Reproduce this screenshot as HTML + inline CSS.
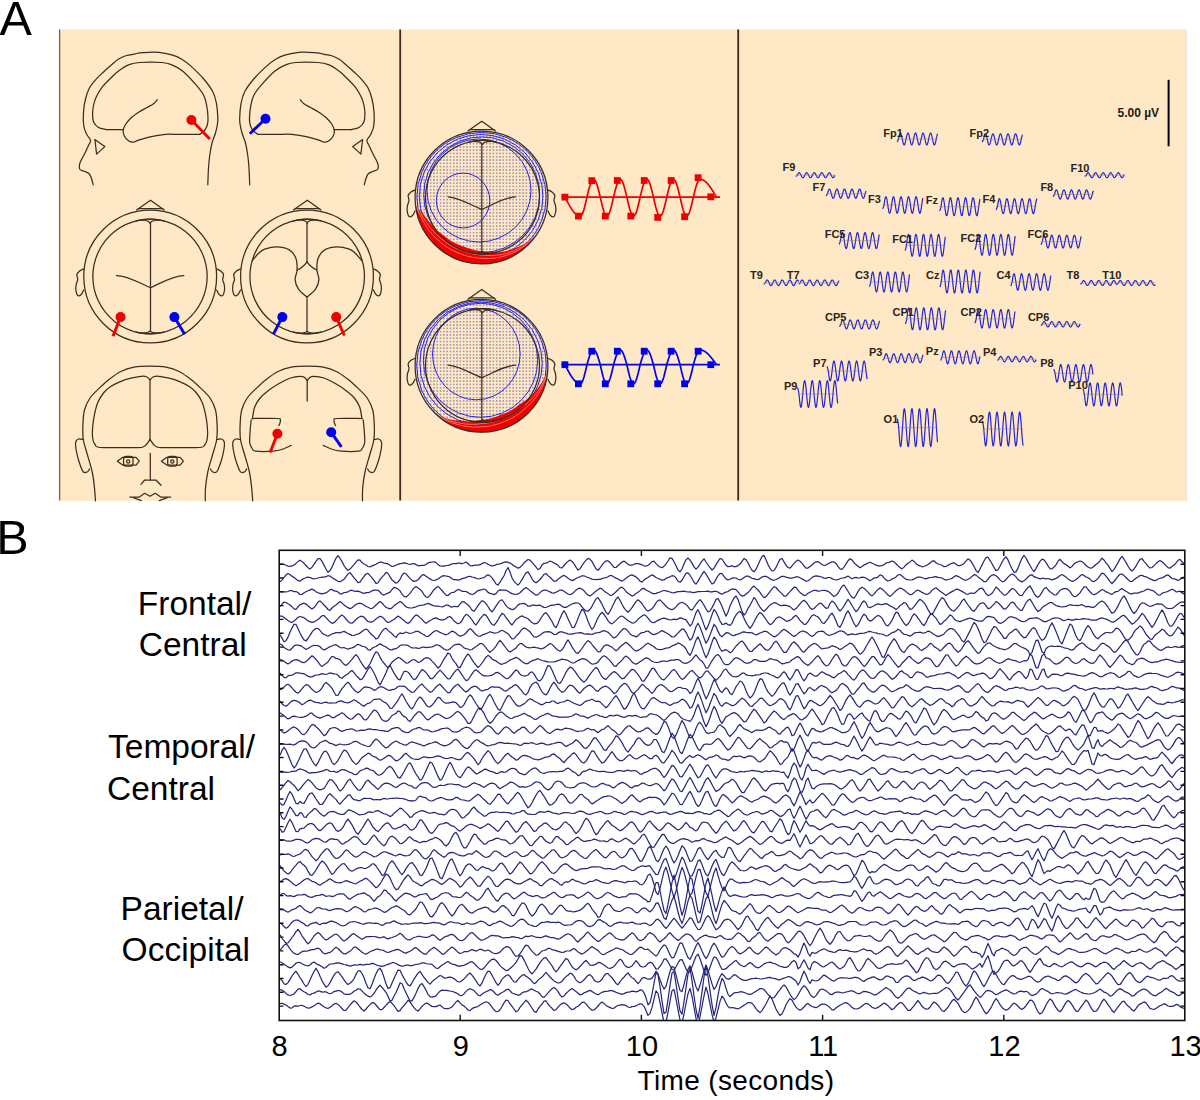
<!DOCTYPE html>
<html><head><meta charset="utf-8"><title>EEG figure</title>
<style>html,body{margin:0;padding:0;background:#fff;}svg{display:block;}</style></head>
<body>
<svg width="1200" height="1100" viewBox="0 0 1200 1100">
<rect x="0" y="0" width="1200" height="1100" fill="#ffffff"/>
<rect x="59" y="29.5" width="1127.6" height="471.3" fill="#ffe8c6"/>
<line x1="1186.4" y1="29.5" x2="1186.4" y2="500.8" stroke="#ece0dc" stroke-width="0.8"/>
<line x1="59.6" y1="29.5" x2="59.6" y2="500.5" stroke="#6e6357" stroke-width="1.3"/>
<line x1="400.2" y1="29.5" x2="400.2" y2="500.5" stroke="#3a2c1c" stroke-width="1.8"/>
<line x1="738.2" y1="29.5" x2="738.2" y2="500.5" stroke="#3a2c1c" stroke-width="1.8"/>
<text x="-0.6" y="34.9" font-family='"Liberation Sans", sans-serif' font-size="48.5" fill="#000">A</text>
<text x="-3.8" y="554" font-family='"Liberation Sans", sans-serif' font-size="48.5" fill="#000">B</text>
<g fill="none" stroke="#3a2e1f" stroke-width="1.25" stroke-linejoin="round" stroke-linecap="round">
<path d="M93.2 184.8 C92.9 183.8 92.2 180.3 91.5 178.5 C90.8 176.7 90.5 175 89.2 173.8 C88 172.6 85.6 172 84 171.2 C82.4 170.4 80.3 170.4 79.6 169 C78.9 167.6 79.2 165.3 80 162.8 C80.8 160.3 83.1 156.9 84.5 154 C85.9 151.1 87.5 147.8 88.5 145.5 C89.5 143.2 90.9 142.3 90.6 140.5 C90.3 138.7 87.9 136.9 86.8 134.5 C85.7 132.1 84.3 129.8 83.8 126 C83.2 122.2 83.2 116.5 83.5 112 C83.8 107.5 84.5 103 85.5 99 C86.5 95 87.5 91.5 89.3 88.2 C91.1 84.9 94 81.6 96.4 78.9 C98.8 76.2 101.2 74.2 103.5 72 C105.8 69.8 108 67.9 110.5 65.8 C113 63.7 115.5 61 118.2 59.3 C120.9 57.6 123.7 56.4 126.4 55.5 C129.1 54.6 132.2 54.6 134.5 54.1 C136.8 53.6 137.4 53.1 140 52.8 C142.6 52.5 146.8 52.4 150 52.3 C153.2 52.2 155.1 51.9 158.9 52.4 C162.7 52.9 168.8 54 172.7 55.2 C176.6 56.4 179.2 57.7 182.2 59.5 C185.2 61.3 187.4 62.9 190.9 66.1 C194.4 69.3 199.7 74.3 203.3 78.5 C206.9 82.7 210.5 87.4 212.7 91.5 C214.9 95.6 215.6 98.8 216.4 103.2 C217.2 107.6 217.7 114.1 217.8 117.7 C218 121.3 217.7 122.5 217.3 125 C216.9 127.5 216.4 130 215.5 133 C214.6 136 212.9 139.3 212 143 C211.1 146.7 210.4 150.8 209.8 155 C209.2 159.2 208.8 163 208.5 168 C208.2 173 207.9 182 207.8 184.8"/>
<path d="M106.2 129.6 C104.9 129.2 100.6 128.8 98.5 127.5 C96.4 126.2 94.6 124.4 93.6 122 C92.6 119.6 92.6 115.7 92.6 113 C92.6 110.3 92.9 108.5 93.4 106 C93.9 103.5 94.4 101.1 95.8 98 C97.2 94.9 99.2 91 101.8 87.6 C104.3 84.2 108.4 80.5 111.1 77.8 C113.8 75.1 115.2 73.5 118.2 71.3 C121.2 69.1 125.5 66.2 129.1 64.7 C132.7 63.2 134.6 62.9 140 62.5 C145.4 62.1 156.6 62.1 161.8 62.5 C167 62.9 167.8 63.1 171.3 64.6 C174.8 66 178.7 67.7 182.9 71.2 C187.1 74.7 193.2 81.6 196.7 85.7 C200.2 89.8 202.3 92.4 204 95.9 C205.7 99.4 206.2 103.2 206.9 106.8 C207.6 110.4 207.9 114.7 208 117.7 C208.1 120.7 207.9 122.9 207.3 125 C206.7 127.1 205.8 128.9 204.5 130.5 C203.2 132.1 200.4 133.8 199.6 134.4 L199.6 134.4 C196.3 134.4 185.7 134.4 180 134.4 C174.3 134.4 170.5 134 165.5 134.4 C160.5 134.8 154.6 135.8 150 136.8 C145.4 137.8 140.8 139.4 138 140.3 C135.2 141.2 135.1 142.1 133.5 142.2 C131.9 142.3 130 141.8 128.5 140.8 C127 139.8 125.2 137.7 124.3 136 C123.4 134.3 123 132.4 123.2 130.5 C123.4 128.6 124.2 126.6 125.5 124.5 C126.8 122.4 128.8 120.1 131 118 C133.2 115.9 136.3 113.8 139 112 C141.7 110.2 144.5 108.9 147 107.5 C149.5 106.1 152.2 104.8 153.9 103.5 C155.6 102.2 156.7 100.2 157.3 99.6"/>
<path d="M106.2 129.6 L123.4 129.6"/>
<path d="M94.8 139.5 L104.8 146.6 L96.6 154.1 L95.2 142 Z"/>
<g transform="matrix(-1 0 0 1 457.5 0)">
<path d="M93.2 184.8 C92.9 183.8 92.2 180.3 91.5 178.5 C90.8 176.7 90.5 175 89.2 173.8 C88 172.6 85.6 172 84 171.2 C82.4 170.4 80.3 170.4 79.6 169 C78.9 167.6 79.2 165.3 80 162.8 C80.8 160.3 83.1 156.9 84.5 154 C85.9 151.1 87.5 147.8 88.5 145.5 C89.5 143.2 90.9 142.3 90.6 140.5 C90.3 138.7 87.9 136.9 86.8 134.5 C85.7 132.1 84.3 129.8 83.8 126 C83.2 122.2 83.2 116.5 83.5 112 C83.8 107.5 84.5 103 85.5 99 C86.5 95 87.5 91.5 89.3 88.2 C91.1 84.9 94 81.6 96.4 78.9 C98.8 76.2 101.2 74.2 103.5 72 C105.8 69.8 108 67.9 110.5 65.8 C113 63.7 115.5 61 118.2 59.3 C120.9 57.6 123.7 56.4 126.4 55.5 C129.1 54.6 132.2 54.6 134.5 54.1 C136.8 53.6 137.4 53.1 140 52.8 C142.6 52.5 146.8 52.4 150 52.3 C153.2 52.2 155.1 51.9 158.9 52.4 C162.7 52.9 168.8 54 172.7 55.2 C176.6 56.4 179.2 57.7 182.2 59.5 C185.2 61.3 187.4 62.9 190.9 66.1 C194.4 69.3 199.7 74.3 203.3 78.5 C206.9 82.7 210.5 87.4 212.7 91.5 C214.9 95.6 215.6 98.8 216.4 103.2 C217.2 107.6 217.7 114.1 217.8 117.7 C218 121.3 217.7 122.5 217.3 125 C216.9 127.5 216.4 130 215.5 133 C214.6 136 212.9 139.3 212 143 C211.1 146.7 210.4 150.8 209.8 155 C209.2 159.2 208.8 163 208.5 168 C208.2 173 207.9 182 207.8 184.8"/>
<path d="M106.2 129.6 C104.9 129.2 100.6 128.8 98.5 127.5 C96.4 126.2 94.6 124.4 93.6 122 C92.6 119.6 92.6 115.7 92.6 113 C92.6 110.3 92.9 108.5 93.4 106 C93.9 103.5 94.4 101.1 95.8 98 C97.2 94.9 99.2 91 101.8 87.6 C104.3 84.2 108.4 80.5 111.1 77.8 C113.8 75.1 115.2 73.5 118.2 71.3 C121.2 69.1 125.5 66.2 129.1 64.7 C132.7 63.2 134.6 62.9 140 62.5 C145.4 62.1 156.6 62.1 161.8 62.5 C167 62.9 167.8 63.1 171.3 64.6 C174.8 66 178.7 67.7 182.9 71.2 C187.1 74.7 193.2 81.6 196.7 85.7 C200.2 89.8 202.3 92.4 204 95.9 C205.7 99.4 206.2 103.2 206.9 106.8 C207.6 110.4 207.9 114.7 208 117.7 C208.1 120.7 207.9 122.9 207.3 125 C206.7 127.1 205.8 128.9 204.5 130.5 C203.2 132.1 200.4 133.8 199.6 134.4 L199.6 134.4 C196.3 134.4 185.7 134.4 180 134.4 C174.3 134.4 170.5 134 165.5 134.4 C160.5 134.8 154.6 135.8 150 136.8 C145.4 137.8 140.8 139.4 138 140.3 C135.2 141.2 135.1 142.1 133.5 142.2 C131.9 142.3 130 141.8 128.5 140.8 C127 139.8 125.2 137.7 124.3 136 C123.4 134.3 123 132.4 123.2 130.5 C123.4 128.6 124.2 126.6 125.5 124.5 C126.8 122.4 128.8 120.1 131 118 C133.2 115.9 136.3 113.8 139 112 C141.7 110.2 144.5 108.9 147 107.5 C149.5 106.1 152.2 104.8 153.9 103.5 C155.6 102.2 156.7 100.2 157.3 99.6"/>
<path d="M106.2 129.6 L123.4 129.6"/>
<path d="M94.8 139.5 L104.8 146.6 L96.6 154.1 L95.2 142 Z"/>
</g>
<circle cx="150.2" cy="276.5" r="66.4"/>
<path d="M136.6 210 L150.5 200.2 L164.2 210"/>
<path d="M138.2 208.5 L162.8 208.5"/>
<path d="M83.7 269 C83 269.3 80.8 270.1 79.7 271 C78.6 271.9 77.2 273.1 76.9 274.5 C76.6 275.9 77.8 277.8 77.7 279.5 C77.6 281.2 76.5 282.8 76.2 284.5 C75.9 286.2 75.6 288.2 75.9 290 C76.1 291.8 76.8 294.8 77.7 295.5 C78.6 296.2 80.2 295.4 81.2 294.5 C82.2 293.6 83.3 290.8 83.7 290"/>
<path d="M216.7 269 C217.4 269.3 219.6 270.1 220.7 271 C221.8 271.9 223.2 273.1 223.5 274.5 C223.8 275.9 222.6 277.8 222.7 279.5 C222.8 281.2 223.9 282.8 224.2 284.5 C224.5 286.2 224.8 288.2 224.5 290 C224.2 291.8 223.6 294.8 222.7 295.5 C221.8 296.2 220.2 295.4 219.2 294.5 C218.2 293.6 217.1 290.8 216.7 290"/>
<path d="M150 223.2 C148.4 219.8 140.8 219.7 136 220.9 A57.3 57.3 0 1 1 136 332.1 C140.8 333.3 148.4 333.3 150 331.2"/>
<path d="M150 223.2 C151.6 219.8 159.2 219.7 164 220.9 A57.3 57.3 0 1 0 164 332.1 C159.2 333.3 151.6 333.3 150 331.2"/>
<path d="M150.5 222.5 L150.5 331.5"/>
<path d="M116.4 275.5 C128.2 275.5 140.2 283.5 150.5 287.8 C160.2 283.5 172.2 275.5 183.9 275.5"/>
<circle cx="307" cy="276.5" r="66.4"/>
<path d="M293.4 210 L307.3 200.2 L321 210"/>
<path d="M295 208.5 L319.6 208.5"/>
<path d="M240.5 269 C239.8 269.3 237.6 270.1 236.5 271 C235.4 271.9 234 273.1 233.7 274.5 C233.4 275.9 234.6 277.8 234.5 279.5 C234.4 281.2 233.3 282.8 233 284.5 C232.7 286.2 232.4 288.2 232.7 290 C232.9 291.8 233.6 294.8 234.5 295.5 C235.4 296.2 237 295.4 238 294.5 C239 293.6 240.1 290.8 240.5 290"/>
<path d="M373.5 269 C374.2 269.3 376.4 270.1 377.5 271 C378.6 271.9 380 273.1 380.3 274.5 C380.6 275.9 379.4 277.8 379.5 279.5 C379.6 281.2 380.7 282.8 381 284.5 C381.3 286.2 381.6 288.2 381.3 290 C381.1 291.8 380.4 294.8 379.5 295.5 C378.6 296.2 377 295.4 376 294.5 C375 293.6 373.9 290.8 373.5 290"/>
<path d="M307.2 223.1 C305.6 219.7 298 219.6 293.2 220.8 A57.4 57.4 0 1 1 293.2 332.2 C298 333.4 305.6 333.4 307.2 331.4"/>
<path d="M307.2 223.1 C308.8 219.7 316.4 219.6 321.2 220.8 A57.4 57.4 0 1 0 321.2 332.2 C316.4 333.4 308.8 333.4 307.2 331.4"/>
<path d="M307 223.5 L307 261.8"/>
<path d="M307 298.7 L307 331.5"/>
<path d="M252.4 260.5 C253.5 259.2 256.9 254.9 259 253 C261.1 251.1 261.8 250.2 264.7 249.2 C267.6 248.2 272.6 246.7 276.6 246.8 C280.6 246.9 285.7 247.8 288.9 249.6 C292.1 251.4 294.3 254.4 295.7 257.8 C297.1 261.2 297.2 266.4 297.1 270 C297 273.6 294.9 276.4 295.1 279.6 C295.3 282.8 296.5 286.2 298.5 289.1 C300.5 292.1 305.6 295.9 307 297.3"/>
<path d="M307 261.8 Q303 267.5 297.1 270"/>
<path d="M361.6 260.5 C360.5 259.2 357.1 254.9 355 253 C352.9 251.1 352.2 250.2 349.3 249.2 C346.4 248.2 341.4 246.7 337.4 246.8 C333.4 246.9 328.3 247.8 325.1 249.6 C321.9 251.4 319.7 254.4 318.3 257.8 C316.9 261.2 316.8 266.4 316.9 270 C317 273.6 319.1 276.4 318.9 279.6 C318.7 282.8 317.5 286.2 315.5 289.1 C313.5 292.1 308.4 295.9 307 297.3"/>
<path d="M307 261.8 Q311 267.5 316.9 270"/>
<path d="M95.5 500.8 C95.3 498.7 95 492.8 94.5 488 C94 483.2 93.4 477.5 92.2 472 C91 466.5 89 460.3 87.5 455 C86 449.7 84.2 445 83.4 440 C82.6 435 82.7 430 82.9 425 C83.1 420 83.3 414.5 84.5 410 C85.7 405.5 87.6 401.6 90 398 C92.4 394.4 95.9 391.5 99.1 388.4 C102.3 385.3 105.4 382.3 109 379.5 C112.6 376.7 116.7 373.6 120.9 371.5 C125.1 369.4 129.2 368.1 134 367.2 C138.8 366.3 144.7 366.1 150 366.1 C155.3 366.1 161.2 366.3 166 367.2 C170.8 368.1 174.9 369.4 179.1 371.5 C183.3 373.6 187.4 376.7 191 379.5 C194.6 382.3 197.7 385.3 200.9 388.4 C204.1 391.5 207.6 394.4 210 398 C212.4 401.6 214.3 405.5 215.5 410 C216.7 414.5 216.9 420 217.1 425 C217.3 430 217.4 435 216.6 440 C215.8 445 214 449.7 212.5 455 C211 460.3 209 466.5 207.8 472 C206.6 477.5 205.9 483.2 205.5 488 C205.1 492.8 205.3 498.7 205.3 500.8"/>
<path d="M83.1 439.5 C82.3 439.4 79.7 438.6 78.5 439 C77.3 439.4 76.1 440.3 75.7 442 C75.3 443.7 75.5 446 76 449 C76.5 452 77.3 456.2 78.5 460 C79.7 463.8 81.5 469.5 83 471.5 C84.5 473.5 86.1 472.4 87.2 472 C88.3 471.6 89.1 469.5 89.5 469"/>
<path d="M216.9 439.5 C217.7 439.4 220.3 438.6 221.5 439 C222.7 439.4 223.9 440.3 224.3 442 C224.7 443.7 224.5 446 224 449 C223.5 452 222.7 456.2 221.5 460 C220.3 463.8 218.4 469.5 217 471.5 C215.6 473.5 213.9 472.4 212.8 472 C211.7 471.6 210.9 469.5 210.5 469"/>
<path d="M150 379.9 C149.5 379.4 148.4 377.6 147 377 C145.6 376.4 144.1 376.1 141.3 376.3 C138.5 376.5 133.4 377.5 130 378.3 C126.6 379.1 124.2 379.9 120.9 381.4 C117.6 382.8 112.9 385.1 110 387 C107.1 388.9 105.5 390.5 103.5 393 C101.5 395.5 99.5 398.6 98 402 C96.5 405.4 95.6 409.3 94.7 413.4 C93.8 417.5 93.1 422.4 92.7 426.5 C92.3 430.6 92.2 435 92.6 438 C93 441 93.7 442.9 95 444.5 C96.3 446.1 94.7 447 100.5 447.5 C106.3 448 123.2 447.5 130 447.5 C136.8 447.5 138.6 447.9 141.3 447.5 C144 447.1 144.6 446.3 146 445 C147.4 443.7 149.3 440.4 150 439.5"/>
<path d="M150 379.9 C150.5 379.4 151.6 377.6 153 377 C154.4 376.4 155.9 376.1 158.7 376.3 C161.5 376.5 166.6 377.5 170 378.3 C173.4 379.1 175.8 379.9 179.1 381.4 C182.4 382.8 187.1 385.1 190 387 C192.9 388.9 194.5 390.5 196.5 393 C198.5 395.5 200.5 398.6 202 402 C203.5 405.4 204.4 409.3 205.3 413.4 C206.2 417.5 207 422.4 207.3 426.5 C207.7 430.6 207.8 435 207.4 438 C207 441 206.3 442.9 205 444.5 C203.7 446.1 205.3 447 199.5 447.5 C193.7 448 176.8 447.5 170 447.5 C163.2 447.5 161.4 447.9 158.7 447.5 C156 447.1 155.4 446.3 154 445 C152.6 443.7 150.7 440.4 150 439.5"/>
<path d="M150 379.9 L150 439.5"/>
<path d="M117.3 461.2 L122.7 457.3 L136 457.3 L139.3 461.2 L136 465.1 L122.7 465.1 Z"/>
<rect x="123.6" y="456.4" width="9.4" height="9.8" rx="2.6"/>
<circle cx="128.2" cy="461.5" r="1.6"/>
<path d="M161.4 461.2 L166.8 457.3 L180.1 457.3 L183.4 461.2 L180.1 465.1 L166.8 465.1 Z"/>
<rect x="167.7" y="456.4" width="9.4" height="9.8" rx="2.6"/>
<circle cx="172.3" cy="461.5" r="1.6"/>
<path d="M150.3 453.3 L150.3 480"/>
<path d="M141 484.3 L144.7 480 L156 480 L161 485.3"/>
<path d="M129.7 497 L139.3 497 L144.7 493.3 L150 496.3 L155.3 493.3 L160.7 497 L170.7 497"/>
<path d="M133.3 497.7 L141.3 500.6 M159.3 500.6 L167.3 497.7"/>
<path d="M252.7 500.8 C252.5 498.7 252.2 492.8 251.7 488 C251.1 483.2 250.6 477.5 249.4 472 C248.2 466.5 246.2 460.3 244.7 455 C243.2 449.7 241.4 445 240.6 440 C239.8 435 239.9 430 240.1 425 C240.3 420 240.5 414.5 241.7 410 C242.9 405.5 244.8 401.6 247.2 398 C249.6 394.4 253.1 391.5 256.3 388.4 C259.5 385.3 262.6 382.3 266.2 379.5 C269.8 376.7 273.9 373.6 278.1 371.5 C282.3 369.4 286.4 368.1 291.2 367.2 C296 366.3 301.9 366.1 307.2 366.1 C312.5 366.1 318.4 366.3 323.2 367.2 C328 368.1 332.1 369.4 336.3 371.5 C340.5 373.6 344.6 376.7 348.2 379.5 C351.8 382.3 354.9 385.3 358.1 388.4 C361.3 391.5 364.8 394.4 367.2 398 C369.6 401.6 371.5 405.5 372.7 410 C373.9 414.5 374.1 420 374.3 425 C374.5 430 374.6 435 373.8 440 C373 445 371.2 449.7 369.7 455 C368.2 460.3 366.2 466.5 365 472 C363.8 477.5 363.1 483.2 362.7 488 C362.3 492.8 362.5 498.7 362.5 500.8"/>
<path d="M240.3 439.5 C239.5 439.4 236.9 438.6 235.7 439 C234.5 439.4 233.3 440.3 232.9 442 C232.5 443.7 232.7 446 233.2 449 C233.7 452 234.5 456.2 235.7 460 C236.9 463.8 238.8 469.5 240.2 471.5 C241.6 473.5 243.3 472.4 244.4 472 C245.5 471.6 246.3 469.5 246.7 469"/>
<path d="M374.1 439.5 C374.9 439.4 377.5 438.6 378.7 439 C379.9 439.4 381.1 440.3 381.5 442 C381.9 443.7 381.7 446 381.2 449 C380.7 452 379.9 456.2 378.7 460 C377.5 463.8 375.6 469.5 374.2 471.5 C372.8 473.5 371.1 472.4 370 472 C368.9 471.6 368.1 469.5 367.7 469"/>
<path d="M252.6 417.7 C252.9 415.9 253.5 410.2 254.7 407 C255.9 403.8 257.6 401.1 259.7 398.5 C261.8 395.9 264.1 393.9 267.2 391.5 C270.3 389.1 274.3 386.2 278.2 384 C282.1 381.8 286.8 379.3 290.5 378 C294.2 376.7 298.2 376.4 300.6 376.3 C303 376.2 303.6 376.9 304.7 377.6 C305.8 378.3 306.8 380.1 307.2 380.6"/>
<path d="M252 418.5 C256.2 418.5 272.7 418.3 277.4 418.5 C282.1 418.7 279.7 419.1 280.2 419.6 C280.7 420.2 280.5 420.8 280.3 421.8 C280.1 422.8 279.1 425.1 278.8 425.7"/>
<path d="M251.2 419.9 C251 421.6 250.4 426.2 250.2 430 C249.9 433.8 249.4 439.4 249.7 442.5 C250 445.6 251.2 447.1 252.2 448.5 C253.2 449.9 252 450.8 255.5 451.2 C259 451.6 268.4 451.6 273 451.2 C277.6 450.8 280.2 450 283.2 449 C286.2 448 289.9 446 291.2 445.4"/>
<path d="M361.8 417.7 C361.4 415.9 360.9 410.2 359.7 407 C358.5 403.8 356.8 401.1 354.7 398.5 C352.6 395.9 350.3 393.9 347.2 391.5 C344.1 389.1 340.1 386.2 336.2 384 C332.3 381.8 327.6 379.3 323.9 378 C320.2 376.7 316.2 376.4 313.8 376.3 C311.4 376.2 310.8 376.9 309.7 377.6 C308.6 378.3 307.6 380.1 307.2 380.6"/>
<path d="M362.4 418.5 C358.2 418.5 341.7 418.3 337 418.5 C332.3 418.7 334.7 419.1 334.2 419.6 C333.7 420.2 333.9 420.8 334.1 421.8 C334.3 422.8 335.3 425.1 335.6 425.7"/>
<path d="M363.2 419.9 C363.4 421.6 363.9 426.2 364.2 430 C364.4 433.8 365 439.4 364.7 442.5 C364.4 445.6 363.2 447.1 362.2 448.5 C361.2 449.9 362.4 450.8 358.9 451.2 C355.4 451.6 346 451.6 341.4 451.2 C336.8 450.8 334.2 450 331.2 449 C328.2 448 324.5 446 323.2 445.4"/>
<path d="M307.2 380.6 L307.2 401"/>
</g>
<line x1="191.4" y1="120" x2="209.8" y2="139.1" stroke="#f00000" stroke-width="2.9" stroke-linecap="butt"/><circle cx="191.4" cy="120" r="5.0" fill="#f00000"/>
<line x1="265.5" y1="118.7" x2="249.8" y2="133.7" stroke="#0000f0" stroke-width="2.9" stroke-linecap="butt"/><circle cx="265.5" cy="118.7" r="5.0" fill="#0000f0"/>
<line x1="120.5" y1="317.1" x2="113" y2="336.2" stroke="#f00000" stroke-width="2.9" stroke-linecap="butt"/><circle cx="120.5" cy="317.1" r="5.0" fill="#f00000"/>
<line x1="174.4" y1="317.1" x2="184.6" y2="334.2" stroke="#0000f0" stroke-width="2.9" stroke-linecap="butt"/><circle cx="174.4" cy="317.1" r="5.0" fill="#0000f0"/>
<line x1="282.3" y1="317.1" x2="273.4" y2="334.2" stroke="#0000f0" stroke-width="2.9" stroke-linecap="butt"/><circle cx="282.3" cy="317.1" r="5.0" fill="#0000f0"/>
<line x1="336.2" y1="317.1" x2="344.4" y2="335.5" stroke="#f00000" stroke-width="2.9" stroke-linecap="butt"/><circle cx="336.2" cy="317.1" r="5.0" fill="#f00000"/>
<line x1="277.4" y1="433.7" x2="270.1" y2="452.6" stroke="#f00000" stroke-width="2.9" stroke-linecap="butt"/><circle cx="277.4" cy="433.7" r="5.0" fill="#f00000"/>
<line x1="331.2" y1="432.3" x2="341.4" y2="446.8" stroke="#0000f0" stroke-width="2.9" stroke-linecap="butt"/><circle cx="331.2" cy="432.3" r="5.0" fill="#0000f0"/>
<defs><pattern id="dots" x="0" y="0" width="3.3" height="3.3" patternUnits="userSpaceOnUse"><circle cx="1.65" cy="1.65" r="0.62" fill="#2a2290"/></pattern></defs>
<clipPath id="tc1"><circle cx="481.5" cy="197.5" r="66.6"/></clipPath>
<rect x="414.9" y="130.9" width="133.2" height="133.2" fill="url(#dots)" clip-path="url(#tc1)"/>
<g fill="none" stroke="#1a1ae6" stroke-width="0.95" clip-path="url(#tc1)">
<ellipse cx="481.5" cy="197" rx="64.6" ry="64.6"/>
<ellipse cx="481.1" cy="196.3" rx="61.8" ry="61.8"/>
<ellipse cx="481.7" cy="194.7" rx="58" ry="57.8"/>
<ellipse cx="479" cy="190.5" rx="52" ry="51.5"/>
<ellipse cx="463.1" cy="200.5" rx="26.7" ry="27.4"/>
</g>
<path d="M537.5 235.3 L536.4 237 L535.1 238.6 L533.9 240.2 L532.6 241.8 L531.2 243.3 L529.8 244.8 L528.3 246.3 L526.8 247.7 L525.3 249 L523.7 250.3 L522.1 251.6 L520.4 252.8 L518.7 253.9 L517 255 L515.2 256.1 L513.4 257.1 L511.6 258 L509.8 258.9 L507.9 259.7 L506 260.5 L504.1 261.2 L502.1 261.9 L500.2 262.5 L498.2 263 L496.2 263.5 L494.2 263.9 L492.2 264.3 L490.1 264.5 L488.1 264.8 L486.1 264.9 L484 265.1 L482 265.1 L479.9 265.1 L477.9 265 L475.8 264.9 L473.8 264.7 L471.8 264.4 L469.7 264.1 L467.7 263.7 L465.7 263.2 L463.7 262.7 L461.8 262.2 L459.8 261.5 L457.9 260.8 L456 260.1 L454.1 259.3 L452.2 258.4 L450.4 257.5 L448.6 256.5 L446.8 255.5 L445.1 254.4 L443.4 253.3 L441.7 252.1 L440 250.9 L438.4 249.6 L436.9 248.3 L435.4 246.9 L433.9 245.5 L432.5 244 L431.1 242.5 L429.7 241 L428.4 239.4 L427.2 237.7 L426 236.1 L424.8 234.4 L423.8 232.6 L422.7 230.9 L421.7 229.1 L420.8 227.3 L419.9 225.4 L419.1 223.5 L418.3 221.6 L417.6 219.7 L417 217.7 L416.4 215.8 L415.9 213.8 L415.4 211.8 L415 209.8 L414.7 207.8 L414.4 205.7 L415.4 205.6 L417 207.4 L418.7 209.1 L420.4 210.7 L422.2 212.2 L423.2 213.9 L424.2 215.5 L425.3 217 L426.5 218.5 L427.6 220 L428.9 221.4 L430 222.8 L431.1 224.1 L432.2 225.5 L433.4 226.8 L434.6 228 L435.8 229.3 L437.1 230.4 L438.4 231.5 L439.7 232.6 L441 233.6 L442.4 234.6 L443.8 235.5 L445 236.6 L446.3 237.6 L447.6 238.6 L448.9 239.5 L450.2 240.4 L451.6 241.2 L453 242 L454.4 242.8 L455.9 243.5 L457.3 244.1 L458.8 244.8 L460.3 245.3 L461.8 245.9 L463.3 246.3 L464.8 246.9 L466.2 247.5 L467.7 248.1 L469.2 248.6 L470.8 249.1 L472.3 249.5 L473.9 249.9 L475.4 250.3 L477 250.6 L478.6 250.8 L480.3 251 L481.9 251.2 L483.5 251.5 L485.2 251.8 L486.9 252.1 L488.6 252.2 L490.3 252.4 L492 252.4 L493.8 252.5 L495.5 252.4 L497.3 252.4 L499 252.2 L500.8 252 L502.6 251.7 L504.4 251.4 L506.2 251.1 L507.9 250.6 L509.7 250.1 L511.5 249.6 L513.3 249 L515 248.3 L516.8 247.6 L518.5 246.9 L520.3 246 L522 245.1 L523.7 244.2 L525.4 243.2 L527 242.1 L528.7 241 L530.4 239.9 L532 238.7 L533.6 237.4 L535.2 236.1 L536.7 234.7Z" fill="#f00000" clip-path="url(#tc1)"/>
<g fill="none" stroke="#ff8c7c" stroke-width="0.8" clip-path="url(#tc1)">
<path d="M536.7 234.7 L534.9 236.8 L533.1 238.7 L531.2 240.6 L529.2 242.4 L527.1 244.1 L525 245.7 L522.9 247.2 L520.7 248.7 L518.5 250 L516.2 251.3 L513.9 252.4 L511.5 253.5 L509.1 254.4 L506.7 255.3 L504.3 256.1 L501.8 256.7 L499.3 257.3 L496.8 257.7 L494.4 258.1 L491.9 258.3 L489.4 258.5 L486.9 258.5 L484.4 258.4 L481.9 258.3 L479.5 258.2 L477 257.9 L474.6 257.6 L472.2 257.2 L469.8 256.7 L467.4 256.1 L465.1 255.4 L462.8 254.7 L460.5 253.8 L458.2 253 L456 252 L453.8 251 L451.6 249.9 L449.5 248.7 L447.4 247.4 L445.4 246 L443.4 244.6 L441.5 243.1 L439.6 241.5 L437.8 239.8 L436 238.1 L434.2 236.4 L432.5 234.6 L430.9 232.7 L429.3 230.7 L427.8 228.7 L426.4 226.6 L425.1 224.4 L423.8 222.3 L422.5 220 L421.3 217.7 L420.3 215.4 L419.2 213 L417.9 210.6 L416.6 208.1 L415.4 205.6"/>
<path d="M536.7 234.7 L534.8 236.7 L532.8 238.5 L530.8 240.3 L528.7 241.9 L526.6 243.5 L524.4 245 L522.2 246.4 L520 247.7 L517.7 248.9 L515.4 250 L513.1 251 L510.7 251.9 L508.3 252.8 L505.9 253.5 L503.5 254.1 L501.1 254.6 L498.7 255 L496.2 255.3 L493.8 255.5 L491.4 255.6 L489 255.6 L486.6 255.5 L484.2 255.3 L481.9 255.1 L479.6 254.9 L477.3 254.6 L475 254.3 L472.7 253.9 L470.5 253.3 L468.2 252.7 L466.1 252 L463.9 251.2 L461.8 250.4 L459.6 249.7 L457.5 248.8 L455.4 247.9 L453.3 246.9 L451.3 245.8 L449.3 244.6 L447.4 243.3 L445.5 242 L443.7 240.6 L441.9 239.1 L440.1 237.6 L438.3 236.1 L436.5 234.5 L434.8 232.9 L433.1 231.1 L431.5 229.3 L430 227.4 L428.5 225.5 L427.2 223.5 L425.7 221.4 L424.3 219.3 L423 217.2 L421.7 214.9 L420.6 212.6 L418.8 210.4 L417 208.1 L415.4 205.6"/>
</g>
<g fill="none" stroke="#3a2e1f" stroke-width="1.25" stroke-linejoin="round" stroke-linecap="round">
<circle cx="481.5" cy="197.5" r="66.4"/>
<path d="M467.9 131 L481.8 121.2 L495.5 131"/>
<path d="M469.5 129.5 L494.1 129.5"/>
<path d="M415 190 C414.3 190.3 412.1 191.1 411 192 C409.9 192.9 408.5 194.1 408.2 195.5 C407.9 196.9 409.1 198.8 409 200.5 C408.9 202.2 407.8 203.8 407.5 205.5 C407.2 207.2 406.9 209.2 407.2 211 C407.4 212.8 408.1 215.8 409 216.5 C409.9 217.2 411.5 216.4 412.5 215.5 C413.5 214.6 414.6 211.8 415 211"/>
<path d="M548 190 C548.7 190.3 550.9 191.1 552 192 C553.1 192.9 554.5 194.1 554.8 195.5 C555.1 196.9 553.9 198.8 554 200.5 C554.1 202.2 555.2 203.8 555.5 205.5 C555.8 207.2 556 209.2 555.8 211 C555.5 212.8 554.9 215.8 554 216.5 C553.1 217.2 551.5 216.4 550.5 215.5 C549.5 214.6 548.4 211.8 548 211"/>
<path d="M482.5 144.4 C480.9 141 473.3 140.9 468.5 142.2 A56.8 56.8 0 1 1 468.5 252.2 C473.3 253.5 480.9 253.5 482.5 251.4"/>
<path d="M482.5 144.4 C484.1 141 491.7 140.9 496.5 142.2 A56.8 56.8 0 1 0 496.5 252.2 C491.7 253.5 484.1 253.5 482.5 251.4"/>
<path d="M481.8 143.5 L481.8 250.9"/>
<path d="M448.2 196.8 C459.5 197.5 471.5 205.5 481.8 209.4 C491.5 205.5 503.5 197.5 515.5 196.8"/>
</g>
<clipPath id="tc2"><circle cx="481.5" cy="365.8" r="66.6"/></clipPath>
<rect x="414.9" y="299.2" width="133.2" height="133.2" fill="url(#dots)" clip-path="url(#tc2)"/>
<g fill="none" stroke="#1a1ae6" stroke-width="0.95" clip-path="url(#tc2)">
<ellipse cx="481.5" cy="365.3" rx="64.8" ry="64.8"/>
<ellipse cx="481" cy="363.3" rx="61.2" ry="61.2"/>
<ellipse cx="480.5" cy="360.3" rx="57.2" ry="57"/>
<ellipse cx="476.3" cy="354" rx="43.8" ry="45.8"/>
</g>
<path d="M548.9 370.5 L548.8 372.4 L548.6 374.3 L548.3 376.2 L548 378.1 L547.6 379.9 L547.2 381.8 L546.7 383.6 L546.2 385.5 L545.6 387.3 L545 389.1 L544.3 390.8 L543.6 392.6 L542.8 394.3 L542 396 L541.1 397.7 L540.2 399.4 L539.2 401 L538.2 402.6 L537.1 404.2 L536 405.8 L534.9 407.3 L533.7 408.8 L532.5 410.2 L531.2 411.6 L529.9 413 L528.5 414.4 L527.1 415.7 L525.7 416.9 L524.3 418.2 L522.8 419.3 L521.2 420.5 L519.7 421.6 L518.1 422.6 L516.5 423.6 L514.9 424.6 L513.2 425.5 L511.5 426.4 L509.8 427.2 L508 428 L506.3 428.7 L504.5 429.4 L502.7 430 L500.9 430.6 L499.1 431.1 L497.2 431.5 L495.4 432 L493.5 432.3 L491.6 432.6 L489.7 432.9 L487.8 433.1 L485.9 433.3 L484 433.4 L482.1 433.4 L480.2 433.4 L478.3 433.3 L476.4 433.2 L474.5 433 L472.6 432.8 L470.8 432.5 L468.9 432.2 L467 431.8 L465.2 431.4 L463.3 430.9 L461.5 430.4 L459.7 429.8 L457.9 429.1 L456.1 428.5 L454.4 427.7 L452.7 426.9 L450.9 426.1 L449.3 425.2 L447.6 424.3 L446 423.3 L444.4 422.3 L442.8 421.2 L441.2 420.1 L439.7 419 L438.3 417.8 L436.8 416.5 L435.4 415.2 L436.1 414.5 L437.9 415.3 L439.7 416.1 L441.5 416.7 L443.3 417.4 L445.1 417.9 L446.9 418.5 L448.6 419 L450.4 419.4 L452.2 419.8 L454 420.1 L455.7 420.4 L457.5 420.6 L459.3 420.7 L461 420.8 L462.7 421 L464.4 421.2 L466 421.3 L467.7 421.4 L469.3 421.4 L471 421.3 L472.6 421.2 L474.2 421.1 L475.8 420.9 L477.4 420.7 L478.9 420.4 L480.5 420.1 L482 419.9 L483.5 419.7 L485 419.5 L486.5 419.3 L488 419 L489.5 418.7 L491 418.3 L492.4 417.9 L493.8 417.4 L495.3 417 L496.7 416.4 L498 415.9 L499.4 415.3 L500.8 414.8 L502.2 414.3 L503.6 413.8 L505 413.3 L506.4 412.7 L507.7 412.1 L509.1 411.4 L510.4 410.7 L511.7 409.9 L513 409.1 L514.3 408.3 L515.5 407.4 L516.7 406.5 L517.9 405.6 L519.1 404.6 L520.3 403.7 L521.7 402.9 L523.1 402.1 L524.4 401.2 L525.8 400.2 L527.1 399.2 L528.4 398.2 L529.6 397.1 L530.9 395.9 L532.1 394.8 L533.3 393.5 L534.4 392.3 L535.5 391 L536.7 389.6 L537.8 388.2 L538.9 386.8 L539.9 385.4 L540.9 383.9 L541.9 382.3 L542.8 380.7 L543.7 379.1 L544.6 377.4 L545.5 375.8 L546.4 374 L547.2 372.3 L547.9 370.4Z" fill="#f00000" clip-path="url(#tc2)"/>
<g fill="none" stroke="#ff8c7c" stroke-width="0.8" clip-path="url(#tc2)">
<path d="M547.9 370.4 L547.4 372.9 L546.7 375.3 L545.9 377.7 L545.1 380 L544.2 382.3 L543.3 384.6 L542.3 386.8 L541.1 388.9 L540 391 L538.7 393.1 L537.4 395.1 L536 397 L534.6 398.9 L533.1 400.7 L531.5 402.5 L529.9 404.2 L528.2 405.8 L526.5 407.3 L524.7 408.8 L523 410.4 L521.3 411.8 L519.5 413.3 L517.7 414.6 L515.8 415.9 L513.9 417.1 L511.9 418.2 L509.9 419.3 L507.8 420.2 L505.7 421.1 L503.6 421.9 L501.5 422.7 L499.4 423.5 L497.2 424.2 L495 424.8 L492.8 425.3 L490.6 425.8 L488.3 426.2 L486.1 426.5 L483.8 426.7 L481.5 426.8 L479.2 426.9 L476.9 427 L474.6 427 L472.3 427 L469.9 426.8 L467.6 426.5 L465.3 426.2 L463 425.7 L460.6 425.2 L458.3 424.6 L456 424 L453.7 423.3 L451.4 422.5 L449.1 421.6 L446.9 420.6 L444.7 419.6 L442.5 418.4 L440.3 417.2 L438.2 415.9 L436.1 414.5"/>
<path d="M547.9 370.4 L547.2 372.9 L546.3 375.3 L545.3 377.6 L544.3 379.8 L543.3 382.1 L542.2 384.2 L541 386.4 L539.8 388.4 L538.5 390.4 L537.1 392.3 L535.7 394.2 L534.2 396 L532.7 397.7 L531.1 399.4 L529.5 401 L527.8 402.5 L526.1 404 L524.3 405.3 L522.5 406.6 L520.9 408 L519.2 409.4 L517.5 410.7 L515.7 412 L513.9 413.2 L512.1 414.3 L510.2 415.3 L508.3 416.3 L506.3 417.2 L504.3 418 L502.3 418.7 L500.3 419.4 L498.3 420.2 L496.3 420.9 L494.3 421.5 L492.2 422.1 L490.1 422.6 L488 422.9 L485.8 423.3 L483.7 423.5 L481.5 423.6 L479.3 423.9 L477.1 424.2 L474.9 424.3 L472.6 424.3 L470.4 424.3 L468.1 424.2 L465.9 424 L463.6 423.7 L461.3 423.3 L459 422.9 L456.7 422.5 L454.4 421.9 L452 421.3 L449.7 420.6 L447.4 419.8 L445.1 418.9 L442.8 417.9 L440.6 416.9 L438.3 415.8 L436.1 414.5"/>
</g>
<g fill="none" stroke="#3a2e1f" stroke-width="1.25" stroke-linejoin="round" stroke-linecap="round">
<circle cx="481.5" cy="365.8" r="66.4"/>
<path d="M467.9 299.3 L481.8 289.5 L495.5 299.3"/>
<path d="M469.5 297.8 L494.1 297.8"/>
<path d="M415 358.3 C414.3 358.6 412.1 359.4 411 360.3 C409.9 361.2 408.5 362.4 408.2 363.8 C407.9 365.2 409.1 367.1 409 368.8 C408.9 370.5 407.8 372.1 407.5 373.8 C407.2 375.6 406.9 377.5 407.2 379.3 C407.4 381.1 408.1 384.1 409 384.8 C409.9 385.6 411.5 384.7 412.5 383.8 C413.5 382.9 414.6 380.1 415 379.3"/>
<path d="M548 358.3 C548.7 358.6 550.9 359.4 552 360.3 C553.1 361.2 554.5 362.4 554.8 363.8 C555.1 365.2 553.9 367.1 554 368.8 C554.1 370.5 555.2 372.1 555.5 373.8 C555.8 375.6 556 377.5 555.8 379.3 C555.5 381.1 554.9 384.1 554 384.8 C553.1 385.6 551.5 384.7 550.5 383.8 C549.5 382.9 548.4 380.1 548 379.3"/>
<path d="M482.5 312.7 C480.9 309.3 473.3 309.2 468.5 310.5 A56.8 56.8 0 1 1 468.5 420.5 C473.3 421.8 480.9 421.8 482.5 419.7"/>
<path d="M482.5 312.7 C484.1 309.3 491.7 309.2 496.5 310.5 A56.8 56.8 0 1 0 496.5 420.5 C491.7 421.8 484.1 421.8 482.5 419.7"/>
<path d="M481.8 311.8 L481.8 419.2"/>
<path d="M448.2 365.1 C459.5 365.8 471.5 373.8 481.8 377.7 C491.5 373.8 503.5 365.8 515.5 365.1"/>
</g>
<line x1="561.4" y1="197.1" x2="720" y2="197.1" stroke="#f00000" stroke-width="1.8"/>
<path d="M565 197.1 L565.5 198.1 L566 199 L566.5 200 L567 201 L567.5 201.9 L568 202.9 L568.5 203.8 L569 204.7 L569.5 205.6 L570 206.4 L570.5 207.3 L571 208.1 L571.5 208.9 L572 209.6 L572.5 210.3 L573 211 L573.5 211.7 L574 212.3 L574.5 212.8 L575 213.4 L575.5 213.8 L576 214.3 L576.5 214.7 L577 215 L577.5 215.3 L578 215.6 L578.5 215.8 L579 215.9 L579.5 216 L580 216.1 L580.5 216.1 L581 215.8 L581.5 215.3 L582 214.6 L582.5 213.6 L583 212.4 L583.5 210.9 L584 209.3 L584.5 207.5 L585 205.5 L585.5 203.5 L586 201.3 L586.5 199.1 L587 196.9 L587.5 194.8 L588 192.7 L588.5 190.7 L589 188.8 L589.5 187 L590 185.4 L590.5 183.9 L591 182.6 L591.5 181.4 L592 180.6 L592.5 179.9 L593 179.5 L593.5 179.3 L594 179.4 L594.5 179.7 L595 180.3 L595.5 181.1 L596 182.1 L596.5 183.3 L597 184.7 L597.5 186.3 L598 188.1 L598.5 189.9 L599 191.9 L599.5 194 L600 196 L600.5 198.2 L601 200.4 L601.5 202.6 L602 204.7 L602.5 206.7 L603 208.6 L603.5 210.3 L604 211.8 L604.5 213.1 L605 214.2 L605.5 215.1 L606 215.7 L606.5 216 L607 216.1 L607.5 215.9 L608 215.5 L608.5 214.8 L609 213.8 L609.5 212.6 L610 211.2 L610.5 209.6 L611 207.9 L611.5 205.9 L612 203.9 L612.5 201.8 L613 199.6 L613.5 197.3 L614 195.2 L614.5 193.1 L615 191.1 L615.5 189.2 L616 187.4 L616.5 185.7 L617 184.1 L617.5 182.8 L618 181.6 L618.5 180.7 L619 180 L619.5 179.5 L620 179.3 L620.5 179.3 L621 179.6 L621.5 180.1 L622 180.9 L622.5 181.9 L623 183.1 L623.5 184.4 L624 186 L624.5 187.7 L625 189.6 L625.5 191.5 L626 193.6 L626.5 195.6 L627 197.8 L627.5 200 L628 202.2 L628.5 204.3 L629 206.3 L629.5 208.2 L630 210 L630.5 211.5 L631 212.9 L631.5 214 L632 214.9 L632.5 215.6 L633 216 L633.5 216.1 L634 216 L634.5 215.6 L635 214.9 L635.5 214 L636 212.9 L636.5 211.5 L637 210 L637.5 208.2 L638 206.3 L638.5 204.3 L639 202.2 L639.5 200 L640 197.8 L640.5 195.6 L641 193.6 L641.5 191.5 L642 189.6 L642.5 187.7 L643 186 L643.5 184.4 L644 183.1 L644.5 181.9 L645 180.9 L645.5 180.1 L646 179.6 L646.5 179.3 L647 179.3 L647.5 179.5 L648 180 L648.5 180.7 L649 181.6 L649.5 182.8 L650 184.1 L650.5 185.7 L651 187.4 L651.5 189.2 L652 191.1 L652.5 193.1 L653 195.2 L653.5 197.3 L654 199.6 L654.5 201.8 L655 203.9 L655.5 205.9 L656 207.9 L656.5 209.6 L657 211.2 L657.5 212.6 L658 213.8 L658.5 214.8 L659 215.5 L659.5 215.9 L660 216.1 L660.5 216 L661 215.7 L661.5 215.1 L662 214.2 L662.5 213.1 L663 211.8 L663.5 210.3 L664 208.6 L664.5 206.7 L665 204.7 L665.5 202.6 L666 200.4 L666.5 198.2 L667 196 L667.5 194 L668 191.9 L668.5 189.9 L669 188.1 L669.5 186.3 L670 184.7 L670.5 183.3 L671 182.1 L671.5 181.1 L672 180.3 L672.5 179.7 L673 179.4 L673.5 179.3 L674 179.5 L674.5 179.9 L675 180.6 L675.5 181.4 L676 182.6 L676.5 183.9 L677 185.4 L677.5 187 L678 188.8 L678.5 190.7 L679 192.7 L679.5 194.8 L680 196.9 L680.5 199.1 L681 201.3 L681.5 203.5 L682 205.5 L682.5 207.5 L683 209.3 L683.5 210.9 L684 212.4 L684.5 213.6 L685 214.6 L685.5 215.3 L686 215.8 L686.5 216.1 L687 216.1 L687.5 215.8 L688 215.2 L688.5 214.4 L689 213.4 L689.5 212.1 L690 210.6 L690.5 208.9 L691 207.1 L691.5 205.1 L692 203.1 L692.5 200.9 L693 198.7 L693.5 196.5 L694 194.4 L694.5 192.3 L695 190.3 L695.5 188.4 L696 186.7 L696.5 185 L697 183.6 L697.5 182.3 L698 181.2 L698.5 180.4 L699 179.8 L699.5 179.4 L700 179.3 L700.5 179.3 L701 179.4 L701.5 179.5 L702 179.6 L702.5 179.8 L703 180 L703.5 180.3 L704 180.6 L704.5 180.9 L705 181.3 L705.5 181.7 L706 182.1 L706.5 182.6 L707 183.1 L707.5 183.6 L708 184.2 L708.5 184.8 L709 185.4 L709.5 186.1 L710 186.8 L710.5 187.5 L711 188.2 L711.5 188.9 L712 189.7 L712.5 190.5 L713 191.3 L713.5 192.1 L714 192.9 L714.5 193.7 L715 194.6 L715.5 195.4 L716 196.3 L716.5 197.1" fill="none" stroke="#f00000" stroke-width="1.7"/>
<rect x="561.5" y="193.7" width="6.8" height="6.8" fill="#f00000"/>
<rect x="575" y="212.7" width="6.8" height="6.8" fill="#f00000"/>
<rect x="588.4" y="177.2" width="6.8" height="6.8" fill="#f00000"/>
<rect x="601.9" y="212.7" width="6.8" height="6.8" fill="#f00000"/>
<rect x="613.9" y="177.1" width="6.8" height="6.8" fill="#f00000"/>
<rect x="627.4" y="212.7" width="6.8" height="6.8" fill="#f00000"/>
<rect x="640.8" y="177.1" width="6.8" height="6.8" fill="#f00000"/>
<rect x="654.3" y="214" width="6.8" height="6.8" fill="#f00000"/>
<rect x="667.7" y="177.1" width="6.8" height="6.8" fill="#f00000"/>
<rect x="681.2" y="213.3" width="6.8" height="6.8" fill="#f00000"/>
<rect x="694.7" y="174.3" width="6.8" height="6.8" fill="#f00000"/>
<rect x="707.4" y="193.4" width="6.8" height="6.8" fill="#f00000"/>
<line x1="561.4" y1="364.7" x2="720" y2="364.7" stroke="#0000f0" stroke-width="1.8"/>
<path d="M565 364.7 L565.5 365.7 L566 366.6 L566.5 367.6 L567 368.6 L567.5 369.5 L568 370.5 L568.5 371.4 L569 372.3 L569.5 373.2 L570 374 L570.5 374.9 L571 375.7 L571.5 376.5 L572 377.2 L572.5 377.9 L573 378.6 L573.5 379.3 L574 379.9 L574.5 380.4 L575 381 L575.5 381.4 L576 381.9 L576.5 382.3 L577 382.6 L577.5 382.9 L578 383.2 L578.5 383.4 L579 383.5 L579.5 383.6 L580 383.7 L580.5 383.7 L581 383.4 L581.5 382.9 L582 382.2 L582.5 381.2 L583 380 L583.5 378.5 L584 376.9 L584.5 375.1 L585 373.1 L585.5 371.1 L586 368.9 L586.5 366.7 L587 364.5 L587.5 362.8 L588 361.1 L588.5 359.4 L589 357.8 L589.5 356.3 L590 354.9 L590.5 353.7 L591 352.6 L591.5 351.7 L592 350.9 L592.5 350.4 L593 350 L593.5 349.9 L594 350 L594.5 350.2 L595 350.7 L595.5 351.4 L596 352.2 L596.5 353.2 L597 354.4 L597.5 355.7 L598 357.2 L598.5 358.8 L599 360.4 L599.5 362.1 L600 363.8 L600.5 365.8 L601 368 L601.5 370.2 L602 372.3 L602.5 374.3 L603 376.2 L603.5 377.9 L604 379.4 L604.5 380.7 L605 381.8 L605.5 382.7 L606 383.3 L606.5 383.6 L607 383.7 L607.5 383.5 L608 383.1 L608.5 382.4 L609 381.4 L609.5 380.2 L610 378.8 L610.5 377.2 L611 375.5 L611.5 373.5 L612 371.5 L612.5 369.4 L613 367.2 L613.5 364.9 L614 363.1 L614.5 361.4 L615 359.7 L615.5 358.1 L616 356.6 L616.5 355.2 L617 353.9 L617.5 352.8 L618 351.9 L618.5 351.1 L619 350.5 L619.5 350.1 L620 349.9 L620.5 349.9 L621 350.2 L621.5 350.6 L622 351.2 L622.5 352 L623 353 L623.5 354.2 L624 355.5 L624.5 356.9 L625 358.4 L625.5 360.1 L626 361.7 L626.5 363.5 L627 365.4 L627.5 367.6 L628 369.8 L628.5 371.9 L629 373.9 L629.5 375.8 L630 377.6 L630.5 379.1 L631 380.5 L631.5 381.6 L632 382.5 L632.5 383.2 L633 383.6 L633.5 383.7 L634 383.6 L634.5 383.2 L635 382.5 L635.5 381.6 L636 380.5 L636.5 379.1 L637 377.6 L637.5 375.8 L638 373.9 L638.5 371.9 L639 369.8 L639.5 367.6 L640 365.4 L640.5 363.5 L641 361.7 L641.5 360.1 L642 358.4 L642.5 356.9 L643 355.5 L643.5 354.2 L644 353 L644.5 352 L645 351.2 L645.5 350.6 L646 350.2 L646.5 349.9 L647 349.9 L647.5 350.1 L648 350.5 L648.5 351.1 L649 351.9 L649.5 352.8 L650 353.9 L650.5 355.2 L651 356.6 L651.5 358.1 L652 359.7 L652.5 361.4 L653 363.1 L653.5 364.9 L654 367.2 L654.5 369.4 L655 371.5 L655.5 373.5 L656 375.5 L656.5 377.2 L657 378.8 L657.5 380.2 L658 381.4 L658.5 382.4 L659 383.1 L659.5 383.5 L660 383.7 L660.5 383.6 L661 383.3 L661.5 382.7 L662 381.8 L662.5 380.7 L663 379.4 L663.5 377.9 L664 376.2 L664.5 374.3 L665 372.3 L665.5 370.2 L666 368 L666.5 365.8 L667 363.8 L667.5 362.1 L668 360.4 L668.5 358.8 L669 357.2 L669.5 355.7 L670 354.4 L670.5 353.2 L671 352.2 L671.5 351.4 L672 350.7 L672.5 350.2 L673 350 L673.5 349.9 L674 350 L674.5 350.4 L675 350.9 L675.5 351.7 L676 352.6 L676.5 353.7 L677 354.9 L677.5 356.3 L678 357.8 L678.5 359.4 L679 361.1 L679.5 362.8 L680 364.5 L680.5 366.7 L681 368.9 L681.5 371.1 L682 373.1 L682.5 375.1 L683 376.9 L683.5 378.5 L684 380 L684.5 381.2 L685 382.2 L685.5 382.9 L686 383.4 L686.5 383.7 L687 383.7 L687.5 383.4 L688 382.8 L688.5 382 L689 381 L689.5 379.7 L690 378.2 L690.5 376.5 L691 374.7 L691.5 372.7 L692 370.7 L692.5 368.5 L693 366.3 L693.5 364.2 L694 362.4 L694.5 360.7 L695 359.1 L695.5 357.5 L696 356 L696.5 354.7 L697 353.5 L697.5 352.4 L698 351.5 L698.5 350.8 L699 350.3 L699.5 350 L700 349.9 L700.5 349.9 L701 350 L701.5 350.1 L702 350.2 L702.5 350.3 L703 350.5 L703.5 350.7 L704 351 L704.5 351.2 L705 351.5 L705.5 351.9 L706 352.2 L706.5 352.6 L707 353.1 L707.5 353.5 L708 354 L708.5 354.5 L709 355 L709.5 355.6 L710 356.1 L710.5 356.7 L711 357.3 L711.5 357.9 L712 358.6 L712.5 359.2 L713 359.9 L713.5 360.5 L714 361.2 L714.5 361.9 L715 362.6 L715.5 363.3 L716 364 L716.5 364.7" fill="none" stroke="#0000f0" stroke-width="1.7"/>
<rect x="561.5" y="361.3" width="6.8" height="6.8" fill="#0000f0"/>
<rect x="575" y="380.4" width="6.8" height="6.8" fill="#0000f0"/>
<rect x="588.4" y="347.8" width="6.8" height="6.8" fill="#0000f0"/>
<rect x="601.9" y="380.4" width="6.8" height="6.8" fill="#0000f0"/>
<rect x="613.9" y="347.8" width="6.8" height="6.8" fill="#0000f0"/>
<rect x="627.4" y="380.4" width="6.8" height="6.8" fill="#0000f0"/>
<rect x="640.8" y="347.8" width="6.8" height="6.8" fill="#0000f0"/>
<rect x="654.3" y="380.4" width="6.8" height="6.8" fill="#0000f0"/>
<rect x="667.7" y="347.8" width="6.8" height="6.8" fill="#0000f0"/>
<rect x="681.2" y="380.4" width="6.8" height="6.8" fill="#0000f0"/>
<rect x="694.7" y="347.8" width="6.8" height="6.8" fill="#0000f0"/>
<rect x="707.4" y="361.3" width="6.8" height="6.8" fill="#0000f0"/>
<g fill="none" stroke="#2424d8" stroke-width="1.2" stroke-linejoin="round">
<path d="M897 141.8 L897.4 141.4 L897.7 140.8 L898.1 140.1 L898.4 139.2 L898.8 137.7 L899.1 136.1 L899.5 134.7 L899.8 133.7 L900.2 133.1 L900.5 133 L900.9 133.5 L901.2 134.4 L901.6 135.7 L901.9 137.3 L902.3 139 L902.6 140.8 L903 142.4 L903.3 143.6 L903.7 144.5 L904 145 L904.4 144.9 L904.7 144.3 L905.1 143.3 L905.5 141.9 L905.8 140.2 L906.2 138.5 L906.5 136.8 L906.9 135.3 L907.2 134.1 L907.6 133.3 L907.9 133 L908.3 133.2 L908.6 133.9 L909 135.1 L909.3 136.6 L909.7 138.3 L910 140 L910.4 141.7 L910.7 143.1 L911.1 144.2 L911.4 144.8 L911.8 145 L912.1 144.6 L912.5 143.8 L912.8 142.5 L913.2 141 L913.6 139.2 L913.9 137.5 L914.3 135.9 L914.6 134.5 L915 133.6 L915.3 133.1 L915.7 133.1 L916 133.6 L916.4 134.5 L916.7 135.9 L917.1 137.5 L917.4 139.3 L917.8 141 L918.1 142.5 L918.5 143.8 L918.8 144.6 L919.2 145 L919.5 144.8 L919.9 144.2 L920.2 143.1 L920.6 141.7 L920.9 140 L921.3 138.3 L921.7 136.6 L922 135.1 L922.4 133.9 L922.7 133.2 L923.1 133 L923.4 133.3 L923.8 134.1 L924.1 135.3 L924.5 136.8 L924.8 138.5 L925.2 140.2 L925.5 141.9 L925.9 143.3 L926.2 144.3 L926.6 144.9 L926.9 145 L927.3 144.5 L927.6 143.6 L928 142.3 L928.3 140.8 L928.7 139 L929 137.3 L929.4 135.7 L929.8 134.4 L930.1 133.5 L930.5 133 L930.8 133.1 L931.2 133.7 L931.5 134.7 L931.9 136.1 L932.2 137.7 L932.6 139.5 L932.9 141.2 L933.3 142.7 L933.6 143.9 L934 144.7 L934.3 145 L934.7 144.8 L935 144.1 L935.4 142.9 L935.7 141.5 L936.1 139.8 L936.4 138 L936.8 136.4 L937.1 134.9 L937.5 133.8"/>
<path d="M982 142.1 L982.4 141.7 L982.7 141.1 L983.1 140.4 L983.4 139.6 L983.8 138.2 L984.1 136.7 L984.5 135.4 L984.8 134.4 L985.2 133.9 L985.5 133.8 L985.9 134.3 L986.2 135.1 L986.6 136.3 L986.9 137.8 L987.3 139.4 L987.6 141.1 L988 142.5 L988.3 143.7 L988.7 144.6 L989 145 L989.4 144.9 L989.7 144.3 L990.1 143.4 L990.5 142.1 L990.8 140.5 L991.2 138.9 L991.5 137.3 L991.9 135.9 L992.2 134.8 L992.6 134.1 L992.9 133.8 L993.3 134 L993.6 134.7 L994 135.8 L994.3 137.1 L994.7 138.7 L995 140.4 L995.4 141.9 L995.7 143.2 L996.1 144.3 L996.4 144.9 L996.8 145 L997.1 144.6 L997.5 143.9 L997.8 142.7 L998.2 141.2 L998.6 139.6 L998.9 138 L999.3 136.5 L999.6 135.2 L1000 134.3 L1000.3 133.9 L1000.7 133.9 L1001 134.3 L1001.4 135.2 L1001.7 136.5 L1002.1 138 L1002.4 139.6 L1002.8 141.2 L1003.1 142.7 L1003.5 143.9 L1003.8 144.6 L1004.2 145 L1004.5 144.9 L1004.9 144.3 L1005.2 143.2 L1005.6 141.9 L1005.9 140.3 L1006.3 138.7 L1006.7 137.1 L1007 135.7 L1007.4 134.7 L1007.7 134 L1008.1 133.8 L1008.4 134.1 L1008.8 134.8 L1009.1 135.9 L1009.5 137.3 L1009.8 138.9 L1010.2 140.6 L1010.5 142.1 L1010.9 143.4 L1011.2 144.4 L1011.6 144.9 L1011.9 145 L1012.3 144.6 L1012.6 143.7 L1013 142.5 L1013.3 141 L1013.7 139.4 L1014 137.8 L1014.4 136.3 L1014.8 135.1 L1015.1 134.2 L1015.5 133.8 L1015.8 133.9 L1016.2 134.4 L1016.5 135.4 L1016.9 136.7 L1017.2 138.2 L1017.6 139.8 L1017.9 141.4 L1018.3 142.9 L1018.6 144 L1019 144.7 L1019.3 145 L1019.7 144.8 L1020 144.1 L1020.4 143.1 L1020.7 141.7 L1021.1 140.1 L1021.4 138.5 L1021.8 136.9 L1022.1 135.6 L1022.5 134.6"/>
<path d="M795.8 176.4 L796.1 176.2 L796.5 176 L796.8 175.7 L797.2 175.3 L797.5 174.7 L797.9 174 L798.2 173.4 L798.6 173 L798.9 172.7 L799.3 172.7 L799.6 172.9 L800 173.3 L800.3 173.8 L800.7 174.4 L801 175.2 L801.4 175.9 L801.7 176.5 L802.1 177.1 L802.4 177.5 L802.8 177.7 L803.1 177.7 L803.5 177.4 L803.8 177 L804.2 176.5 L804.5 175.8 L804.9 175.1 L805.2 174.4 L805.6 173.7 L805.9 173.2 L806.3 172.9 L806.6 172.7 L807 172.8 L807.3 173 L807.7 173.5 L808 174.1 L808.4 174.8 L808.7 175.5 L809.1 176.2 L809.4 176.8 L809.8 177.3 L810.1 177.6 L810.5 177.7 L810.8 177.6 L811.2 177.3 L811.5 176.8 L811.9 176.2 L812.2 175.5 L812.6 174.7 L812.9 174.1 L813.3 173.5 L813.6 173 L814 172.8 L814.3 172.7 L814.7 172.9 L815 173.2 L815.4 173.7 L815.7 174.4 L816.1 175.1 L816.4 175.8 L816.8 176.5 L817.1 177.1 L817.5 177.5 L817.8 177.7 L818.2 177.7 L818.5 177.5 L818.9 177.1 L819.2 176.5 L819.6 175.9 L819.9 175.1 L820.3 174.4 L820.6 173.8 L821 173.2 L821.3 172.9 L821.7 172.7 L822 172.8 L822.4 173 L822.7 173.4 L823.1 174 L823.4 174.7 L823.8 175.4 L824.1 176.1 L824.5 176.8 L824.8 177.3 L825.2 177.6 L825.5 177.7 L825.9 177.6 L826.2 177.3 L826.6 176.8 L826.9 176.2 L827.3 175.5 L827.6 174.8 L828 174.1 L828.3 173.5 L828.7 173.1 L829 172.8 L829.4 172.7 L829.7 172.8 L830.1 173.2 L830.4 173.7 L830.8 174.3 L831.1 175 L831.5 175.8 L831.8 176.4 L832.2 177 L832.5 177.4 L832.9 177.7 L833.2 177.7 L833.6 177.5 L833.9 177.1 L834.3 176.6 L834.6 175.9 L835 175.2"/>
<path d="M1084.7 176.4 L1085.1 176.2 L1085.4 176 L1085.8 175.7 L1086.1 175.3 L1086.5 174.7 L1086.8 174 L1087.2 173.4 L1087.5 173 L1087.9 172.7 L1088.2 172.7 L1088.6 172.9 L1088.9 173.3 L1089.3 173.8 L1089.6 174.4 L1090 175.2 L1090.3 175.9 L1090.7 176.5 L1091 177.1 L1091.4 177.5 L1091.7 177.7 L1092.1 177.7 L1092.4 177.4 L1092.8 177 L1093.1 176.5 L1093.5 175.8 L1093.8 175.1 L1094.2 174.4 L1094.5 173.7 L1094.9 173.2 L1095.2 172.9 L1095.6 172.7 L1095.9 172.8 L1096.3 173 L1096.6 173.5 L1097 174.1 L1097.3 174.8 L1097.7 175.5 L1098 176.2 L1098.4 176.8 L1098.7 177.3 L1099.1 177.6 L1099.4 177.7 L1099.8 177.6 L1100.1 177.3 L1100.5 176.8 L1100.8 176.2 L1101.2 175.5 L1101.5 174.7 L1101.9 174.1 L1102.2 173.5 L1102.6 173 L1102.9 172.8 L1103.3 172.7 L1103.6 172.9 L1104 173.2 L1104.3 173.7 L1104.7 174.4 L1105 175.1 L1105.4 175.8 L1105.7 176.5 L1106.1 177.1 L1106.4 177.5 L1106.8 177.7 L1107.1 177.7 L1107.5 177.5 L1107.8 177.1 L1108.2 176.5 L1108.5 175.9 L1108.9 175.1 L1109.2 174.4 L1109.6 173.8 L1109.9 173.2 L1110.3 172.9 L1110.6 172.7 L1111 172.8 L1111.3 173 L1111.7 173.4 L1112 174 L1112.4 174.7 L1112.7 175.4 L1113.1 176.1 L1113.4 176.8 L1113.8 177.3 L1114.1 177.6 L1114.5 177.7 L1114.8 177.6 L1115.2 177.3 L1115.5 176.8 L1115.9 176.2 L1116.2 175.5 L1116.6 174.8 L1116.9 174.1 L1117.3 173.5 L1117.6 173.1 L1118 172.8 L1118.3 172.7 L1118.7 172.8 L1119 173.2 L1119.4 173.7 L1119.7 174.3 L1120.1 175 L1120.4 175.8 L1120.8 176.4 L1121.1 177 L1121.5 177.4 L1121.8 177.7 L1122.2 177.7 L1122.5 177.5 L1122.9 177.1 L1123.2 176.6 L1123.6 175.9 L1123.9 175.2 L1124.3 174.5"/>
<path d="M826 195.9 L826.4 195.6 L826.7 195.1 L827.1 194.5 L827.4 193.9 L827.8 192.7 L828.1 191.5 L828.5 190.4 L828.8 189.6 L829.2 189.2 L829.5 189.1 L829.9 189.5 L830.2 190.1 L830.6 191.1 L830.9 192.3 L831.3 193.7 L831.6 195 L832 196.2 L832.3 197.2 L832.7 197.9 L833 198.3 L833.4 198.2 L833.7 197.8 L834.1 197 L834.4 196 L834.8 194.8 L835.1 193.4 L835.5 192.1 L835.8 190.9 L836.2 190 L836.5 189.4 L836.9 189.1 L837.2 189.2 L837.6 189.7 L837.9 190.6 L838.3 191.7 L838.6 193 L839 194.3 L839.3 195.6 L839.7 196.7 L840 197.6 L840.4 198.1 L840.7 198.3 L841.1 198.1 L841.4 197.5 L841.8 196.6 L842.1 195.4 L842.5 194.1 L842.8 192.8 L843.2 191.5 L843.5 190.4 L843.9 189.6 L844.2 189.2 L844.6 189.1 L844.9 189.4 L845.3 190.1 L845.6 191.1 L846 192.3 L846.4 193.6 L846.7 194.9 L847.1 196.2 L847.4 197.2 L847.8 197.9 L848.1 198.3 L848.5 198.2 L848.8 197.8 L849.2 197.1 L849.5 196 L849.9 194.8 L850.2 193.5 L850.6 192.2 L850.9 191 L851.3 190 L851.6 189.4 L852 189.1 L852.3 189.2 L852.7 189.7 L853 190.5 L853.4 191.6 L853.7 192.9 L854.1 194.3 L854.4 195.5 L854.8 196.7 L855.1 197.6 L855.5 198.1 L855.8 198.3 L856.2 198.1 L856.5 197.5 L856.9 196.6 L857.2 195.5 L857.6 194.2 L857.9 192.8 L858.3 191.6 L858.6 190.5 L859 189.7 L859.3 189.2 L859.7 189.1 L860 189.4 L860.4 190.1 L860.7 191 L861.1 192.2 L861.4 193.6 L861.8 194.9 L862.1 196.1 L862.5 197.1 L862.8 197.9 L863.2 198.3 L863.5 198.2 L863.9 197.9 L864.2 197.1 L864.6 196.1 L864.9 194.8 L865.3 193.5 L865.6 192.2 L866 191"/>
<path d="M1053 196.7 L1053.4 196.4 L1053.7 195.9 L1054.1 195.3 L1054.4 194.7 L1054.8 193.5 L1055.1 192.3 L1055.5 191.2 L1055.8 190.4 L1056.2 190 L1056.5 189.9 L1056.9 190.3 L1057.2 190.9 L1057.6 191.9 L1057.9 193.2 L1058.3 194.5 L1058.6 195.8 L1059 197 L1059.3 198 L1059.7 198.7 L1060 199.1 L1060.4 199 L1060.7 198.6 L1061.1 197.8 L1061.4 196.8 L1061.8 195.5 L1062.1 194.2 L1062.5 192.9 L1062.8 191.7 L1063.2 190.8 L1063.5 190.2 L1063.9 189.9 L1064.2 190 L1064.6 190.6 L1064.9 191.4 L1065.3 192.5 L1065.6 193.8 L1066 195.2 L1066.3 196.4 L1066.7 197.6 L1067.1 198.4 L1067.4 198.9 L1067.8 199.1 L1068.1 198.9 L1068.5 198.2 L1068.8 197.3 L1069.2 196.1 L1069.5 194.8 L1069.9 193.5 L1070.2 192.3 L1070.6 191.2 L1070.9 190.4 L1071.3 190 L1071.6 189.9 L1072 190.3 L1072.3 191 L1072.7 192 L1073 193.2 L1073.4 194.5 L1073.7 195.8 L1074.1 197 L1074.4 198 L1074.8 198.7 L1075.1 199.1 L1075.5 199 L1075.8 198.6 L1076.2 197.8 L1076.5 196.7 L1076.9 195.5 L1077.2 194.2 L1077.6 192.8 L1077.9 191.7 L1078.3 190.8 L1078.6 190.1 L1079 189.9 L1079.3 190.1 L1079.7 190.6 L1080.1 191.4 L1080.4 192.6 L1080.8 193.8 L1081.1 195.2 L1081.5 196.5 L1081.8 197.6 L1082.2 198.4 L1082.5 199 L1082.9 199.1 L1083.2 198.8 L1083.6 198.2 L1083.9 197.3 L1084.3 196.1 L1084.6 194.8 L1085 193.5 L1085.3 192.2 L1085.7 191.2 L1086 190.4 L1086.4 190 L1086.7 189.9 L1087.1 190.3 L1087.4 191 L1087.8 192 L1088.1 193.2 L1088.5 194.5 L1088.8 195.9 L1089.2 197.1 L1089.5 198.1 L1089.9 198.7 L1090.2 199.1 L1090.6 199 L1090.9 198.6 L1091.3 197.8 L1091.6 196.7 L1092 195.5 L1092.3 194.1 L1092.7 192.8 L1093 191.7 L1093.4 190.7"/>
<path d="M882.5 208.9 L882.9 208.4 L883.2 207.6 L883.6 206.5 L883.9 205.3 L884.3 203.2 L884.6 200.9 L885 199 L885.3 197.6 L885.7 196.8 L886 196.8 L886.4 197.4 L886.7 198.6 L887.1 200.5 L887.4 202.7 L887.8 205.1 L888.1 207.4 L888.5 209.6 L888.8 211.4 L889.2 212.7 L889.5 213.3 L889.9 213.1 L890.2 212.3 L890.6 210.9 L891 209 L891.3 206.7 L891.7 204.3 L892 201.9 L892.4 199.8 L892.7 198.2 L893.1 197.1 L893.4 196.7 L893.8 197 L894.1 198 L894.5 199.6 L894.8 201.7 L895.2 204 L895.5 206.4 L895.9 208.7 L896.2 210.7 L896.6 212.2 L896.9 213.1 L897.3 213.3 L897.6 212.8 L898 211.6 L898.3 209.9 L898.7 207.7 L899.1 205.3 L899.4 202.9 L899.8 200.7 L900.1 198.8 L900.5 197.5 L900.8 196.8 L901.2 196.8 L901.5 197.5 L901.9 198.8 L902.2 200.7 L902.6 202.9 L902.9 205.4 L903.3 207.7 L903.6 209.9 L904 211.6 L904.3 212.8 L904.7 213.3 L905 213.1 L905.4 212.2 L905.7 210.7 L906.1 208.7 L906.4 206.4 L906.8 204 L907.2 201.6 L907.5 199.6 L907.9 198 L908.2 197 L908.6 196.7 L908.9 197.1 L909.3 198.2 L909.6 199.8 L910 201.9 L910.3 204.3 L910.7 206.7 L911 209 L911.4 210.9 L911.7 212.3 L912.1 213.1 L912.4 213.3 L912.8 212.7 L913.1 211.4 L913.5 209.6 L913.8 207.4 L914.2 205 L914.5 202.6 L914.9 200.4 L915.3 198.6 L915.6 197.4 L916 196.7 L916.3 196.8 L916.7 197.6 L917 199 L917.4 201 L917.7 203.2 L918.1 205.7 L918.4 208 L918.8 210.1 L919.1 211.8 L919.5 212.9 L919.8 213.3 L920.2 213 L920.5 212 L920.9 210.5 L921.2 208.4 L921.6 206.1 L921.9 203.7 L922.3 201.4 L922.6 199.4 L923 197.8"/>
<path d="M939.5 211 L939.9 210.4 L940.2 209.5 L940.6 208.3 L940.9 207 L941.3 204.8 L941.6 202.3 L942 200.2 L942.3 198.7 L942.7 197.8 L943 197.8 L943.4 198.4 L943.7 199.8 L944.1 201.8 L944.4 204.2 L944.8 206.8 L945.1 209.4 L945.5 211.7 L945.8 213.7 L946.2 215 L946.5 215.7 L946.9 215.5 L947.2 214.7 L947.6 213.1 L948 211 L948.3 208.5 L948.7 205.9 L949 203.3 L949.4 201.1 L949.7 199.3 L950.1 198.1 L950.4 197.7 L950.8 198 L951.1 199.1 L951.5 200.8 L951.8 203.1 L952.2 205.6 L952.5 208.2 L952.9 210.7 L953.2 212.9 L953.6 214.5 L953.9 215.5 L954.3 215.7 L954.6 215.1 L955 213.9 L955.3 212 L955.7 209.6 L956.1 207.1 L956.4 204.4 L956.8 202 L957.1 200 L957.5 198.6 L957.8 197.8 L958.2 197.8 L958.5 198.6 L958.9 200 L959.2 202 L959.6 204.5 L959.9 207.1 L960.3 209.7 L960.6 212 L961 213.9 L961.3 215.1 L961.7 215.7 L962 215.5 L962.4 214.5 L962.7 212.9 L963.1 210.7 L963.4 208.2 L963.8 205.6 L964.2 203 L964.5 200.8 L964.9 199.1 L965.2 198 L965.6 197.7 L965.9 198.1 L966.3 199.3 L966.6 201.1 L967 203.4 L967.3 205.9 L967.7 208.6 L968 211 L968.4 213.1 L968.7 214.7 L969.1 215.5 L969.4 215.7 L969.8 215 L970.1 213.7 L970.5 211.7 L970.8 209.3 L971.2 206.7 L971.5 204.1 L971.9 201.7 L972.3 199.8 L972.6 198.4 L973 197.8 L973.3 197.9 L973.7 198.7 L974 200.2 L974.4 202.3 L974.7 204.8 L975.1 207.4 L975.4 210 L975.8 212.3 L976.1 214.1 L976.5 215.2 L976.8 215.7 L977.2 215.4 L977.5 214.3 L977.9 212.6 L978.2 210.4 L978.6 207.9 L978.9 205.3 L979.3 202.8 L979.6 200.6 L980 198.9"/>
<path d="M996 209.8 L996.4 209.3 L996.7 208.5 L997.1 207.6 L997.4 206.5 L997.8 204.6 L998.1 202.6 L998.5 200.9 L998.8 199.6 L999.2 198.8 L999.5 198.7 L999.9 199.3 L1000.2 200.4 L1000.6 202 L1000.9 203.9 L1001.3 206.1 L1001.6 208.2 L1002 210.2 L1002.3 211.9 L1002.7 213 L1003 213.6 L1003.4 213.6 L1003.7 212.9 L1004.1 211.7 L1004.4 210 L1004.8 208 L1005.1 205.8 L1005.5 203.7 L1005.8 201.8 L1006.2 200.2 L1006.5 199.2 L1006.9 198.7 L1007.2 198.9 L1007.6 199.7 L1007.9 201 L1008.3 202.8 L1008.6 204.9 L1009 207.1 L1009.3 209.2 L1009.7 211 L1010 212.5 L1010.4 213.4 L1010.7 213.7 L1011.1 213.4 L1011.4 212.4 L1011.8 211 L1012.1 209.1 L1012.5 207 L1012.8 204.8 L1013.2 202.8 L1013.5 201 L1013.9 199.7 L1014.2 198.9 L1014.6 198.7 L1014.9 199.2 L1015.3 200.2 L1015.6 201.8 L1016 203.7 L1016.3 205.9 L1016.7 208.1 L1017 210.1 L1017.4 211.8 L1017.7 213 L1018.1 213.6 L1018.4 213.6 L1018.8 213 L1019.1 211.8 L1019.5 210.2 L1019.8 208.2 L1020.2 206 L1020.5 203.9 L1020.9 201.9 L1021.2 200.3 L1021.6 199.2 L1021.9 198.7 L1022.3 198.9 L1022.6 199.6 L1023 200.9 L1023.3 202.7 L1023.7 204.7 L1024 206.9 L1024.4 209 L1024.7 210.9 L1025.1 212.4 L1025.4 213.3 L1025.8 213.7 L1026.1 213.4 L1026.5 212.5 L1026.8 211.1 L1027.2 209.3 L1027.5 207.2 L1027.9 205 L1028.2 202.9 L1028.6 201.1 L1028.9 199.8 L1029.3 198.9 L1029.6 198.7 L1030 199.1 L1030.3 200.1 L1030.7 201.7 L1031 203.6 L1031.4 205.7 L1031.7 207.9 L1032.1 209.9 L1032.4 211.6 L1032.8 212.9 L1033.1 213.6 L1033.5 213.7 L1033.8 213.1 L1034.2 212 L1034.5 210.3 L1034.9 208.4 L1035.2 206.2 L1035.6 204.1 L1035.9 202.1 L1036.3 200.5 L1036.6 199.3 L1037 198.7"/>
<path d="M839 244.4 L839.4 243.9 L839.7 243.1 L840.1 242.1 L840.4 240.9 L840.8 238.9 L841.1 236.8 L841.5 234.9 L841.8 233.5 L842.2 232.8 L842.5 232.6 L842.9 233.2 L843.2 234.4 L843.6 236.1 L843.9 238.2 L844.3 240.5 L844.6 242.8 L845 244.9 L845.3 246.7 L845.7 247.9 L846 248.5 L846.4 248.5 L846.7 247.8 L847.1 246.5 L847.4 244.7 L847.8 242.5 L848.1 240.2 L848.5 237.9 L848.8 235.9 L849.2 234.2 L849.5 233.1 L849.9 232.6 L850.2 232.8 L850.6 233.7 L850.9 235.1 L851.3 237 L851.6 239.2 L852 241.5 L852.3 243.8 L852.7 245.8 L853 247.3 L853.4 248.3 L853.7 248.6 L854.1 248.3 L854.4 247.3 L854.8 245.7 L855.1 243.7 L855.5 241.5 L855.8 239.1 L856.2 236.9 L856.5 235 L856.9 233.6 L857.2 232.8 L857.6 232.6 L857.9 233.1 L858.3 234.3 L858.6 235.9 L859 238 L859.3 240.3 L859.7 242.6 L860 244.7 L860.4 246.5 L860.7 247.8 L861.1 248.5 L861.4 248.5 L861.8 247.9 L862.1 246.6 L862.5 244.8 L862.8 242.7 L863.2 240.4 L863.5 238.1 L863.9 236 L864.2 234.3 L864.6 233.2 L864.9 232.6 L865.3 232.8 L865.6 233.6 L866 235 L866.3 236.8 L866.7 239 L867 241.3 L867.4 243.6 L867.7 245.6 L868.1 247.2 L868.4 248.2 L868.8 248.6 L869.1 248.3 L869.5 247.4 L869.8 245.9 L870.2 243.9 L870.5 241.7 L870.9 239.3 L871.2 237.1 L871.6 235.2 L871.9 233.7 L872.3 232.8 L872.6 232.6 L873 233 L873.3 234.1 L873.7 235.8 L874 237.8 L874.4 240.1 L874.7 242.4 L875.1 244.5 L875.4 246.4 L875.8 247.7 L876.1 248.5 L876.5 248.6 L876.8 248 L877.2 246.7 L877.5 245 L877.9 242.9 L878.2 240.6 L878.6 238.3 L878.9 236.2 L879.3 234.5"/>
<path d="M905 250.5 L905.4 249.8 L905.7 248.7 L906.1 247.3 L906.4 245.7 L906.8 243 L907.1 240 L907.5 237.5 L907.8 235.6 L908.2 234.5 L908.5 234.4 L908.9 235.1 L909.2 236.8 L909.6 239.1 L909.9 242 L910.3 245.1 L910.6 248.3 L911 251.2 L911.3 253.6 L911.7 255.3 L912 256.2 L912.4 256.2 L912.7 255.2 L913.1 253.4 L913.4 250.9 L913.8 247.9 L914.1 244.7 L914.5 241.6 L914.8 238.8 L915.2 236.5 L915.5 235 L915.9 234.3 L916.2 234.6 L916.6 235.8 L916.9 237.7 L917.3 240.4 L917.6 243.4 L918 246.6 L918.3 249.7 L918.7 252.4 L919 254.5 L919.4 255.9 L919.7 256.3 L920.1 255.8 L920.4 254.5 L920.8 252.3 L921.1 249.6 L921.5 246.5 L921.8 243.3 L922.2 240.3 L922.5 237.7 L922.9 235.7 L923.2 234.6 L923.6 234.3 L923.9 235 L924.3 236.6 L924.6 238.9 L925 241.7 L925.3 244.8 L925.7 248 L926 251 L926.4 253.4 L926.7 255.2 L927.1 256.2 L927.4 256.2 L927.8 255.3 L928.1 253.6 L928.5 251.1 L928.8 248.2 L929.2 245 L929.5 241.9 L929.9 239 L930.2 236.7 L930.6 235.1 L930.9 234.3 L931.3 234.5 L931.6 235.6 L932 237.5 L932.3 240.1 L932.7 243.1 L933 246.3 L933.4 249.4 L933.7 252.2 L934.1 254.4 L934.4 255.8 L934.8 256.3 L935.1 255.9 L935.5 254.6 L935.8 252.5 L936.2 249.8 L936.5 246.8 L936.9 243.6 L937.2 240.5 L937.6 237.9 L937.9 235.9 L938.3 234.6 L938.6 234.3 L939 234.9 L939.3 236.4 L939.7 238.6 L940 241.4 L940.4 244.6 L940.7 247.7 L941.1 250.7 L941.4 253.2 L941.8 255.1 L942.1 256.1 L942.5 256.2 L942.8 255.4 L943.2 253.7 L943.5 251.4 L943.9 248.5 L944.2 245.3 L944.6 242.1 L944.9 239.3 L945.3 236.9"/>
<path d="M974.8 249.8 L975.2 249.1 L975.5 248 L975.9 246.7 L976.2 245.2 L976.6 242.6 L976.9 239.7 L977.3 237.3 L977.6 235.5 L978 234.5 L978.3 234.4 L978.7 235.1 L979 236.7 L979.4 239 L979.7 241.7 L980.1 244.8 L980.4 247.8 L980.8 250.6 L981.1 252.8 L981.5 254.4 L981.8 255.2 L982.2 255.1 L982.5 254.2 L982.9 252.4 L983.2 250 L983.6 247.1 L983.9 244.1 L984.3 241.1 L984.6 238.4 L985 236.3 L985.3 234.9 L985.7 234.3 L986 234.6 L986.4 235.8 L986.7 237.8 L987.1 240.3 L987.4 243.2 L987.8 246.3 L988.1 249.2 L988.5 251.8 L988.9 253.8 L989.2 255 L989.6 255.3 L989.9 254.7 L990.3 253.3 L990.6 251.2 L991 248.6 L991.3 245.6 L991.7 242.5 L992 239.7 L992.4 237.2 L992.7 235.5 L993.1 234.5 L993.4 234.4 L993.8 235.1 L994.1 236.7 L994.5 239 L994.8 241.8 L995.2 244.8 L995.5 247.8 L995.9 250.6 L996.2 252.9 L996.6 254.5 L996.9 255.2 L997.3 255.1 L997.6 254.1 L998 252.3 L998.3 249.9 L998.7 247.1 L999 244 L999.4 241 L999.7 238.4 L1000.1 236.2 L1000.4 234.9 L1000.8 234.3 L1001.1 234.6 L1001.5 235.9 L1001.9 237.8 L1002.2 240.4 L1002.6 243.3 L1002.9 246.4 L1003.3 249.3 L1003.6 251.8 L1004 253.8 L1004.3 255 L1004.7 255.3 L1005 254.7 L1005.4 253.3 L1005.7 251.2 L1006.1 248.5 L1006.4 245.5 L1006.8 242.5 L1007.1 239.6 L1007.5 237.2 L1007.8 235.4 L1008.2 234.5 L1008.5 234.4 L1008.9 235.2 L1009.2 236.8 L1009.6 239.1 L1009.9 241.8 L1010.3 244.9 L1010.6 247.9 L1011 250.6 L1011.3 252.9 L1011.7 254.5 L1012 255.2 L1012.4 255.1 L1012.7 254.1 L1013.1 252.3 L1013.4 249.9 L1013.8 247 L1014.1 244 L1014.5 241 L1014.8 238.3 L1015.2 236.2"/>
<path d="M1040.8 244.6 L1041.2 244.2 L1041.5 243.6 L1041.9 242.8 L1042.2 241.9 L1042.6 240.2 L1042.9 238.5 L1043.3 237 L1043.6 235.9 L1044 235.3 L1044.3 235.2 L1044.7 235.7 L1045 236.7 L1045.4 238 L1045.7 239.7 L1046.1 241.6 L1046.4 243.4 L1046.8 245.1 L1047.1 246.5 L1047.5 247.5 L1047.8 248 L1048.2 247.9 L1048.5 247.3 L1048.9 246.2 L1049.2 244.8 L1049.6 243 L1049.9 241.2 L1050.3 239.3 L1050.6 237.7 L1051 236.4 L1051.3 235.5 L1051.7 235.2 L1052 235.4 L1052.4 236.1 L1052.7 237.3 L1053.1 238.9 L1053.4 240.7 L1053.8 242.5 L1054.1 244.3 L1054.5 245.9 L1054.9 247.1 L1055.2 247.8 L1055.6 248 L1055.9 247.7 L1056.3 246.8 L1056.6 245.5 L1057 243.9 L1057.3 242.1 L1057.7 240.2 L1058 238.5 L1058.4 237 L1058.7 235.9 L1059.1 235.3 L1059.4 235.2 L1059.8 235.7 L1060.1 236.7 L1060.5 238.1 L1060.8 239.8 L1061.2 241.6 L1061.5 243.4 L1061.9 245.1 L1062.2 246.5 L1062.6 247.5 L1062.9 248 L1063.3 247.9 L1063.6 247.3 L1064 246.2 L1064.3 244.7 L1064.7 243 L1065 241.1 L1065.4 239.3 L1065.7 237.7 L1066.1 236.4 L1066.4 235.5 L1066.8 235.2 L1067.1 235.4 L1067.5 236.1 L1067.9 237.3 L1068.2 238.9 L1068.6 240.7 L1068.9 242.6 L1069.3 244.3 L1069.6 245.9 L1070 247.1 L1070.3 247.8 L1070.7 248 L1071 247.6 L1071.4 246.8 L1071.7 245.5 L1072.1 243.9 L1072.4 242 L1072.8 240.2 L1073.1 238.4 L1073.5 237 L1073.8 235.9 L1074.2 235.3 L1074.5 235.2 L1074.9 235.7 L1075.2 236.7 L1075.6 238.1 L1075.9 239.8 L1076.3 241.6 L1076.6 243.5 L1077 245.2 L1077.3 246.5 L1077.7 247.5 L1078 248 L1078.4 247.9 L1078.7 247.3 L1079.1 246.2 L1079.4 244.7 L1079.8 242.9 L1080.1 241.1 L1080.5 239.3 L1080.8 237.7 L1081.2 236.4"/>
<path d="M763.8 284.1 L764.2 283.9 L764.5 283.7 L764.9 283.3 L765.2 282.9 L765.6 282.2 L765.9 281.4 L766.3 280.8 L766.6 280.3 L767 280 L767.3 280 L767.7 280.2 L768 280.7 L768.4 281.3 L768.7 282 L769.1 282.8 L769.4 283.6 L769.8 284.4 L770.1 285 L770.5 285.4 L770.9 285.6 L771.2 285.5 L771.6 285.3 L771.9 284.8 L772.3 284.1 L772.6 283.3 L773 282.5 L773.3 281.7 L773.7 281 L774 280.5 L774.4 280.1 L774.7 280 L775.1 280.1 L775.4 280.5 L775.8 281 L776.1 281.7 L776.5 282.5 L776.8 283.3 L777.2 284.1 L777.5 284.7 L777.9 285.2 L778.3 285.5 L778.6 285.6 L779 285.4 L779.3 285 L779.7 284.4 L780 283.7 L780.4 282.9 L780.7 282.1 L781.1 281.3 L781.4 280.7 L781.8 280.2 L782.1 280 L782.5 280 L782.8 280.3 L783.2 280.8 L783.5 281.4 L783.9 282.2 L784.2 283 L784.6 283.8 L785 284.5 L785.3 285.1 L785.7 285.4 L786 285.6 L786.4 285.5 L786.7 285.2 L787.1 284.7 L787.4 284 L787.8 283.2 L788.1 282.4 L788.5 281.6 L788.8 280.9 L789.2 280.4 L789.5 280.1 L789.9 280 L790.2 280.2 L790.6 280.5 L790.9 281.1 L791.3 281.8 L791.6 282.6 L792 283.4 L792.4 284.2 L792.7 284.8 L793.1 285.3 L793.4 285.6 L793.8 285.6 L794.1 285.4 L794.5 284.9 L794.8 284.3 L795.2 283.5 L795.5 282.7 L795.9 281.9 L796.2 281.2 L796.6 280.6 L796.9 280.2 L797.3 280 L797.6 280.1 L798 280.4 L798.3 280.8 L798.7 281.5"/>
<path d="M798.7 284.1 L799.1 283.9 L799.4 283.7 L799.8 283.3 L800.1 282.9 L800.5 282.2 L800.8 281.5 L801.2 280.8 L801.5 280.3 L801.9 280.1 L802.2 280 L802.6 280.2 L802.9 280.6 L803.3 281.2 L803.6 282 L804 282.8 L804.3 283.6 L804.7 284.3 L805 284.9 L805.4 285.4 L805.7 285.6 L806.1 285.6 L806.4 285.3 L806.8 284.9 L807.1 284.2 L807.5 283.5 L807.8 282.7 L808.2 281.9 L808.5 281.1 L808.9 280.6 L809.2 280.2 L809.6 280 L809.9 280.1 L810.3 280.4 L810.6 280.9 L811 281.5 L811.3 282.3 L811.7 283.1 L812 283.9 L812.4 284.6 L812.7 285.1 L813.1 285.5 L813.4 285.6 L813.8 285.5 L814.1 285.1 L814.5 284.6 L814.8 283.9 L815.2 283.1 L815.5 282.3 L815.9 281.5 L816.2 280.9 L816.6 280.4 L816.9 280.1 L817.3 280 L817.6 280.2 L818 280.6 L818.3 281.2 L818.7 281.9 L819 282.7 L819.4 283.5 L819.7 284.2 L820.1 284.9 L820.4 285.3 L820.8 285.6 L821.1 285.6 L821.5 285.3 L821.8 284.9 L822.2 284.3 L822.5 283.5 L822.9 282.7 L823.2 281.9 L823.6 281.2 L823.9 280.6 L824.3 280.2 L824.6 280 L825 280.1 L825.3 280.3 L825.7 280.8 L826 281.5 L826.4 282.2 L826.7 283.1 L827.1 283.8 L827.4 284.5 L827.8 285.1 L828.1 285.5 L828.5 285.6 L828.8 285.5 L829.2 285.2 L829.5 284.6 L829.9 284 L830.2 283.2 L830.6 282.4 L830.9 281.6 L831.3 280.9 L831.6 280.4 L832 280.1 L832.3 280 L832.7 280.2 L833 280.5 L833.4 281.1 L833.7 281.8 L834.1 282.6 L834.4 283.4 L834.8 284.2 L835.1 284.8 L835.5 285.3 L835.8 285.6 L836.2 285.6 L836.5 285.4 L836.9 285 L837.2 284.3 L837.6 283.6 L837.9 282.8 L838.3 282 L838.6 281.3 L839 280.7"/>
<path d="M869.3 286.7 L869.7 286.1 L870 285.1 L870.4 283.8 L870.7 282.4 L871.1 279.9 L871.4 277.2 L871.8 274.9 L872.1 273.2 L872.5 272.2 L872.8 272 L873.2 272.7 L873.5 274.2 L873.9 276.4 L874.2 279 L874.6 281.8 L874.9 284.7 L875.3 287.4 L875.6 289.6 L876 291.1 L876.3 291.9 L876.7 291.9 L877 291 L877.4 289.3 L877.7 287.1 L878.1 284.4 L878.4 281.5 L878.8 278.6 L879.1 276.1 L879.5 274 L879.8 272.6 L880.2 272 L880.5 272.3 L880.9 273.3 L881.2 275.1 L881.6 277.5 L881.9 280.3 L882.3 283.2 L882.6 286 L883 288.4 L883.3 290.4 L883.7 291.6 L884 292 L884.4 291.6 L884.7 290.3 L885.1 288.4 L885.4 285.9 L885.8 283.1 L886.1 280.2 L886.5 277.4 L886.8 275.1 L887.2 273.3 L887.5 272.2 L887.9 272 L888.2 272.7 L888.6 274.1 L888.9 276.2 L889.3 278.7 L889.6 281.6 L890 284.5 L890.3 287.2 L890.7 289.4 L891 291 L891.4 291.9 L891.7 291.9 L892.1 291.1 L892.4 289.5 L892.8 287.3 L893.1 284.6 L893.5 281.8 L893.8 278.9 L894.2 276.3 L894.5 274.2 L894.9 272.7 L895.2 272 L895.6 272.2 L895.9 273.2 L896.3 274.9 L896.6 277.3 L897 280 L897.3 282.9 L897.7 285.7 L898 288.2 L898.4 290.2 L898.7 291.5 L899.1 292 L899.4 291.6 L899.8 290.5 L900.1 288.6 L900.5 286.1 L900.8 283.3 L901.2 280.4 L901.5 277.7 L901.9 275.2 L902.2 273.4 L902.6 272.3 L902.9 272 L903.3 272.6 L903.6 273.9 L904 275.9 L904.3 278.5 L904.7 281.3 L905 284.2 L905.4 286.9 L905.7 289.2 L906.1 290.9 L906.4 291.8 L906.8 291.9 L907.1 291.2 L907.5 289.7 L907.8 287.5 L908.2 284.9 L908.5 282 L908.9 279.1 L909.2 276.5 L909.6 274.3"/>
<path d="M939.8 287 L940.2 286.2 L940.5 285 L940.9 283.6 L941.2 281.9 L941.6 279 L941.9 275.9 L942.3 273.2 L942.6 271.3 L943 270.2 L943.3 270.1 L943.7 270.9 L944 272.7 L944.4 275.2 L944.7 278.2 L945.1 281.6 L945.4 284.9 L945.8 287.9 L946.1 290.4 L946.5 292.1 L946.8 292.9 L947.2 292.8 L947.5 291.7 L947.9 289.7 L948.3 287 L948.6 283.8 L949 280.5 L949.3 277.2 L949.7 274.3 L950 272 L950.4 270.5 L950.7 270 L951.1 270.4 L951.4 271.8 L951.8 274 L952.1 276.9 L952.5 280.1 L952.8 283.5 L953.2 286.6 L953.5 289.4 L953.9 291.5 L954.2 292.7 L954.6 293 L954.9 292.3 L955.3 290.6 L955.6 288.2 L956 285.3 L956.4 282 L956.7 278.6 L957.1 275.5 L957.4 272.9 L957.8 271.1 L958.1 270.1 L958.5 270.1 L958.8 271.1 L959.2 273 L959.5 275.6 L959.9 278.6 L960.2 282 L960.6 285.3 L960.9 288.3 L961.3 290.7 L961.6 292.3 L962 293 L962.3 292.7 L962.7 291.5 L963 289.4 L963.4 286.6 L963.7 283.4 L964.1 280.1 L964.5 276.8 L964.8 274 L965.2 271.8 L965.5 270.4 L965.9 270 L966.2 270.6 L966.6 272 L966.9 274.3 L967.3 277.2 L967.6 280.5 L968 283.9 L968.3 287 L968.7 289.7 L969 291.7 L969.4 292.8 L969.7 292.9 L970.1 292.1 L970.4 290.4 L970.8 287.9 L971.1 284.9 L971.5 281.5 L971.8 278.2 L972.2 275.2 L972.6 272.7 L972.9 270.9 L973.3 270.1 L973.6 270.2 L974 271.3 L974.3 273.2 L974.7 275.9 L975 279.1 L975.4 282.4 L975.7 285.7 L976.1 288.6 L976.4 290.9 L976.8 292.4 L977.1 293 L977.5 292.6 L977.8 291.2 L978.2 289.1 L978.5 286.2 L978.9 283 L979.2 279.7 L979.6 276.5 L979.9 273.7 L980.3 271.6"/>
<path d="M1010.6 285.9 L1011 285.4 L1011.3 284.6 L1011.7 283.5 L1012 282.3 L1012.4 280.3 L1012.7 278 L1013.1 276.1 L1013.4 274.7 L1013.8 273.9 L1014.1 273.7 L1014.5 274.3 L1014.8 275.5 L1015.2 277.3 L1015.5 279.5 L1015.9 281.9 L1016.2 284.3 L1016.6 286.5 L1016.9 288.3 L1017.3 289.6 L1017.6 290.2 L1018 290.2 L1018.3 289.5 L1018.7 288.1 L1019 286.2 L1019.4 284 L1019.7 281.6 L1020.1 279.2 L1020.4 277.1 L1020.8 275.4 L1021.1 274.2 L1021.5 273.7 L1021.8 273.9 L1022.2 274.8 L1022.5 276.3 L1022.9 278.3 L1023.2 280.6 L1023.6 283 L1023.9 285.3 L1024.3 287.4 L1024.6 288.9 L1025 290 L1025.3 290.3 L1025.7 289.9 L1026 288.9 L1026.4 287.3 L1026.7 285.2 L1027.1 282.9 L1027.4 280.5 L1027.8 278.2 L1028.1 276.2 L1028.5 274.8 L1028.8 273.9 L1029.2 273.7 L1029.5 274.2 L1029.9 275.4 L1030.2 277.1 L1030.6 279.3 L1030.9 281.7 L1031.3 284.1 L1031.6 286.3 L1032 288.1 L1032.3 289.5 L1032.7 290.2 L1033 290.2 L1033.4 289.5 L1033.7 288.2 L1034.1 286.4 L1034.4 284.2 L1034.8 281.8 L1035.1 279.4 L1035.5 277.3 L1035.8 275.5 L1036.2 274.3 L1036.5 273.7 L1036.9 273.9 L1037.2 274.7 L1037.6 276.1 L1037.9 278.1 L1038.3 280.3 L1038.6 282.8 L1039 285.1 L1039.3 287.2 L1039.7 288.8 L1040 289.9 L1040.4 290.3 L1040.7 290 L1041.1 289 L1041.4 287.5 L1041.8 285.4 L1042.1 283.1 L1042.5 280.7 L1042.8 278.4 L1043.2 276.4 L1043.5 274.9 L1043.9 274 L1044.2 273.7 L1044.6 274.2 L1044.9 275.3 L1045.3 277 L1045.6 279.1 L1046 281.4 L1046.3 283.8 L1046.7 286.1 L1047 288 L1047.4 289.4 L1047.7 290.2 L1048.1 290.2 L1048.4 289.6 L1048.8 288.4 L1049.1 286.6 L1049.5 284.4 L1049.8 282 L1050.2 279.6 L1050.5 277.4 L1050.9 275.6"/>
<path d="M1080.3 284.2 L1080.7 284 L1081 283.8 L1081.4 283.5 L1081.7 283.1 L1082.1 282.5 L1082.4 281.8 L1082.8 281.2 L1083.1 280.8 L1083.5 280.5 L1083.8 280.5 L1084.2 280.7 L1084.5 281.1 L1084.9 281.6 L1085.2 282.3 L1085.6 283 L1085.9 283.7 L1086.3 284.4 L1086.6 284.9 L1087 285.3 L1087.3 285.5 L1087.7 285.5 L1088 285.2 L1088.4 284.8 L1088.7 284.2 L1089.1 283.5 L1089.5 282.8 L1089.8 282.1 L1090.2 281.4 L1090.5 280.9 L1090.9 280.6 L1091.2 280.5 L1091.6 280.6 L1091.9 280.9 L1092.3 281.4 L1092.6 282 L1093 282.7 L1093.3 283.4 L1093.7 284.1 L1094 284.7 L1094.4 285.2 L1094.7 285.4 L1095.1 285.5 L1095.4 285.3 L1095.8 285 L1096.1 284.5 L1096.5 283.8 L1096.8 283.1 L1097.2 282.4 L1097.5 281.7 L1097.9 281.2 L1098.2 280.7 L1098.6 280.5 L1099 280.5 L1099.3 280.7 L1099.7 281.1 L1100 281.7 L1100.4 282.4 L1100.7 283.1 L1101.1 283.8 L1101.4 284.4 L1101.8 285 L1102.1 285.3 L1102.5 285.5 L1102.8 285.4 L1103.2 285.2 L1103.5 284.7 L1103.9 284.1 L1104.2 283.5 L1104.6 282.7 L1104.9 282 L1105.3 281.4 L1105.6 280.9 L1106 280.6 L1106.3 280.5 L1106.7 280.6 L1107 280.9 L1107.4 281.4 L1107.8 282 L1108.1 282.7 L1108.5 283.5 L1108.8 284.2 L1109.2 284.8 L1109.5 285.2 L1109.9 285.4 L1110.2 285.5 L1110.6 285.3 L1110.9 285 L1111.3 284.4 L1111.6 283.8 L1112 283.1 L1112.3 282.3 L1112.7 281.7 L1113 281.1 L1113.4 280.7 L1113.7 280.5 L1114.1 280.5 L1114.4 280.8 L1114.8 281.2 L1115.1 281.7 L1115.5 282.4 L1115.8 283.1 L1116.2 283.9 L1116.5 284.5 L1116.9 285"/>
<path d="M1116.9 284.2 L1117.2 284 L1117.6 283.8 L1118 283.5 L1118.3 283.1 L1118.7 282.5 L1119 281.8 L1119.4 281.2 L1119.7 280.8 L1120.1 280.5 L1120.4 280.5 L1120.8 280.7 L1121.1 281.1 L1121.5 281.6 L1121.8 282.2 L1122.2 282.9 L1122.5 283.7 L1122.9 284.3 L1123.2 284.9 L1123.6 285.3 L1123.9 285.5 L1124.2 285.5 L1124.6 285.3 L1125 284.8 L1125.3 284.3 L1125.7 283.6 L1126 282.9 L1126.4 282.2 L1126.7 281.5 L1127.1 281 L1127.4 280.7 L1127.8 280.5 L1128.1 280.6 L1128.5 280.8 L1128.8 281.3 L1129.2 281.8 L1129.5 282.5 L1129.9 283.3 L1130.2 284 L1130.6 284.6 L1130.9 285.1 L1131.2 285.4 L1131.6 285.5 L1132 285.4 L1132.3 285.1 L1132.7 284.6 L1133 284 L1133.4 283.3 L1133.7 282.6 L1134.1 281.9 L1134.4 281.3 L1134.8 280.8 L1135.1 280.6 L1135.5 280.5 L1135.8 280.6 L1136.2 281 L1136.5 281.5 L1136.9 282.1 L1137.2 282.8 L1137.6 283.6 L1137.9 284.2 L1138.2 284.8 L1138.6 285.2 L1139 285.5 L1139.3 285.5 L1139.7 285.3 L1140 284.9 L1140.4 284.4 L1140.7 283.7 L1141.1 283 L1141.4 282.3 L1141.8 281.6 L1142.1 281.1 L1142.5 280.7 L1142.8 280.5 L1143.2 280.5 L1143.5 280.8 L1143.9 281.2 L1144.2 281.8 L1144.6 282.4 L1144.9 283.2 L1145.2 283.9 L1145.6 284.5 L1146 285 L1146.3 285.4 L1146.7 285.5 L1147 285.4 L1147.4 285.2 L1147.7 284.7 L1148.1 284.1 L1148.4 283.4 L1148.8 282.7 L1149.1 282 L1149.5 281.4 L1149.8 280.9 L1150.2 280.6 L1150.5 280.5 L1150.9 280.6 L1151.2 280.9 L1151.6 281.4 L1151.9 282 L1152.2 282.7 L1152.6 283.5 L1153 284.2 L1153.3 284.7 L1153.7 285.2 L1154 285.4 L1154.4 285.5 L1154.7 285.3 L1155.1 285 L1155.4 284.5"/>
<path d="M839.3 326.5 L839.7 326.2 L840 325.8 L840.4 325.2 L840.7 324.6 L841.1 323.5 L841.4 322.2 L841.8 321.2 L842.1 320.4 L842.5 320 L842.8 319.9 L843.2 320.2 L843.5 320.9 L843.9 321.9 L844.2 323 L844.6 324.3 L844.9 325.6 L845.3 326.8 L845.6 327.8 L846 328.5 L846.3 328.9 L846.7 328.8 L847 328.4 L847.4 327.7 L847.7 326.7 L848.1 325.5 L848.4 324.2 L848.8 322.9 L849.1 321.7 L849.5 320.8 L849.8 320.2 L850.2 319.9 L850.5 320 L850.9 320.5 L851.2 321.3 L851.6 322.4 L851.9 323.6 L852.3 324.9 L852.6 326.2 L853 327.3 L853.3 328.2 L853.7 328.7 L854 328.9 L854.4 328.7 L854.7 328.1 L855.1 327.3 L855.4 326.2 L855.8 324.9 L856.1 323.6 L856.5 322.3 L856.8 321.3 L857.2 320.5 L857.5 320 L857.9 319.9 L858.2 320.2 L858.6 320.8 L858.9 321.8 L859.3 322.9 L859.6 324.2 L860 325.5 L860.3 326.7 L860.7 327.7 L861 328.5 L861.4 328.8 L861.7 328.9 L862.1 328.5 L862.4 327.8 L862.8 326.8 L863.1 325.6 L863.5 324.3 L863.8 323 L864.2 321.8 L864.5 320.9 L864.9 320.2 L865.2 319.9 L865.6 320 L865.9 320.4 L866.3 321.2 L866.6 322.3 L867 323.5 L867.3 324.8 L867.7 326.1 L868 327.2 L868.4 328.1 L868.7 328.7 L869.1 328.9 L869.4 328.7 L869.8 328.2 L870.1 327.4 L870.5 326.3 L870.8 325 L871.2 323.7 L871.5 322.4 L871.9 321.4 L872.2 320.5 L872.6 320 L872.9 319.9 L873.3 320.2 L873.6 320.8 L874 321.7 L874.3 322.8 L874.7 324.1 L875 325.4 L875.4 326.6 L875.7 327.7 L876.1 328.4 L876.4 328.8 L876.8 328.9 L877.1 328.5 L877.5 327.9 L877.8 326.9 L878.2 325.7 L878.5 324.4 L878.9 323.1 L879.2 321.9 L879.6 320.9"/>
<path d="M905.3 324 L905.7 323.3 L906 322.2 L906.4 320.8 L906.7 319.2 L907.1 316.5 L907.4 313.5 L907.8 311 L908.1 309.1 L908.5 308 L908.8 307.9 L909.2 308.6 L909.5 310.3 L909.9 312.6 L910.2 315.5 L910.6 318.6 L910.9 321.8 L911.3 324.7 L911.6 327.1 L912 328.8 L912.3 329.7 L912.7 329.7 L913 328.7 L913.4 326.9 L913.7 324.4 L914.1 321.4 L914.4 318.2 L914.8 315.1 L915.1 312.3 L915.5 310 L915.8 308.5 L916.2 307.8 L916.5 308.1 L916.9 309.3 L917.2 311.2 L917.6 313.9 L917.9 316.9 L918.3 320.1 L918.6 323.2 L919 325.9 L919.3 328 L919.7 329.4 L920 329.8 L920.4 329.3 L920.7 328 L921.1 325.8 L921.4 323.1 L921.8 320 L922.1 316.8 L922.5 313.8 L922.8 311.2 L923.2 309.2 L923.5 308.1 L923.9 307.8 L924.2 308.5 L924.6 310.1 L924.9 312.4 L925.3 315.2 L925.6 318.3 L926 321.5 L926.3 324.5 L926.7 326.9 L927 328.7 L927.4 329.7 L927.7 329.7 L928.1 328.8 L928.4 327.1 L928.8 324.6 L929.1 321.7 L929.5 318.5 L929.8 315.4 L930.2 312.5 L930.5 310.2 L930.9 308.6 L931.2 307.8 L931.6 308 L931.9 309.1 L932.3 311 L932.6 313.6 L933 316.6 L933.3 319.8 L933.7 322.9 L934 325.7 L934.4 327.9 L934.7 329.3 L935.1 329.8 L935.4 329.4 L935.8 328.1 L936.1 326 L936.5 323.3 L936.8 320.3 L937.2 317.1 L937.5 314 L937.9 311.4 L938.2 309.4 L938.6 308.1 L938.9 307.8 L939.3 308.4 L939.6 309.9 L940 312.1 L940.3 314.9 L940.7 318.1 L941 321.2 L941.4 324.2 L941.7 326.7 L942.1 328.6 L942.4 329.6 L942.8 329.7 L943.1 328.9 L943.5 327.2 L943.8 324.9 L944.2 322 L944.5 318.8 L944.9 315.6 L945.2 312.8 L945.6 310.4"/>
<path d="M974.8 323.2 L975.1 322.6 L975.5 321.6 L975.8 320.5 L976.2 319.2 L976.5 316.9 L976.9 314.4 L977.2 312.2 L977.6 310.7 L977.9 309.8 L978.3 309.6 L978.6 310.3 L979 311.7 L979.3 313.7 L979.7 316.1 L980 318.7 L980.4 321.4 L980.7 323.8 L981.1 325.8 L981.4 327.2 L981.8 327.9 L982.1 327.9 L982.5 327 L982.8 325.5 L983.2 323.4 L983.5 320.9 L983.9 318.2 L984.2 315.6 L984.6 313.3 L984.9 311.4 L985.3 310.1 L985.6 309.6 L986 309.9 L986.3 310.9 L986.7 312.6 L987 314.8 L987.4 317.3 L987.7 320 L988.1 322.6 L988.4 324.8 L988.8 326.6 L989.1 327.7 L989.5 328 L989.8 327.6 L990.2 326.4 L990.5 324.5 L990.9 322.2 L991.2 319.6 L991.6 317 L991.9 314.4 L992.3 312.3 L992.6 310.7 L993 309.8 L993.3 309.6 L993.7 310.3 L994 311.6 L994.4 313.6 L994.7 316 L995.1 318.6 L995.5 321.3 L995.8 323.7 L996.2 325.7 L996.5 327.2 L996.9 327.9 L997.2 327.9 L997.6 327.1 L997.9 325.6 L998.3 323.5 L998.6 321 L999 318.3 L999.3 315.7 L999.7 313.4 L1000 311.4 L1000.4 310.2 L1000.7 309.6 L1001.1 309.8 L1001.4 310.8 L1001.8 312.5 L1002.1 314.7 L1002.5 317.2 L1002.8 319.9 L1003.2 322.5 L1003.5 324.8 L1003.9 326.5 L1004.2 327.6 L1004.6 328 L1004.9 327.6 L1005.3 326.4 L1005.6 324.6 L1006 322.3 L1006.3 319.7 L1006.7 317.1 L1007 314.5 L1007.4 312.4 L1007.7 310.7 L1008.1 309.8 L1008.4 309.6 L1008.8 310.2 L1009.1 311.6 L1009.5 313.5 L1009.8 315.9 L1010.2 318.5 L1010.5 321.2 L1010.9 323.6 L1011.2 325.7 L1011.6 327.1 L1011.9 327.9 L1012.3 327.9 L1012.6 327.1 L1013 325.6 L1013.3 323.6 L1013.7 321.1 L1014 318.4 L1014.4 315.8 L1014.7 313.4 L1015.1 311.5"/>
<path d="M1040.8 325.6 L1041.1 325.4 L1041.5 325.1 L1041.8 324.8 L1042.2 324.4 L1042.5 323.7 L1042.9 323 L1043.2 322.4 L1043.6 321.9 L1043.9 321.6 L1044.3 321.6 L1044.6 321.8 L1045 322.2 L1045.3 322.8 L1045.7 323.5 L1046 324.3 L1046.4 325.1 L1046.7 325.8 L1047.1 326.4 L1047.4 326.8 L1047.8 327 L1048.1 326.9 L1048.5 326.7 L1048.9 326.2 L1049.2 325.6 L1049.6 324.8 L1049.9 324.1 L1050.3 323.3 L1050.6 322.6 L1051 322.1 L1051.3 321.7 L1051.7 321.6 L1052 321.7 L1052.4 322 L1052.7 322.5 L1053.1 323.2 L1053.4 324 L1053.8 324.8 L1054.1 325.5 L1054.5 326.2 L1054.8 326.6 L1055.2 326.9 L1055.5 327 L1055.9 326.8 L1056.2 326.4 L1056.6 325.9 L1057 325.2 L1057.3 324.4 L1057.7 323.6 L1058 322.9 L1058.4 322.3 L1058.7 321.9 L1059.1 321.6 L1059.4 321.6 L1059.8 321.9 L1060.1 322.3 L1060.5 322.9 L1060.8 323.6 L1061.2 324.4 L1061.5 325.2 L1061.9 325.9 L1062.2 326.5 L1062.6 326.8 L1062.9 327 L1063.3 326.9 L1063.6 326.6 L1064 326.1 L1064.3 325.5 L1064.7 324.7 L1065.1 324 L1065.4 323.2 L1065.8 322.5 L1066.1 322 L1066.5 321.7 L1066.8 321.6 L1067.2 321.7 L1067.5 322.1 L1067.9 322.6 L1068.2 323.3 L1068.6 324.1 L1068.9 324.9 L1069.3 325.6 L1069.6 326.2 L1070 326.7 L1070.3 327 L1070.7 327 L1071 326.8 L1071.4 326.4 L1071.7 325.8 L1072.1 325.1 L1072.5 324.3 L1072.8 323.5 L1073.2 322.8 L1073.5 322.2 L1073.9 321.8 L1074.2 321.6 L1074.6 321.6 L1074.9 321.9 L1075.3 322.4 L1075.6 323 L1076 323.7 L1076.3 324.5 L1076.7 325.3 L1077 326 L1077.4 326.5 L1077.7 326.9 L1078.1 327 L1078.4 326.9 L1078.8 326.6 L1079.1 326.1 L1079.5 325.4 L1079.8 324.6 L1080.2 323.9"/>
<path d="M826.8 366.3 L827.2 366.9 L827.5 367.9 L827.9 369.2 L828.2 370.6 L828.6 373.1 L828.9 375.8 L829.3 378.2 L829.6 379.9 L830 380.8 L830.3 380.9 L830.7 380.2 L831 378.7 L831.4 376.6 L831.7 373.9 L832.1 371 L832.4 368.2 L832.8 365.5 L833.1 363.3 L833.5 361.8 L833.8 361.1 L834.2 361.2 L834.5 362.1 L834.9 363.8 L835.2 366.1 L835.6 368.8 L835.9 371.7 L836.3 374.5 L836.6 377.1 L837 379.1 L837.3 380.5 L837.7 381 L838 380.7 L838.4 379.5 L838.7 377.7 L839.1 375.3 L839.4 372.5 L839.8 369.6 L840.1 366.8 L840.5 364.3 L840.9 362.5 L841.2 361.3 L841.6 361 L841.9 361.5 L842.3 362.9 L842.6 364.9 L843 367.4 L843.3 370.3 L843.7 373.2 L844 375.9 L844.4 378.2 L844.7 379.9 L845.1 380.8 L845.4 380.9 L845.8 380.2 L846.1 378.7 L846.5 376.5 L846.8 373.9 L847.2 371 L847.5 368.1 L847.9 365.5 L848.2 363.3 L848.6 361.8 L848.9 361.1 L849.3 361.2 L849.6 362.1 L850 363.8 L850.3 366.1 L850.7 368.8 L851 371.7 L851.4 374.6 L851.7 377.1 L852.1 379.1 L852.4 380.5 L852.8 381 L853.1 380.7 L853.5 379.5 L853.9 377.7 L854.2 375.2 L854.6 372.4 L854.9 369.5 L855.3 366.7 L855.6 364.3 L856 362.4 L856.3 361.3 L856.7 361 L857 361.5 L857.4 362.9 L857.7 364.9 L858.1 367.5 L858.4 370.3 L858.8 373.2 L859.1 375.9 L859.5 378.2 L859.8 379.9 L860.2 380.8 L860.5 380.9 L860.9 380.2 L861.2 378.7 L861.6 376.5 L861.9 373.8 L862.3 370.9 L862.6 368.1 L863 365.4 L863.3 363.3 L863.7 361.8 L864 361.1 L864.4 361.2 L864.7 362.1 L865.1 363.8 L865.4 366.2 L865.8 368.9 L866.1 371.8 L866.5 374.6 L866.8 377.2 L867.2 379.2"/>
<path d="M882.8 360.3 L883.2 360 L883.5 359.6 L883.9 359 L884.2 358.4 L884.6 357.3 L884.9 356 L885.3 355 L885.6 354.2 L886 353.8 L886.3 353.7 L886.7 354 L887 354.7 L887.4 355.7 L887.7 356.8 L888.1 358.1 L888.4 359.4 L888.8 360.6 L889.1 361.6 L889.5 362.3 L889.8 362.7 L890.2 362.6 L890.5 362.2 L890.9 361.5 L891.2 360.5 L891.6 359.3 L891.9 358 L892.3 356.7 L892.6 355.5 L893 354.6 L893.3 354 L893.7 353.7 L894 353.8 L894.4 354.3 L894.7 355.1 L895.1 356.2 L895.4 357.4 L895.8 358.7 L896.1 360 L896.5 361.1 L896.8 362 L897.2 362.5 L897.5 362.7 L897.9 362.5 L898.2 361.9 L898.6 361.1 L898.9 360 L899.3 358.7 L899.6 357.4 L900 356.1 L900.3 355.1 L900.7 354.3 L901 353.8 L901.4 353.7 L901.7 354 L902.1 354.6 L902.4 355.6 L902.8 356.7 L903.1 358 L903.5 359.3 L903.8 360.5 L904.2 361.5 L904.5 362.3 L904.9 362.6 L905.2 362.7 L905.6 362.3 L905.9 361.6 L906.3 360.6 L906.6 359.4 L907 358.1 L907.3 356.8 L907.7 355.6 L908 354.7 L908.4 354 L908.7 353.7 L909.1 353.8 L909.4 354.2 L909.8 355 L910.1 356.1 L910.5 357.3 L910.8 358.6 L911.2 359.9 L911.5 361 L911.9 361.9 L912.2 362.5 L912.6 362.7 L912.9 362.5 L913.3 362 L913.6 361.2 L914 360.1 L914.3 358.8 L914.7 357.5 L915 356.2 L915.4 355.2 L915.7 354.3 L916.1 353.8 L916.4 353.7 L916.8 354 L917.1 354.6 L917.5 355.5 L917.8 356.6 L918.2 357.9 L918.5 359.2 L918.9 360.4 L919.2 361.5 L919.6 362.2 L919.9 362.6 L920.3 362.7 L920.6 362.3 L921 361.7 L921.3 360.7 L921.7 359.5 L922 358.2 L922.4 356.9 L922.7 355.7 L923.1 354.7"/>
<path d="M940.5 360.4 L940.9 360 L941.2 359.3 L941.6 358.5 L941.9 357.6 L942.3 355.9 L942.6 354.1 L943 352.6 L943.3 351.5 L943.7 350.9 L944 350.8 L944.4 351.3 L944.7 352.3 L945.1 353.7 L945.4 355.4 L945.8 357.3 L946.1 359.2 L946.5 360.9 L946.8 362.3 L947.2 363.3 L947.5 363.8 L947.9 363.7 L948.2 363.1 L948.6 362 L948.9 360.4 L949.3 358.7 L949.6 356.8 L950 354.9 L950.4 353.3 L950.7 352 L951.1 351.1 L951.4 350.8 L951.8 351 L952.1 351.8 L952.5 353 L952.8 354.6 L953.2 356.4 L953.5 358.3 L953.9 360.1 L954.2 361.7 L954.6 362.9 L954.9 363.6 L955.3 363.8 L955.6 363.4 L956 362.5 L956.3 361.2 L956.7 359.5 L957 357.7 L957.4 355.8 L957.7 354 L958.1 352.5 L958.4 351.5 L958.8 350.9 L959.1 350.9 L959.5 351.4 L959.8 352.4 L960.2 353.8 L960.6 355.6 L960.9 357.5 L961.3 359.3 L961.6 361 L962 362.4 L962.3 363.3 L962.7 363.8 L963 363.7 L963.4 363 L963.7 361.9 L964.1 360.3 L964.4 358.5 L964.8 356.6 L965.1 354.8 L965.5 353.2 L965.8 351.9 L966.2 351.1 L966.5 350.8 L966.9 351.1 L967.2 351.9 L967.6 353.1 L967.9 354.7 L968.3 356.6 L968.6 358.5 L969 360.3 L969.3 361.8 L969.7 363 L970 363.6 L970.4 363.8 L970.8 363.4 L971.1 362.4 L971.5 361.1 L971.8 359.4 L972.2 357.5 L972.5 355.6 L972.9 353.9 L973.2 352.4 L973.6 351.4 L973.9 350.9 L974.3 350.9 L974.6 351.4 L975 352.5 L975.3 354 L975.7 355.7 L976 357.6 L976.4 359.5 L976.7 361.1 L977.1 362.5 L977.4 363.4 L977.8 363.8 L978.1 363.6 L978.5 362.9 L978.8 361.7 L979.2 360.2 L979.5 358.4 L979.9 356.5"/>
<path d="M997.3 360.4 L997.7 360.2 L998 359.9 L998.4 359.6 L998.7 359.2 L999.1 358.5 L999.4 357.8 L999.8 357.2 L1000.1 356.7 L1000.5 356.5 L1000.8 356.4 L1001.2 356.6 L1001.5 357 L1001.9 357.6 L1002.2 358.3 L1002.6 359.1 L1002.9 359.8 L1003.3 360.6 L1003.6 361.1 L1004 361.6 L1004.3 361.8 L1004.7 361.8 L1005 361.5 L1005.4 361.1 L1005.7 360.5 L1006.1 359.7 L1006.4 359 L1006.8 358.2 L1007.1 357.5 L1007.5 356.9 L1007.8 356.6 L1008.2 356.4 L1008.5 356.5 L1008.9 356.8 L1009.2 357.2 L1009.6 357.9 L1009.9 358.6 L1010.3 359.4 L1010.6 360.2 L1011 360.8 L1011.3 361.4 L1011.7 361.7 L1012 361.8 L1012.4 361.7 L1012.7 361.3 L1013.1 360.8 L1013.4 360.1 L1013.8 359.4 L1014.1 358.6 L1014.5 357.9 L1014.8 357.2 L1015.2 356.7 L1015.5 356.5 L1015.9 356.4 L1016.2 356.6 L1016.6 357 L1016.9 357.5 L1017.3 358.2 L1017.6 359 L1018 359.8 L1018.3 360.5 L1018.7 361.1 L1019 361.5 L1019.4 361.8 L1019.7 361.8 L1020.1 361.6 L1020.4 361.1 L1020.8 360.5 L1021.1 359.8 L1021.5 359 L1021.8 358.3 L1022.2 357.6 L1022.5 357 L1022.9 356.6 L1023.2 356.4 L1023.6 356.5 L1023.9 356.7 L1024.3 357.2 L1024.6 357.8 L1025 358.6 L1025.3 359.3 L1025.7 360.1 L1026 360.8 L1026.4 361.3 L1026.7 361.7 L1027.1 361.8 L1027.4 361.7 L1027.8 361.4 L1028.1 360.9 L1028.5 360.2 L1028.8 359.5 L1029.2 358.7 L1029.5 357.9 L1029.9 357.3 L1030.2 356.8 L1030.6 356.5 L1030.9 356.4 L1031.3 356.6 L1031.6 356.9 L1032 357.5 L1032.3 358.2 L1032.7 358.9 L1033 359.7 L1033.4 360.4 L1033.7 361.1 L1034.1 361.5 L1034.4 361.8 L1034.8 361.8 L1035.1 361.6 L1035.5 361.2 L1035.8 360.6 L1036.2 359.9"/>
<path d="M1053.6 369.2 L1054 369.7 L1054.3 370.6 L1054.7 371.7 L1055 373 L1055.4 375.2 L1055.7 377.5 L1056.1 379.5 L1056.4 381 L1056.8 381.9 L1057.1 381.9 L1057.5 381.3 L1057.8 380 L1058.2 378.1 L1058.5 375.8 L1058.9 373.3 L1059.2 370.8 L1059.6 368.5 L1059.9 366.6 L1060.3 365.3 L1060.6 364.6 L1061 364.8 L1061.3 365.6 L1061.7 367.1 L1062 369.1 L1062.4 371.5 L1062.7 374 L1063.1 376.5 L1063.4 378.7 L1063.8 380.4 L1064.2 381.6 L1064.5 382 L1064.9 381.7 L1065.2 380.7 L1065.6 379 L1065.9 376.9 L1066.3 374.5 L1066.6 371.9 L1067 369.5 L1067.3 367.4 L1067.7 365.8 L1068 364.9 L1068.4 364.6 L1068.7 365.1 L1069.1 366.3 L1069.4 368.1 L1069.8 370.3 L1070.1 372.8 L1070.5 375.3 L1070.8 377.7 L1071.2 379.7 L1071.5 381.1 L1071.9 381.9 L1072.2 381.9 L1072.6 381.2 L1072.9 379.9 L1073.3 377.9 L1073.7 375.6 L1074 373.1 L1074.4 370.6 L1074.7 368.3 L1075.1 366.5 L1075.4 365.2 L1075.8 364.6 L1076.1 364.8 L1076.5 365.7 L1076.8 367.2 L1077.2 369.3 L1077.5 371.7 L1077.9 374.2 L1078.2 376.7 L1078.6 378.8 L1078.9 380.5 L1079.3 381.6 L1079.6 382 L1080 381.6 L1080.3 380.6 L1080.7 378.9 L1081 376.7 L1081.4 374.3 L1081.7 371.7 L1082.1 369.3 L1082.4 367.3 L1082.8 365.7 L1083.2 364.8 L1083.5 364.6 L1083.9 365.2 L1084.2 366.4 L1084.6 368.3 L1084.9 370.5 L1085.3 373 L1085.6 375.5 L1086 377.9 L1086.3 379.8 L1086.7 381.2 L1087 381.9 L1087.4 381.9 L1087.7 381.1 L1088.1 379.7 L1088.4 377.8 L1088.8 375.4 L1089.1 372.9 L1089.5 370.4 L1089.8 368.2 L1090.2 366.4 L1090.5 365.1 L1090.9 364.6 L1091.2 364.8 L1091.6 365.8 L1091.9 367.3 L1092.3 369.4 L1092.6 371.8 L1093 374.4"/>
<path d="M797.5 387.6 L797.9 388.5 L798.2 389.9 L798.6 391.6 L798.9 393.5 L799.3 396.9 L799.6 400.6 L800 403.7 L800.3 405.9 L800.7 407.2 L801 407.3 L801.4 406.3 L801.7 404.2 L802.1 401.3 L802.4 397.7 L802.8 393.8 L803.1 390 L803.5 386.4 L803.8 383.6 L804.2 381.6 L804.6 380.7 L804.9 380.9 L805.3 382.2 L805.6 384.6 L806 387.7 L806.3 391.4 L806.7 395.3 L807 399.1 L807.4 402.5 L807.7 405.1 L808.1 406.8 L808.4 407.4 L808.8 406.8 L809.1 405.2 L809.5 402.6 L809.8 399.2 L810.2 395.4 L810.5 391.5 L810.9 387.8 L811.3 384.7 L811.6 382.3 L812 380.9 L812.3 380.6 L812.7 381.5 L813 383.5 L813.4 386.3 L813.7 389.8 L814.1 393.7 L814.4 397.6 L814.8 401.2 L815.1 404.1 L815.5 406.2 L815.8 407.3 L816.2 407.2 L816.5 406 L816.9 403.8 L817.2 400.7 L817.6 397 L818 393.1 L818.3 389.3 L818.7 385.9 L819 383.1 L819.4 381.3 L819.7 380.6 L820.1 381 L820.4 382.6 L820.8 385.1 L821.1 388.3 L821.5 392.1 L821.8 396 L822.2 399.8 L822.5 403 L822.9 405.5 L823.2 407 L823.6 407.4 L823.9 406.6 L824.3 404.8 L824.7 402 L825 398.6 L825.4 394.7 L825.7 390.8 L826.1 387.2 L826.4 384.2 L826.8 382 L827.1 380.8 L827.5 380.7 L827.8 381.8 L828.2 383.9 L828.5 386.9 L828.9 390.5 L829.2 394.4 L829.6 398.3 L829.9 401.8 L830.3 404.6 L830.6 406.5 L831 407.4 L831.4 407.1 L831.7 405.7 L832.1 403.3 L832.4 400.1 L832.8 396.4 L833.1 392.4 L833.5 388.7 L833.8 385.3 L834.2 382.7 L834.5 381.1 L834.9 380.6 L835.2 381.2 L835.6 382.9 L835.9 385.6 L836.3 389 L836.6 392.8 L837 396.7 L837.3 400.4 L837.7 403.5"/>
<path d="M1082.9 388.9 L1083.3 389.7 L1083.6 390.9 L1084 392.3 L1084.3 394 L1084.7 396.9 L1085 400 L1085.4 402.7 L1085.7 404.6 L1086.1 405.7 L1086.4 405.8 L1086.8 405 L1087.1 403.2 L1087.5 400.7 L1087.8 397.7 L1088.2 394.4 L1088.5 391.1 L1088.9 388 L1089.2 385.5 L1089.6 383.8 L1089.9 383 L1090.3 383.1 L1090.6 384.2 L1091 386.2 L1091.3 388.8 L1091.7 392 L1092 395.3 L1092.4 398.6 L1092.8 401.5 L1093.1 403.8 L1093.5 405.3 L1093.8 405.9 L1094.2 405.5 L1094.5 404.2 L1094.9 402 L1095.2 399.2 L1095.6 395.9 L1095.9 392.6 L1096.3 389.4 L1096.6 386.6 L1097 384.5 L1097.3 383.2 L1097.7 382.9 L1098 383.6 L1098.4 385.2 L1098.7 387.5 L1099.1 390.5 L1099.4 393.8 L1099.8 397.1 L1100.1 400.2 L1100.5 402.8 L1100.8 404.7 L1101.2 405.7 L1101.5 405.8 L1101.9 404.9 L1102.2 403.1 L1102.6 400.5 L1103 397.5 L1103.3 394.1 L1103.7 390.8 L1104 387.8 L1104.4 385.4 L1104.7 383.7 L1105.1 382.9 L1105.4 383.2 L1105.8 384.3 L1106.1 386.3 L1106.5 389.1 L1106.8 392.2 L1107.2 395.6 L1107.5 398.8 L1107.9 401.7 L1108.2 404 L1108.6 405.4 L1108.9 405.9 L1109.3 405.4 L1109.6 404 L1110 401.8 L1110.3 398.9 L1110.7 395.7 L1111 392.3 L1111.4 389.2 L1111.7 386.4 L1112.1 384.4 L1112.5 383.2 L1112.8 382.9 L1113.2 383.7 L1113.5 385.3 L1113.9 387.7 L1114.2 390.7 L1114.6 394 L1114.9 397.4 L1115.3 400.4 L1115.6 403 L1116 404.8 L1116.3 405.8 L1116.7 405.8 L1117 404.8 L1117.4 402.9 L1117.7 400.3 L1118.1 397.2 L1118.4 393.9 L1118.8 390.6 L1119.1 387.6 L1119.5 385.2 L1119.8 383.6 L1120.2 382.9 L1120.5 383.2 L1120.9 384.4 L1121.2 386.5 L1121.6 389.3 L1121.9 392.5 L1122.3 395.8"/>
<path d="M897.2 418.6 L897.6 419.8 L897.9 421.7 L898.3 424.1 L898.6 426.8 L899 431.6 L899.3 436.7 L899.7 441.1 L900 444.4 L900.4 446.2 L900.7 446.5 L901.1 445.2 L901.4 442.4 L901.8 438.3 L902.1 433.3 L902.5 427.9 L902.8 422.4 L903.2 417.4 L903.5 413.2 L903.9 410.2 L904.2 408.8 L904.6 408.9 L904.9 410.5 L905.3 413.7 L905.6 418 L906 423.1 L906.3 428.6 L906.7 434 L907 438.9 L907.4 442.8 L907.7 445.4 L908.1 446.6 L908.4 446.1 L908.8 444.1 L909.1 440.7 L909.5 436.1 L909.8 430.9 L910.2 425.4 L910.5 420 L910.9 415.3 L911.2 411.7 L911.6 409.4 L911.9 408.6 L912.3 409.4 L912.6 411.8 L913 415.5 L913.3 420.2 L913.7 425.6 L914 431.1 L914.4 436.3 L914.7 440.8 L915.1 444.2 L915.4 446.1 L915.8 446.6 L916.1 445.4 L916.5 442.7 L916.8 438.7 L917.2 433.8 L917.5 428.4 L917.9 422.9 L918.2 417.8 L918.6 413.5 L918.9 410.5 L919.3 408.8 L919.6 408.8 L920 410.3 L920.3 413.3 L920.7 417.5 L921 422.6 L921.4 428.1 L921.7 433.5 L922.1 438.5 L922.4 442.5 L922.8 445.2 L923.1 446.5 L923.5 446.2 L923.8 444.3 L924.2 441 L924.5 436.6 L924.9 431.4 L925.2 425.9 L925.6 420.5 L925.9 415.7 L926.3 412 L926.6 409.5 L927 408.6 L927.3 409.3 L927.7 411.5 L928 415.1 L928.4 419.8 L928.7 425.1 L929.1 430.6 L929.4 435.9 L929.8 440.4 L930.1 443.9 L930.5 446 L930.8 446.6 L931.2 445.5 L931.5 443 L931.9 439.1 L932.2 434.3 L932.6 428.9 L932.9 423.4 L933.3 418.2 L933.6 413.9 L934 410.7 L934.3 408.9 L934.7 408.7 L935 410.1 L935.4 413 L935.7 417.1 L936.1 422.1 L936.4 427.6 L936.8 433 L937.1 438 L937.5 442.2"/>
<path d="M982.3 420.9 L982.7 422.1 L983 423.8 L983.4 425.9 L983.7 428.4 L984.1 432.7 L984.4 437.3 L984.8 441.3 L985.1 444.1 L985.5 445.7 L985.8 445.9 L986.2 444.6 L986.5 442 L986.9 438.3 L987.2 433.7 L987.6 428.8 L987.9 423.9 L988.3 419.4 L988.6 415.8 L989 413.2 L989.4 412.1 L989.7 412.3 L990.1 414 L990.4 417 L990.8 421 L991.1 425.7 L991.5 430.7 L991.8 435.5 L992.2 439.7 L992.5 443.1 L992.9 445.2 L993.2 446 L993.6 445.3 L993.9 443.2 L994.3 439.9 L994.6 435.7 L995 430.9 L995.3 425.9 L995.7 421.2 L996.1 417.2 L996.4 414.1 L996.8 412.4 L997.1 412.1 L997.5 413.2 L997.8 415.6 L998.2 419.3 L998.5 423.7 L998.9 428.6 L999.2 433.5 L999.6 438.1 L999.9 441.8 L1000.3 444.5 L1000.6 445.9 L1001 445.8 L1001.3 444.2 L1001.7 441.4 L1002 437.5 L1002.4 432.9 L1002.8 427.9 L1003.1 423.1 L1003.5 418.7 L1003.8 415.2 L1004.2 412.9 L1004.5 412 L1004.9 412.5 L1005.2 414.5 L1005.6 417.6 L1005.9 421.8 L1006.3 426.5 L1006.6 431.5 L1007 436.3 L1007.3 440.4 L1007.7 443.6 L1008 445.5 L1008.4 446 L1008.7 445 L1009.1 442.7 L1009.4 439.2 L1009.8 434.9 L1010.2 430 L1010.5 425 L1010.9 420.4 L1011.2 416.6 L1011.6 413.7 L1011.9 412.2 L1012.3 412.1 L1012.6 413.5 L1013 416.2 L1013.3 420 L1013.7 424.5 L1014 429.5 L1014.4 434.4 L1014.7 438.8 L1015.1 442.4 L1015.4 444.9 L1015.8 446 L1016.1 445.6 L1016.5 443.8 L1016.9 440.8 L1017.2 436.8 L1017.6 432 L1017.9 427.1 L1018.3 422.3 L1018.6 418 L1019 414.8 L1019.3 412.7 L1019.7 412 L1020 412.8 L1020.4 414.9 L1020.7 418.3 L1021.1 422.6 L1021.4 427.4 L1021.8 432.4 L1022.1 437 L1022.5 441 L1022.8 444 L1023.2 445.7"/>
</g>
<g stroke="#8c8272" stroke-width="0.55">
<line x1="897" y1="139" x2="937.5" y2="139"/>
<line x1="982" y1="139.4" x2="1022.5" y2="139.4"/>
<line x1="795.8" y1="175.2" x2="835" y2="175.2"/>
<line x1="1084.7" y1="175.2" x2="1124.3" y2="175.2"/>
<line x1="826" y1="193.7" x2="866" y2="193.7"/>
<line x1="1053" y1="194.5" x2="1093.4" y2="194.5"/>
<line x1="882.5" y1="205" x2="923" y2="205"/>
<line x1="939.5" y1="206.7" x2="980" y2="206.7"/>
<line x1="996" y1="206.2" x2="1037" y2="206.2"/>
<line x1="839" y1="240.6" x2="879.3" y2="240.6"/>
<line x1="905" y1="245.3" x2="945.3" y2="245.3"/>
<line x1="974.8" y1="244.8" x2="1015.2" y2="244.8"/>
<line x1="1040.8" y1="241.6" x2="1081.2" y2="241.6"/>
<line x1="763.8" y1="282.8" x2="798.7" y2="282.8"/>
<line x1="798.7" y1="282.8" x2="839" y2="282.8"/>
<line x1="869.3" y1="282" x2="909.6" y2="282"/>
<line x1="939.8" y1="281.5" x2="980.3" y2="281.5"/>
<line x1="1010.6" y1="282" x2="1050.9" y2="282"/>
<line x1="1080.3" y1="283" x2="1116.9" y2="283"/>
<line x1="1116.9" y1="283" x2="1155.4" y2="283"/>
<line x1="839.3" y1="324.4" x2="879.6" y2="324.4"/>
<line x1="905.3" y1="318.8" x2="945.6" y2="318.8"/>
<line x1="974.8" y1="318.8" x2="1015.1" y2="318.8"/>
<line x1="1040.8" y1="324.3" x2="1080.2" y2="324.3"/>
<line x1="826.8" y1="371" x2="867.2" y2="371"/>
<line x1="882.8" y1="358.2" x2="923.1" y2="358.2"/>
<line x1="940.5" y1="357.3" x2="979.9" y2="357.3"/>
<line x1="997.3" y1="359.1" x2="1036.2" y2="359.1"/>
<line x1="1053.6" y1="373.3" x2="1093" y2="373.3"/>
<line x1="797.5" y1="394" x2="837.7" y2="394"/>
<line x1="1082.9" y1="394.4" x2="1122.3" y2="394.4"/>
<line x1="897.2" y1="427.6" x2="937.5" y2="427.6"/>
<line x1="982.3" y1="429" x2="1023.2" y2="429"/>
</g>
<g font-family='"Liberation Sans", sans-serif' font-weight="bold" font-size="11" fill="#2a241c">
<text x="883.3" y="137">Fp1</text>
<text x="969.5" y="137">Fp2</text>
<text x="782.5" y="171.2">F9</text>
<text x="1070.5" y="171.6">F10</text>
<text x="812.5" y="190.7">F7</text>
<text x="1040.4" y="190.6">F8</text>
<text x="868" y="202.5">F3</text>
<text x="925.8" y="203.8">Fz</text>
<text x="982.5" y="202.5">F4</text>
<text x="824.7" y="237.9">FC5</text>
<text x="892.2" y="242.5">FC1</text>
<text x="960.5" y="242.1">FC2</text>
<text x="1027.6" y="237.9">FC6</text>
<text x="750.1" y="279.2">T9</text>
<text x="786.8" y="279.2">T7</text>
<text x="855.1" y="279.2">C3</text>
<text x="926" y="279.2">Cz</text>
<text x="996.5" y="279.2">C4</text>
<text x="1066.5" y="279.2">T8</text>
<text x="1102.3" y="279.2">T10</text>
<text x="825" y="320.7">CP5</text>
<text x="892.5" y="316.1">CP1</text>
<text x="960.6" y="316.1">CP2</text>
<text x="1027.9" y="320.7">CP6</text>
<text x="813.1" y="367.4">P7</text>
<text x="869" y="355.5">P3</text>
<text x="925.8" y="354.6">Pz</text>
<text x="983" y="356">P4</text>
<text x="1040.2" y="367.4">P8</text>
<text x="784" y="390">P9</text>
<text x="1068.2" y="389.4">P10</text>
<text x="883.6" y="422.7">O1</text>
<text x="969.5" y="422.7">O2</text>
</g>
<line x1="1168.6" y1="79.8" x2="1168.6" y2="146.3" stroke="#000" stroke-width="2"/>
<text x="1159.1" y="117" text-anchor="end" font-family='"Liberation Sans", sans-serif' font-weight="bold" font-size="12" fill="#1e1a14">5.00 µV</text>
<clipPath id="plotclip"><rect x="280" y="551" width="904" height="469"/></clipPath>
<g fill="none" stroke="#25257e" stroke-width="1.22" stroke-linejoin="round" clip-path="url(#plotclip)">
<path d="M280 564.2 l2 0 2 0.1 2 1 2 0.8 2 0.3 2 -0.5 2 -0.9 2 -1.6 2 -1.8 2 -1.4 2 1.2 2 1.9 2 2.2 2 2.2 2 1.4 2 -2 2 -2.7 2 -3 2 -2.9 2 0.2 2 2.7 2 3.7 2 3.9 2 3.3 2 -1.8 2 -3.4 2 -4.5 2 -4.4 2 -2.6 2 2.6 2 3.4 2 3.9 2 3 2 1.8 2 -1.2 2 -2.2 2 -2.2 2 -2.5 2 -2.4 2 0.3 2 2.5 2 1.3 2 1.2 2 1.4 2 0.5 2 -1.1 2 -0.8 2 -0.9 2 -1.2 2 -0.9 2 0.1 2 0.9 2 0.3 2 0.5 2 1.4 2 1.2 2 -0.3 2 -1.2 2 -0.7 2 -0.6 2 -0.3 2 -0.5 2 0.2 2 0.9 2 0.5 2 -0.7 2 -0.3 2 1.1 2 1.1 2 -0.1 2 -0.3 2 0.1 2 -0.9 2 -1.6 2 -0.5 2 -0.4 2 -0.1 2 0.5 2 2.2 2 1.4 2 0.2 2 0 2 -0.7 2 -0.2 2 -0.4 2 -1.1 2 -0.3 2 0.1 2 -0.5 2 0 2 0.7 2 -0.8 2 -1 2 1.5 2 2.1 2 0.2 2 -0.4 2 -0.2 2 -0.1 2 -0.4 2 -1.1 2 -1.1 2 0.5 2 1.2 2 1.1 2 0.6 2 -0.3 2 -0.9 2 -0.5 2 -0.4 2 -0.7 2 -0.9 2 -0.3 2 0.4 2 0.7 2 1.3 2 1.6 2 1.1 2 1.1 2 -0.7 2 -2.1 2 -2.5 2 -1.5 2 -1.8 2 0.7 2 2.2 2 2.2 2 2.4 2 2.6 2 -1.2 2 -3.4 2 -1.7 2 -0.2 2 -0.9 2 -1.2 2 0.8 2 1.3 2 0.8 2 1.4 2 2.4 2 0.2 2 -2.4 2 -2.3 2 -1.8 2 -1.3 2 1.4 2 2.2 2 3.4 2 3 2 -1.4 2 -3 2 -3 2 -2.4 2 -1.9 2 0.9 2 2.2 2 3.9 2 3.3 2 1.6 2 -2.3 2 -2.9 2 -2.6 2 -1.6 2 0 2 1.5 2 2.4 2 2.6 2 0.1 2 -2 2 -1.8 2 -1.6 2 -1 2 1.4 2 1.9 2 0.8 2 0 2 -1 2 -0.6 2 0 2 0.6 2 0.6 2 1 2 0.3 2 -0.9 2 -1.5 2 -2.1 2 -0.4 2 2.4 2 2.1 2 1.3 2 0.7 2 -1.4 2 -2.4 2 -2.9 2 -3.2 2 0.6 2 3.3 2 4 2 4.4 2 1.7 2 -2.8 2 -4.9 2 -4.4 2 -1.6 2 1.9 2 3.1 2 3.8 2 2.2 2 -2 2 -2.9 2 -3.1 2 -2.3 2 3.2 2 3 2 2.6 2 2.4 2 -1.7 2 -3.7 2 -3.2 2 -2.7 2 0.3 2 3.2 2 3 2 1.5 2 -0.4 2 -0.6 2 1 2 -0.1 2 -1 2 -1.5 2 -2.7 2 -2.9 2 1.1 2 3.2 2 4.2 2 3.3 2 1.5 2 -2.6 2 -4.3 2 -4.4 2 -4.1 2 -1 2 4.3 2 4.9 2 3.7 2 2.7 2 -0.5 2 -3.1 2 -4.2 2 -3.8 2 -0.9 2 3.4 2 3.2 2 2.4 2 0.7 2 -2.2 2 -2.6 2 -2 2 -1.4 2 1.2 2 1.9 2 2.9 2 2.1 2 0 2 -1.6 2 -1.5 2 -2 2 -1.2 2 -0.1 2 1.3 2 1.5 2 1 2 -0.4 2 -1.3 2 -0.9 2 -1.1 2 0.1 2 1.5 2 3 2 2.5 2 0.4 2 -2.2 2 -3.3 2 -3 2 -2 2 1.1 2 2.8 2 1.9 2 1.6 2 1.5 2 -1.2 2 -1.6 2 -0.8 2 -1.1 2 -0.8 2 1 2 0.8 2 1.1 2 0.8 2 -0.1 2 -0.2 2 -0.9 2 -1.7 2 -0.3 2 -0.8 2 -0.9 2 0.9 2 1.8 2 2 2 1.9 2 1.3 2 -1.8 2 -2.3 2 -1.6 2 -1.3 2 -1.8 2 1.3 2 2.3 2 1.4 2 0.7 2 1 2 -0.3 2 -1 2 -0.9 2 -1.5 2 -1.9 2 -0.4 2 1.9 2 1.3 2 0.5 2 0.8 2 1.4 2 -0.2 2 -1.3 2 -1.1 2 -0.8 2 -0.6 2 1.6 2 1.3 2 0 2 -0.8 2 -1.4 2 -2.2 2 -2.4 2 1.4 2 2.7 2 3.6 2 3.9 2 2.1 2 -3.4 2 -4 2 -4.1 2 -3.4 2 -0.4 2 3.3 2 3.3 2 3.6 2 3.2 2 -0.9 2 -3.5 2 -3.9 2 -3.6 2 -1.9 2 3.1 2 4.6 2 4.2 2 3.6 2 -0.4 2 -3.8 2 -5.3 2 -4.5 2 -2.9 2 2.6 2 3.9 2 3.6 2 3.5 2 2.6 2 -3.2 2 -3.8 2 -3.2 2 -2.3 2 0.7 2 2.6 2 3.5 2 2.7 2 0.3 2 -1.9 2 -2.1 2 -3.6 2 -2 2 2.2 2 2.1 2 1 2 1.6 2 1.6 2 -1.4 2 -2.4 2 -1.5 2 -0.7 2 -0.8 2 0.6 2 1.7 2 2.2 2 1.4 2 1.2 2 -0.3 2 -1.5 2 -1.8 2 -1.5 2 -2.2 2 -2.6 2 1.8 2 2.8 2 2.3 2 3.3 2 3.2 2 -2.2 2 -3.3 2 -3.5 2 -3.7 2 -2.5 2 2.8 2 3.2 2 3.6 2 3.2 2 1.8 2 -2.1 2 -2.7 2 -3.9 2 -2.9 2 -0.7 2 2.6 2 2.3 2 2.5 2 1.9 2 -0.5 2 -1.9 2 -2 2 -1.9 2 -1.2 2 1.3 2 1.7 2 2.1 2 2.1 2 0.5 2 -1.7 2 -1.4 2 -2.1 2 -2.7 2 -1 2 2.5 2 1.8"/>
<path d="M280 581.9 l2 -1.8 2 -2.6 2 -2.5 2 -1.5 2 1 2 1.8 2 1.1 2 1.5 2 1.8 2 0.5 2 -1.6 2 -1.1 2 -0.8 2 -0.6 2 0.4 2 0.9 2 0.5 2 -0.4 2 -0.5 2 -0.5 2 -0.4 2 0 2 -0.5 2 -0.9 2 0.3 2 1.5 2 1.4 2 1.1 2 1.3 2 0.4 2 -1.1 2 -1.3 2 -2.6 2 -2.8 2 -1.2 2 2.5 2 2.7 2 2.2 2 2.5 2 -0.5 2 -2.9 2 -2.8 2 -2.4 2 -0.6 2 2.3 2 2.1 2 2.6 2 3 2 -0.6 2 -3.2 2 -2.5 2 -2 2 -2.7 2 0.9 2 3.5 2 3.1 2 1.6 2 1.7 2 -1 2 -2.8 2 -4.1 2 -2.3 2 0.8 2 2.3 2 2.2 2 2.1 2 1 2 -0.5 2 -1.1 2 -2.3 2 -2.3 2 -0.5 2 1.6 2 1.2 2 1.4 2 1.1 2 0.5 2 -0.6 2 -0.9 2 -1.5 2 -1.3 2 -0.5 2 0.3 2 0.4 2 0.6 2 1.7 2 1 2 0 2 0.4 2 -0.4 2 -1.1 2 -0.5 2 -0.5 2 -1.1 2 -0.2 2 0.7 2 0.4 2 0.8 2 0.8 2 -0.4 2 -0.6 2 -0.4 2 -1.7 2 -1.1 2 1.1 2 2 2 2.8 2 3.2 2 1.2 2 -2.9 2 -3.3 2 -3.2 2 -4.9 2 -3.3 2 4.6 2 5.7 2 3.5 2 2.1 2 1.7 2 -2.3 2 -3.2 2 -3.6 2 -3.1 2 -1 2 3.1 2 3.9 2 2.7 2 1.2 2 -1.6 2 -1.7 2 -2.5 2 -2.7 2 -0.8 2 2.1 2 1.7 2 2 2 1.9 2 0 2 -1.9 2 -1.5 2 -1.5 2 -0.9 2 1.2 2 1.6 2 1.3 2 1.1 2 -0.7 2 -1.4 2 -1 2 -0.7 2 -1 2 0 2 0.9 2 0.8 2 0.8 2 0.8 2 0.4 2 0.2 2 -0.4 2 0 2 -0.6 2 -0.7 2 -0.3 2 -1 2 -1.2 2 0.2 2 1.3 2 1.1 2 0.8 2 1.4 2 0.8 2 -1.2 2 -1.7 2 -1.4 2 -1.3 2 -0.7 2 1.1 2 1 2 1.8 2 2.5 2 0.9 2 -2 2 -1.5 2 -1.1 2 -1.4 2 -1.2 2 1 2 1.6 2 1 2 0.7 2 1 2 -0.3 2 -1.5 2 -0.9 2 -0.7 2 -1.1 2 0.3 2 1.9 2 3.3 2 1.1 2 -2 2 -3.6 2 -3.3 2 -0.6 2 2.4 2 3.3 2 3.7 2 1.9 2 -2.7 2 -3.6 2 -3.5 2 -3 2 2.7 2 3.5 2 3.4 2 3.1 2 -1.1 2 -3.6 2 -3.5 2 -2.4 2 0.2 2 2.7 2 2.6 2 1.1 2 -0.8 2 -1.1 2 -0.2 2 0.1 2 1.2 2 0.8 2 -0.9 2 -1.6 2 -1.3 2 -0.2 2 1.1 2 1.2 2 0.4 2 0.6 2 0.3 2 -1 2 -1.5 2 -0.8 2 0.1 2 0.9 2 1.6 2 1 2 0.4 2 -0.8 2 -0.9 2 -1.2 2 -1.1 2 0.1 2 0.8 2 0.4 2 0.6 2 0 2 -0.7 2 -0.7 2 0 2 0.9 2 1.2 2 1 2 1.3 2 -0.4 2 -1.4 2 -1.8 2 -1.3 2 -0.4 2 0.3 2 0.5 2 0.3 2 1.1 2 0.3 2 -0.9 2 0 2 1.1 2 0.9 2 0.3 2 -0.2 2 -0.8 2 -0.8 2 -0.1 2 -0.8 2 -1.1 2 1.4 2 1.3 2 -0.9 2 -0.5 2 0.7 2 -0.1 2 -0.7 2 0.1 2 0.7 2 1.4 2 1.4 2 -1.4 2 -1.5 2 0 2 -0.9 2 -2.1 2 0.6 2 2.3 2 2.1 2 1 2 -0.4 2 -1.4 2 -0.8 2 -1.4 2 -1.9 2 -0.5 2 1.4 2 1.9 2 1.5 2 0.4 2 0.3 2 -0.2 2 -0.6 2 -1.4 2 -0.7 2 0 2 0.4 2 0.8 2 0.6 2 -0.7 2 -0.7 2 0 2 -0.7 2 -0.2 2 0.8 2 0.2 2 0.4 2 1.3 2 0.8 2 -0.6 2 -0.5 2 -0.6 2 -1.6 2 -1.2 2 0.7 2 1.2 2 1.3 2 1.2 2 0.2 2 -0.9 2 -1.1 2 -1.8 2 -1.7 2 0.4 2 1.8 2 1.6 2 1.3 2 1.9 2 0 2 -2.4 2 -2.9 2 -1.2 2 -0.5 2 1 2 1.8 2 2.4 2 1.7 2 -0.3 2 -1.8 2 -2.4 2 -1.8 2 -1.3 2 0.9 2 2 2 2.6 2 1.4 2 1 2 -1.1 2 -1.7 2 -2.1 2 -1.9 2 -0.3 2 1.9 2 0.7 2 0.8 2 0.7 2 -0.5 2 0 2 0.4 2 -0.3 2 0.6 2 0.7 2 -0.7 2 -0.7 2 -1.1 2 -1.8 2 -1 2 1.2 2 1.4 2 1.8 2 1.4 2 1 2 -0.5 2 -1.3 2 -1.6 2 -1.9 2 -1.5 2 0.9 2 1.6 2 0.7 2 1.4 2 2.1 2 0.4 2 -1.4 2 -1.8 2 -2.7 2 -2.5 2 0.6 2 2.3 2 2.6 2 2.9 2 1.9 2 -2 2 -2.5 2 -2.8 2 -1.9 2 -0.3 2 1.6 2 1.9 2 2 2 1.8 2 0.2 2 -1.7 2 -1.5 2 -1.3 2 -1.4 2 -0.3 2 1.1 2 0.4 2 1 2 1.1 2 0.7 2 1 2 -0.2 2 -1.4 2 -0.8 2 -0.3 2 -1 2 -1.5 2 -0.5 2 1.6 2 2 2 0.4 2 0.5 2 1.1 2 -1 2 -1.9 2 -0.6"/>
<path d="M280 591.6 l2 0.2 2 0.1 2 0 2 -0.4 2 -1 2 0.2 2 0.9 2 -0.1 2 1 2 2 2 -0.1 2 -1.6 2 -1.1 2 -0.9 2 -0.9 2 -0.8 2 1 2 1.7 2 1 2 0.5 2 0.6 2 -0.6 2 -0.4 2 -1.3 2 -2 2 -0.2 2 1.5 2 0.2 2 0.9 2 1.8 2 0.1 2 -1.3 2 -0.2 2 -0.6 2 -1.3 2 -0.3 2 1 2 0.2 2 -0.3 2 0.7 2 1.1 2 0.4 2 -0.6 2 -0.1 2 -0.5 2 -1.3 2 -0.7 2 0.1 2 0.1 2 1.7 2 2.3 2 0.8 2 -1.2 2 -0.8 2 -1 2 -2.6 2 -2.1 2 0.5 2 1.2 2 1.8 2 3.3 2 2.1 2 0.6 2 -1.5 2 -2 2 -2.9 2 -2.6 2 -1.3 2 1.3 2 1.4 2 2.2 2 3.1 2 2.4 2 0.3 2 -1.9 2 -3 2 -2.7 2 -2 2 -1.3 2 1.9 2 2.2 2 2.4 2 2.2 2 0.5 2 -2.1 2 -1 2 -0.2 2 -1.5 2 -1.4 2 0.6 2 1.3 2 0.1 2 0.1 2 1.1 2 1.3 2 0.6 2 -0.7 2 -1.6 2 -1.6 2 -0.5 2 -0.5 2 -0.6 2 1 2 2.4 2 1 2 0.4 2 0.8 2 -1 2 -2.6 2 -1.1 2 0.3 2 0 2 0.1 2 0.9 2 1.4 2 1 2 0.6 2 0.3 2 -0.6 2 -1.2 2 -1.9 2 -2 2 -1.2 2 1.3 2 1.7 2 1.7 2 1.5 2 1.4 2 -0.6 2 -2 2 -1.7 2 -0.7 2 -0.2 2 1 2 0.9 2 1 2 0.2 2 -0.9 2 -0.9 2 -1.2 2 0.1 2 1.1 2 1.4 2 1.3 2 0.7 2 -0.8 2 -1.7 2 -2.1 2 -1.4 2 -0.5 2 0.9 2 1.7 2 2.4 2 1.8 2 1 2 -1.4 2 -1.9 2 -1.7 2 -1.3 2 -1.5 2 0.7 2 2 2 1.5 2 1.2 2 1.8 2 -0.2 2 -1.6 2 -1.9 2 -2 2 -1.8 2 -0.7 2 1.7 2 2.6 2 1.8 2 1.3 2 1.5 2 -0.9 2 -1.7 2 -1.2 2 -1.7 2 -1.9 2 -0.4 2 1.7 2 1 2 1 2 1.2 2 0.7 2 -0.5 2 -0.7 2 -0.7 2 -1 2 -0.5 2 0.3 2 0.6 2 0.6 2 0.6 2 0.2 2 -0.7 2 -0.5 2 0 2 -0.2 2 -0.2 2 0.5 2 0.3 2 -0.1 2 0.4 2 0.4 2 -0.6 2 -0.4 2 0 2 -0.2 2 0 2 -0.1 2 -0.2 2 0.6 2 0.1 2 -0.5 2 -0.1 2 0.7 2 1.4 2 0.8 2 -1.3 2 -0.8 2 -0.6 2 -1.4 2 -1.2 2 0.2 2 0.6 2 2.1 2 2.7 2 1.6 2 -0.4 2 -1.7 2 -1.4 2 -2.2 2 -2.7 2 -1.6 2 2 2 1.9 2 2.4 2 3 2 2.3 2 -1.1 2 -2.5 2 -2.5 2 -2.7 2 -2.3 2 0.9 2 2.5 2 1.9 2 2 2 2.2 2 0 2 -2.3 2 -2.1 2 -2.2 2 -2.4 2 0.2 2 2.8 2 2.3 2 1.6 2 1.6 2 -0.5 2 -1.8 2 -1.1 2 -0.9 2 -1 2 0.1 2 0.7 2 -0.1 2 -0.5 2 -0.1 2 0.3 2 0.6 2 1.4 2 2.1 2 1.8 2 -1.3 2 -2 2 -3.5 2 -3.6 2 -1.2 2 3 2 3.3 2 3.2 2 2.9 2 0.8 2 -2.9 2 -3.7 2 -2.9 2 -1.5 2 1.1 2 1.8 2 2 2 2.5 2 1.3 2 -1.8 2 -2.4 2 -2.3 2 -1.5 2 1.1 2 1.9 2 2 2 2.1 2 1.4 2 -1.7 2 -2.1 2 -1.9 2 -1.5 2 -1.2 2 0.7 2 1.4 2 1.5 2 1.7 2 1.4 2 -0.4 2 -1.7 2 -1.7 2 -0.9 2 1.1 2 1.3 2 0.8 2 1.1 2 -0.2 2 -1.4 2 -2.3 2 -1.7 2 -0.9 2 1.6 2 1.8 2 1.3 2 1.6 2 1.3 2 -1.3 2 -1.5 2 -1 2 -1 2 -1.3 2 -0.1 2 1.2 2 1 2 1.1 2 1.5 2 0.3 2 -1.1 2 0 2 0.3 2 -1.5 2 -1.9 2 -1.5 2 -0.6 2 2.5 2 3.3 2 1.8 2 -0.9 2 -1.4 2 -2.8 2 -3.5 2 1.7 2 2.4 2 2 2 2 2 -0.3 2 -1.9 2 -2.4 2 -2 2 0.6 2 2.1 2 2.4 2 1.9 2 0.2 2 -3.2 2 -2.7 2 -2.3 2 -1.6 2 3.5 2 3.9 2 2.8 2 1.1 2 -1.7 2 -3.4 2 -3.4 2 -1.3 2 2.3 2 2 2 1.4 2 1.7 2 0.2 2 -2 2 -2.7 2 -1.1 2 -0.6 2 0 2 0.8 2 2.3 2 2.9 2 2.1 2 -0.2 2 -1.7 2 -1.9 2 -3.2 2 -2.9 2 0.1 2 2.6 2 2.3 2 1.9 2 1.1 2 -0.9 2 -1.3 2 -1.5 2 -1.6 2 0.8 2 1.6 2 0.5 2 1.4 2 0.6 2 -1.8 2 -1 2 -0.2 2 -1.8 2 -1 2 1.3 2 1.4 2 1.2 2 1.3 2 0.1 2 -0.8 2 0 2 0 2 -1 2 -0.5 2 -0.6 2 -1.3 2 -0.7 2 0.8 2 0.6 2 0.9 2 1.8 2 1.8 2 0.2 2 -1.7 2 -0.9 2 -0.5 2 -0.7 2 -1.1 2 -1 2 0.9 2 1.7 2 -0.2 2 -0.5 2 1.8 2 1.4"/>
<path d="M280 606.7 l2 -2.3 2 -2.4 2 0.5 2 1.3 2 1.2 2 1.7 2 2.1 2 0.5 2 -2.5 2 -2 2 -0.9 2 -0.7 2 0.9 2 1.6 2 1.8 2 1.5 2 -1.4 2 -2.5 2 -2.9 2 -1.4 2 2.1 2 2.1 2 2 2 2.5 2 0.9 2 -2.4 2 -1.7 2 -1.2 2 -1.9 2 -1.7 2 1.4 2 2 2 1.6 2 1.1 2 1 2 -0.9 2 -1.6 2 -1.6 2 -0.9 2 -0.4 2 0.6 2 1.2 2 1.5 2 0.8 2 1 2 0.2 2 -1.4 2 -2.1 2 -1.8 2 -1.6 2 1.3 2 2.5 2 1.9 2 0.9 2 0.7 2 -1 2 -2.1 2 -1.5 2 -1.4 2 -1.4 2 1.1 2 2.1 2 2 2 0.9 2 0.3 2 0.1 2 -0.6 2 -0.6 2 -0.8 2 -0.7 2 -0.1 2 -0.3 2 -0.9 2 -0.6 2 0.7 2 1 2 0.8 2 0.2 2 -0.1 2 0.5 2 0.3 2 -0.5 2 -1.2 2 -0.1 2 1.6 2 0.5 2 -0.8 2 0.4 2 0 2 -2.5 2 -2.4 2 -0.2 2 1.9 2 1.3 2 2.2 2 3.2 2 1.1 2 -2.7 2 -2.9 2 -2.9 2 -2.1 2 0.9 2 2 2 2.9 2 3.5 2 1.8 2 -2.7 2 -2.9 2 -3 2 -2.7 2 -0.6 2 2.6 2 3.1 2 2.1 2 0.9 2 1.1 2 -0.5 2 -1.8 2 -2.5 2 -1 2 -0.2 2 -0.4 2 1.1 2 1.8 2 0 2 -1.1 2 0.1 2 0.5 2 -0.4 2 -0.1 2 1.2 2 1 2 0.1 2 -1 2 -0.9 2 -0.4 2 -0.1 2 -0.6 2 -0.4 2 0.6 2 1.6 2 1.1 2 0 2 -1.1 2 -1.3 2 -1 2 -0.7 2 -0.4 2 0.1 2 1.2 2 2.6 2 2.5 2 1.7 2 0.2 2 -1.9 2 -3 2 -3.8 2 -3.6 2 -1.3 2 3 2 3.6 2 4.2 2 3.8 2 2.1 2 -3 2 -4 2 -4.3 2 -3.9 2 -2.1 2 3.2 2 4 2 3.7 2 2.6 2 1.7 2 -2 2 -2.5 2 -3.1 2 -3 2 -1.8 2 1.7 2 2 2 3.2 2 3 2 1.2 2 -0.8 2 -1.3 2 -2.6 2 -3.3 2 -2.3 2 -0.7 2 2 2 2.1 2 2.2 2 1.8 2 1.1 2 0.5 2 -0.9 2 -1.8 2 -2.5 2 -1.4 2 -0.7 2 1 2 1.3 2 2 2 2.7 2 0.8 2 -2.6 2 -3.2 2 -2.7 2 -2 2 2.4 2 3.3 2 3.6 2 3.1 2 -1 2 -3.4 2 -3.8 2 -4.4 2 -0.9 2 3.6 2 4.2 2 5.3 2 4.6 2 -4.3 2 -5.8 2 -4.4 2 -3.7 2 -2 2 3.4 2 5.8 2 6.2 2 3.7 2 -2.3 2 -4.4 2 -3.1 2 -3.8 2 -4 2 2.2 2 4 2 3.5 2 2.5 2 1.6 2 -1.8 2 -2.4 2 -2 2 -1.4 2 -1 2 0.2 2 1.3 2 1.2 2 0.2 2 -0.4 2 0.2 2 0.5 2 0.7 2 1.8 2 1.5 2 -1.3 2 -2.3 2 -2.5 2 -2.2 2 -1.4 2 1.7 2 2.7 2 3.2 2 1.6 2 -0.9 2 -2.1 2 -1.8 2 -1.6 2 0.9 2 2.4 2 2 2 -0.4 2 -4.3 2 -2.6 2 1.4 2 2.8 2 3.4 2 2.6 2 -2.3 2 -2.9 2 -3.4 2 -3.3 2 2.7 2 3.5 2 3.3 2 2.9 2 -1.9 2 -3.6 2 -3.4 2 -2 2 2.1 2 4.1 2 0.6 2 -0.9 2 -0.9 2 -1.2 2 -0.7 2 0.4 2 0.3 2 -0.5 2 -0.5 2 0.8 2 1.5 2 0.9 2 1.3 2 1.5 2 -1.7 2 -2.3 2 -1.2 2 -1.9 2 0.8 2 3.1 2 2.9 2 -0.5 2 -2.1 2 -2.6 2 -2.8 2 -2 2 1.4 2 1.9 2 3.1 2 3.9 2 3.3 2 1.4 2 -3 2 -3.7 2 -3.8 2 -3.5 2 -2.8 2 1.5 2 3.4 2 3.7 2 2.6 2 1.8 2 0.7 2 -2.1 2 -2.3 2 -2.5 2 -3.4 2 -2 2 3.1 2 3 2 2.6 2 2.7 2 1.1 2 -2.5 2 -3 2 -2.2 2 -0.9 2 0.3 2 2.6 2 2.9 2 -0.5 2 -1.9 2 -2.1 2 -2.6 2 1.3 2 1.9 2 2.3 2 2.2 2 -0.6 2 -2.3 2 -2.4 2 -1.9 2 0.9 2 2.9 2 2.3 2 2 2 0.3 2 -3.7 2 -4 2 -2.4 2 -1.1 2 3.1 2 3.4 2 3.4 2 2.4 2 -1.2 2 -2.5 2 -1.7 2 -1.1 2 -1.2 2 -1.2 2 -0.1 2 1.7 2 1.4 2 0.5 2 0.5 2 0.4 2 -0.4 2 -0.2 2 -0.9 2 -0.8 2 0.4 2 0.4 2 -0.1 2 0.2 2 -0.4 2 -0.5 2 1.1 2 1 2 -0.4 2 0.4 2 0.6 2 -0.2 2 -1.5 2 -2.1 2 -1.7 2 -0.9 2 1.2 2 2.1 2 2.9 2 3.2 2 2.9 2 -0.9 2 -2.8 2 -3.7 2 -4 2 -3.7 2 -2.4 2 3.1 2 4.2 2 4.3 2 3.8 2 2.3 2 -2 2 -3.3 2 -3.6 2 -1.7 2 0.1 2 1.2 2 1.3 2 1 2 -0.6 2 -0.9 2 -0.8 2 -0.3 2 0.2 2 0 2 1.8 2 2 2 0.4 2 0.2 2 -0.1 2 -1.2 2 -1.6 2 -1.5 2 -1.6 2 -0.6 2 0.5"/>
<path d="M280 616.1 l2 0 2 1.3 2 1.6 2 1.5 2 1.3 2 0.6 2 -1.3 2 -1.8 2 -2 2 -0.8 2 0.7 2 0.5 2 1.5 2 1.7 2 0.8 2 0.7 2 -0.5 2 -1.2 2 -1.3 2 -1.6 2 -2 2 -0.3 2 2.1 2 2.3 2 1.8 2 1.7 2 -0.7 2 -2 2 -2.1 2 -2.2 2 -1.5 2 1.7 2 2.4 2 2.3 2 1.6 2 0.3 2 -1.6 2 -2.1 2 -1.7 2 -1.1 2 -0.5 2 0.9 2 2.4 2 2 2 0.7 2 -0.3 2 -1.2 2 -1.8 2 -1.4 2 -1.2 2 0.6 2 1.8 2 2.5 2 1.3 2 -0.7 2 -1.4 2 -0.9 2 -1.8 2 -1.7 2 1.2 2 1.7 2 1.5 2 1.9 2 1.3 2 -1.5 2 -2.7 2 -2.6 2 -1.9 2 0.8 2 1.9 2 1.7 2 2.4 2 1.6 2 -1.2 2 -1.6 2 -1 2 -1.2 2 -0.5 2 1.1 2 0.8 2 0.4 2 -0.4 2 -1 2 -1.6 2 -0.6 2 1.8 2 2.7 2 1.4 2 1.4 2 -0.8 2 -2.4 2 -3.8 2 -2.5 2 0.9 2 2.1 2 2.5 2 3.3 2 1.9 2 -2.8 2 -3.3 2 -2.3 2 -2.2 2 1 2 2.8 2 3.4 2 2.7 2 1 2 -2.4 2 -3.1 2 -3.5 2 -3 2 1.2 2 3.1 2 2.6 2 2.8 2 2 2 -2.9 2 -2.5 2 -1.3 2 -1.5 2 -0.9 2 1.1 2 0.7 2 1.1 2 2 2 1.8 2 1.2 2 -0.1 2 -1.1 2 -2.7 2 -3.4 2 -2.7 2 -1.2 2 2.6 2 3.1 2 3.2 2 4.2 2 2 2 -4 2 -5.3 2 -4.5 2 -3.2 2 3.6 2 4.5 2 4.3 2 4.2 2 0.4 2 -4.1 2 -5.2 2 -4.9 2 -4.2 2 1.6 2 4.7 2 5.6 2 4.8 2 3.5 2 -2.7 2 -4.5 2 -4.5 2 -3.3 2 -2.2 2 2 2 3 2 3.3 2 2.4 2 0.9 2 -1.8 2 -1.7 2 -2 2 -1.8 2 -0.6 2 1.3 2 1.7 2 1.6 2 1.2 2 1.3 2 -0.1 2 -1.4 2 -2.3 2 -1.9 2 -1.3 2 -1.3 2 1 2 2.3 2 2.6 2 1.6 2 0.3 2 -1.1 2 -1.1 2 -1 2 -0.9 2 -0.3 2 0.5 2 0.7 2 0.6 2 -0.3 2 -0.6 2 0.5 2 -0.4 2 -1.4 2 0.4 2 1 2 0.7 2 3 2 3.1 2 -2.1 2 -5.5 2 -5.7 2 -3 2 4.2 2 5.2 2 5.8 2 5 2 -3.8 2 -5.3 2 -6.2 2 -5.1 2 2.3 2 4.5 2 4.7 2 3.4 2 -0.3 2 -1 2 1.6 2 0.7 2 -2.1 2 -4.7 2 -3.6 2 -2.3 2 -1.4 2 2.5 2 4.4 2 4.2 2 3.3 2 2.7 2 -2.7 2 -3.7 2 -3.9 2 -3.4 2 -2.2 2 1.4 2 2.7 2 2.9 2 3 2 2.1 2 -0.9 2 -2.6 2 -2.6 2 -1.3 2 -0.2 2 1.2 2 1.4 2 1.5 2 0 2 -1 2 -1.2 2 -2.4 2 -1.1 2 2.3 2 2.7 2 1.8 2 2.2 2 -0.3 2 -2.4 2 -3.4 2 -2.7 2 -0.8 2 1.2 2 1 2 2.3 2 3.4 2 0.8 2 -2.4 2 -2.5 2 -3.6 2 -1.8 2 3.1 2 4.8 2 4.6 2 1.6 2 -3.8 2 -4.8 2 -4.8 2 -3.2 2 3.7 2 4.6 2 4.5 2 3.3 2 -1.9 2 -3.9 2 -4.1 2 -2.7 2 1.6 2 3.8 2 1.5 2 -0.7 2 -1.9 2 -1.9 2 -1.2 2 0.9 2 1.8 2 3.7 2 3.4 2 0.6 2 -2.5 2 -3 2 -4.4 2 -3.8 2 0.8 2 3.9 2 3.4 2 2.9 2 2.5 2 -1.5 2 -3.1 2 -4.3 2 -2.9 2 1.5 2 2.8 2 2.7 2 3.2 2 1.6 2 -2.9 2 -4.6 2 -3.2 2 -1.1 2 2.3 2 2 2 3.2 2 3 2 -0.6 2 -2.5 2 -1.5 2 -2.3 2 -2.6 2 1.2 2 2.7 2 1.8 2 0.6 2 0.5 2 -0.7 2 -0.9 2 -0.7 2 -0.7 2 -0.6 2 0.6 2 1 2 0.7 2 0.5 2 0.4 2 0 2 -1.5 2 -2.3 2 -1 2 0.3 2 0.4 2 0.6 2 2.3 2 2.3 2 1.1 2 -0.6 2 -1.4 2 -1.5 2 -2 2 -1.1 2 0 2 0.8 2 0.5 2 1.4 2 1.1 2 0.7 2 0.4 2 -0.7 2 -1.6 2 -1 2 0 2 -0.4 2 -0.3 2 0.5 2 1 2 1.4 2 1 2 0 2 -0.9 2 -0.9 2 -1.1 2 -0.5 2 -0.3 2 0.1 2 0.5 2 1.4 2 0.8 2 -0.7 2 -0.8 2 0.5 2 0.7 2 -0.6 2 -0.6 2 0.3 2 0 2 -0.7 2 -0.2 2 0.4 2 0.2 2 0.5 2 0.4 2 0.1 2 -0.1 2 -0.7 2 -1 2 -0.5 2 0.6 2 0.6 2 0.8 2 1.1 2 1.2 2 -0.3 2 -1.3 2 -1.6 2 -1.5 2 -1.7 2 -0.5 2 1.9 2 2.4 2 2.4 2 2.1 2 -0.9 2 -2.1 2 -2 2 -2.7 2 -3 2 1.7 2 3.2 2 2.8 2 3.3 2 3 2 -2.5 2 -3.9 2 -3.8 2 -4 2 -3.3 2 3.2 2 4.9 2 5 2 3.2 2 -0.2 2 -2.9 2 -3.4 2 -3.9 2 -2.5 2 0.8 2 3.3"/>
<path d="M280 634.5 l2 3.6 2 3.7 2 -1 2 -3.7 2 -4.8 2 -4.2 2 -3.8 2 0.1 2 4.2 2 4.4 2 3.9 2 3 2 1.1 2 -2.5 2 -3.1 2 -3.3 2 -2.4 2 -1.3 2 0.1 2 1.9 2 2.6 2 1.5 2 0.7 2 1 2 -1.1 2 -1.2 2 -0.6 2 -0.7 2 0 2 0.3 2 -0.9 2 -0.6 2 1 2 1.2 2 0.8 2 1 2 0.1 2 -1 2 -0.4 2 -1 2 -1.6 2 -1.5 2 -1 2 1.3 2 2.7 2 2 2 1.6 2 2.5 2 -1.2 2 -3.3 2 -3.3 2 -2.2 2 -0.9 2 2.2 2 1.7 2 1.6 2 2.3 2 1.3 2 -2.6 2 -1.8 2 0.7 2 -0.4 2 -1.2 2 0.8 2 0.7 2 -0.5 2 -0.8 2 -0.8 2 0 2 1 2 1.3 2 1 2 1.7 2 0.1 2 -1.5 2 -1.9 2 -1.6 2 -1 2 0.7 2 1.2 2 0.9 2 0.9 2 0.6 2 -0.8 2 -1.6 2 -1.3 2 0.7 2 1.5 2 1.7 2 1.1 2 -0.5 2 -0.9 2 -1.7 2 -2.5 2 -1.9 2 1.6 2 2.3 2 2.1 2 1.4 2 0.5 2 -1.4 2 -0.8 2 -0.6 2 -1 2 -0.9 2 0.5 2 0.8 2 -0.1 2 -0.5 2 -1.3 2 -1 2 1 2 1.4 2 1.1 2 2.4 2 2.7 2 -0.2 2 -2.5 2 -1.8 2 -2.3 2 -2.8 2 -1.3 2 0.9 2 1.4 2 1.6 2 2.8 2 2.3 2 0.3 2 -1 2 -1 2 -1.6 2 -1.4 2 -0.4 2 -0.2 2 0.3 2 1.1 2 1.5 2 -0.1 2 -1.5 2 -1 2 0 2 0.7 2 0.5 2 0.7 2 0.4 2 0 2 -0.6 2 -0.6 2 -0.1 2 -0.3 2 0.3 2 1.1 2 0.1 2 -0.2 2 0.3 2 0.1 2 -0.7 2 -0.8 2 -0.1 2 -0.3 2 -1.3 2 -0.5 2 0.9 2 0.7 2 1.9 2 2.3 2 1.6 2 -1.1 2 -2.1 2 -2.6 2 -2.1 2 -1.6 2 0.6 2 2.1 2 2.8 2 1.3 2 0.5 2 1.1 2 -1 2 -2.3 2 -1 2 -0.1 2 -1.2 2 -0.3 2 1.5 2 1.6 2 0.5 2 -0.7 2 -0.8 2 -1.3 2 -1.2 2 1 2 1.1 2 1 2 1.6 2 1.7 2 -0.2 2 -1.5 2 -2.1 2 -2.2 2 -2.1 2 0.5 2 2.9 2 4.2 2 3.6 2 -1.6 2 -5.5 2 -6.3 2 -3.4 2 4 2 4.9 2 5.9 2 5.2 2 -3.4 2 -4.8 2 -5.4 2 -5.2 2 2.3 2 4.6 2 3.9 2 1.5 2 -2.1 2 -1.9 2 -0.1 2 1.2 2 1.4 2 0.3 2 -1 2 -0.5 2 -0.7 2 -1.2 2 -0.4 2 0.6 2 0.3 2 -0.1 2 0.3 2 1.1 2 1 2 -0.9 2 -1.1 2 -0.7 2 -0.9 2 -0.1 2 1.1 2 1.7 2 1.5 2 1.2 2 -0.7 2 -1.4 2 -2.1 2 -2.1 2 -1.2 2 1.1 2 1.6 2 1.6 2 1.6 2 1.2 2 -1 2 -1.8 2 -1.6 2 -0.8 2 0 2 0.9 2 1.5 2 1.7 2 1.2 2 -1.2 2 -2.2 2 -1.4 2 -0.2 2 -0.3 2 0.7 2 2 2 1.2 2 0.2 2 -0.8 2 -0.7 2 -0.9 2 -1.1 2 -1 2 0.3 2 0.7 2 2 2 1.3 2 -0.7 2 -0.6 2 0.6 2 0.2 2 -0.7 2 -0.5 2 -0.1 2 -0.1 2 -0.5 2 -1 2 -0.4 2 0.7 2 0.5 2 0.4 2 0.7 2 0.3 2 0.1 2 0.8 2 1.2 2 -0.4 2 -1.6 2 -1.3 2 -0.5 2 -1.1 2 -1.9 2 1 2 2.6 2 1.5 2 0.2 2 0.8 2 0.8 2 -1.1 2 -1.8 2 -0.6 2 -0.1 2 -0.3 2 0.6 2 0.4 2 -0.9 2 -1.1 2 0.5 2 1.3 2 1.4 2 1.2 2 1 2 -0.7 2 -0.7 2 -1.3 2 -2.3 2 -1.9 2 -1.1 2 0 2 1.1 2 2.1 2 2.6 2 2.8 2 3.5 2 1.2 2 -3.1 2 -4 2 -3.9 2 -4.5 2 -4 2 2.1 2 4.1 2 4.9 2 5.5 2 3.7 2 -1 2 -3.8 2 -3.9 2 -4.4 2 -3 2 0.5 2 2.9 2 2.3 2 2.9 2 3.1 2 0.1 2 -3.2 2 -2.3 2 -1.2 2 -1.8 2 -0.9 2 1.9 2 2.9 2 2.2 2 1.9 2 -0.8 2 -2.8 2 -3 2 -2.6 2 -1.1 2 2.3 2 4.3 2 3.6 2 2.5 2 -1.1 2 -2.9 2 -5.1 2 -5.1 2 -3.2 2 3.9 2 4.6 2 5.1 2 5.1 2 2.3 2 -4.8 2 -5.3 2 -5 2 -4.7 2 1.3 2 5.4 2 5.2 2 3.5 2 1.1 2 -3.4 2 -4.6 2 -4.2 2 -2.9 2 2.3 2 3.7 2 3.6 2 2.5 2 1.2 2 -2.2 2 -1.7 2 -1.3 2 -1.1 2 0 2 0.4 2 -0.4 2 -1.9 2 -2.5 2 0.3 2 2 2 2.9 2 3.6 2 2.7 2 0.6 2 -1.8 2 -2.4 2 -3.8 2 -2.7 2 -1.6 2 -2 2 1.5 2 3.4 2 3.3 2 2.4 2 2.3 2 0.7 2 -3 2 -2.3 2 -1.3 2 -1.7 2 -1.9 2 0.8 2 2.6 2 2 2 1.3 2 -0.7 2 -2.3 2 -3 2 -2.9 2 1.7 2 3.1 2 3.6"/>
<path d="M280 643.8 l2 1.3 2 2.4 2 1.2 2 1.1 2 0.4 2 -1.9 2 -2.5 2 -0.6 2 -0.1 2 0.6 2 0.7 2 1.7 2 1.3 2 -0.9 2 -1.3 2 -1.2 2 -0.6 2 0.1 2 0.1 2 1.1 2 2 2 1.2 2 -0.7 2 -1.5 2 -1.1 2 -0.6 2 -1 2 -0.3 2 1.2 2 1.6 2 0.4 2 -0.4 2 1 2 0.7 2 -0.9 2 -0.4 2 -0.7 2 -1.7 2 -1.2 2 0.7 2 1.3 2 0.2 2 1 2 2.1 2 0.6 2 -1.8 2 -1.1 2 -0.8 2 -1.5 2 -1.1 2 1 2 1.2 2 0.9 2 1.4 2 1.3 2 0.2 2 -1 2 -0.1 2 -1.2 2 -2.1 2 -0.6 2 0.1 2 0.1 2 0.3 2 1.3 2 1.2 2 0.1 2 -0.1 2 0.4 2 -0.2 2 -0.9 2 0 2 0.4 2 -0.3 2 -0.2 2 -0.1 2 -0.9 2 -1.3 2 0.2 2 0.9 2 1.5 2 1.5 2 1.2 2 -0.1 2 -1.1 2 -2 2 -1.8 2 -0.5 2 -0.4 2 0.2 2 1.5 2 2 2 0.8 2 0.3 2 1 2 -0.5 2 -1.6 2 -1.3 2 -1.3 2 -1.8 2 0.1 2 1.7 2 2.6 2 2.6 2 1.8 2 -1.7 2 -2 2 -2.5 2 -3.2 2 -2.6 2 2.4 2 2.7 2 2.6 2 2.7 2 1.4 2 -1.4 2 -1.2 2 -1.6 2 -2.6 2 -1.7 2 0 2 1.9 2 1.4 2 0.8 2 0.1 2 -0.3 2 -0.3 2 0.4 2 0.3 2 0.8 2 0.1 2 -0.9 2 -1.5 2 -1.3 2 -1.6 2 0.8 2 2.1 2 2.1 2 1.8 2 0.9 2 -1.5 2 -2.9 2 -3.9 2 -3 2 3.1 2 3.9 2 3.1 2 2.7 2 0.7 2 -2.4 2 -2.6 2 -2.9 2 -2.9 2 -2 2 1.3 2 2.6 2 2.5 2 2.3 2 2.4 2 0.1 2 -2.9 2 -2.8 2 -1.2 2 0.2 2 1.1 2 0.9 2 2 2 1.7 2 -1.4 2 -2.4 2 -1.7 2 -1.6 2 -1.4 2 1.4 2 2 2 2.1 2 2.1 2 1.2 2 -0.7 2 -1.1 2 -1.3 2 -1.9 2 -1.9 2 -1 2 1.1 2 1.2 2 1.2 2 1.8 2 1 2 0.1 2 -0.2 2 -0.5 2 -0.8 2 -0.2 2 -0.6 2 -1.4 2 -0.8 2 -0.7 2 -1.5 2 0.8 2 1.4 2 1.4 2 2.5 2 4 2 2.4 2 -3.9 2 -5.6 2 -5.8 2 -3.2 2 4.4 2 5.8 2 5.8 2 4.9 2 -3.8 2 -5.8 2 -6.1 2 -5 2 2.2 2 4.6 2 4.6 2 2.8 2 -0.9 2 -0.7 2 1.2 2 1.8 2 -1.2 2 -2.7 2 -2.8 2 -1.8 2 -2.1 2 -1.2 2 2.2 2 3.1 2 3.1 2 2.2 2 0 2 -2.4 2 -1.6 2 -2 2 -1.7 2 2 2 2.4 2 1.8 2 0.2 2 -1.5 2 -2.9 2 -3.2 2 -1.4 2 2.2 2 3.1 2 3.3 2 2.6 2 0 2 -2.7 2 -3.4 2 -2.9 2 -1.7 2 2 2 2 2 2.7 2 2.7 2 1.1 2 -2.2 2 -2.3 2 -1.7 2 -1.4 2 -1.2 2 0.6 2 1.4 2 2.2 2 1.3 2 -0.4 2 -0.4 2 -0.1 2 -1.1 2 -1.2 2 0.6 2 0.8 2 1.2 2 1.2 2 -0.9 2 -1.7 2 -1.2 2 -1.2 2 -1.4 2 0.7 2 2 2 3.1 2 2.9 2 2.4 2 -1.2 2 -2.6 2 -3.6 2 -3.5 2 -3.4 2 -2.9 2 2.8 2 4 2 4 2 4.2 2 4.6 2 0.9 2 -4.6 2 -4.8 2 -3.7 2 -3.1 2 -2.6 2 2.3 2 3.7 2 3.9 2 2.7 2 1.3 2 -2.6 2 -3 2 -1.9 2 -0.9 2 0.5 2 1 2 1.8 2 2.2 2 0.8 2 -1.7 2 -1.1 2 -1.8 2 -2.6 2 0.7 2 2.6 2 1.1 2 1.3 2 1.9 2 -1.2 2 -2.5 2 -2 2 -1.7 2 -0.4 2 2.1 2 3 2 2.1 2 1.9 2 -1.2 2 -2.7 2 -3.4 2 -2.7 2 -1.4 2 2 2 3 2 2.9 2 2.4 2 2.5 2 -1.3 2 -3.1 2 -2.6 2 -2 2 -1.5 2 0 2 1.6 2 1.3 2 1 2 0.9 2 0.7 2 0.4 2 0.7 2 -0.4 2 -0.8 2 -1.3 2 -1.9 2 -1.7 2 -0.1 2 1.5 2 1.3 2 1 2 0.8 2 0.9 2 1.8 2 4 2 -2.5 2 -6.2 2 -5.7 2 -0.2 2 5.5 2 6 2 1.7 2 -4.7 2 -1.7 2 -0.8 2 -0.1 2 0.3 2 0.1 2 -0.3 2 0.1 2 0.7 2 0.8 2 0.4 2 0.3 2 1.2 2 0.4 2 -1 2 -2.4 2 -1.7 2 -1.1 2 -1.2 2 1.3 2 2.2 2 1.6 2 1.1 2 1.3 2 0.5 2 -0.9 2 -2.2 2 -2.6 2 -1.7 2 0.1 2 1.7 2 1 2 1.6 2 2.4 2 2.3 2 -0.8 2 -2.4 2 -2.6 2 -2.6 2 -2.5 2 -1.6 2 1.9 2 3.5 2 3.8 2 2.8 2 2.8 2 0.2 2 -2.9 2 -4.6 2 -3.1 2 -1.2 2 -2.2 2 0.2 2 2.8 2 2.2 2 1.4 2 1.7 2 1.1 2 -0.1 2 -1.4 2 -1.4 2 -0.5 2 0.5 2 0.1 2 -0.8 2 0 2 0.6 2 -0.2 2 -1.1 2 -0.6"/>
<path d="M280 659.2 l2 0.8 2 1.2 2 1.7 2 1 2 -1.2 2 -1.6 2 -1.1 2 -0.3 2 0.4 2 1 2 1.3 2 0.3 2 -1.2 2 -1.7 2 -2 2 -2 2 1.5 2 2.2 2 2.4 2 2.8 2 1.9 2 -1.7 2 -1.4 2 -1.5 2 -3.1 2 -2.4 2 0.4 2 1.6 2 0.2 2 1 2 2.4 2 2.2 2 1.2 2 -1.7 2 -2.1 2 -2.3 2 -2.8 2 -1.9 2 2.2 2 3.6 2 3.4 2 2.8 2 2.3 2 -2.1 2 -3.2 2 -4.3 2 -4.3 2 -3.3 2 1.3 2 4 2 3.5 2 2.6 2 2.6 2 1.8 2 -2.4 2 -2.9 2 -1.8 2 -1.5 2 -1.6 2 0.6 2 1.7 2 1.6 2 1.8 2 -0.1 2 -1.6 2 -1.4 2 -0.5 2 1.3 2 1.5 2 -0.3 2 -1.6 2 -1.6 2 -1.1 2 0.1 2 1.2 2 2.1 2 2 2 2.5 2 2.4 2 -1.7 2 -3.6 2 -3.6 2 -3 2 -3.2 2 1.3 2 4.1 2 3.1 2 2.2 2 3.5 2 0.5 2 -3.8 2 -3.9 2 -3.2 2 -2.8 2 2.2 2 3.6 2 3 2 2.5 2 2.3 2 -1.9 2 -2.6 2 -2.9 2 -2.9 2 -1.8 2 1.2 2 2.4 2 1.1 2 0.8 2 1.5 2 1.4 2 0.5 2 -0.8 2 -0.7 2 -1.2 2 -1.5 2 -0.8 2 -0.9 2 -1 2 0.8 2 1.5 2 1.8 2 1.4 2 0.9 2 -0.4 2 -1.4 2 -1.2 2 -0.6 2 -0.8 2 -0.7 2 1 2 0.8 2 0.3 2 0.5 2 0.6 2 0.1 2 0 2 -0.1 2 -0.5 2 -0.8 2 -0.8 2 -0.6 2 0.3 2 0.3 2 0.7 2 1.2 2 1.1 2 0.2 2 -1.3 2 -1.3 2 -0.8 2 -0.9 2 0.2 2 0.7 2 1.3 2 1.9 2 1.3 2 -0.1 2 -0.6 2 -1.3 2 -2.8 2 -2.2 2 -1.3 2 1 2 1.8 2 2 2 2.6 2 2.7 2 0.5 2 -2.6 2 -1.7 2 -2 2 -2.5 2 -1.5 2 1.3 2 2 2 2.6 2 1.5 2 0.6 2 -1 2 -1.3 2 -1.2 2 -1.5 2 -1.3 2 0.5 2 1.4 2 1.5 2 0.8 2 0.3 2 0.2 2 -0.6 2 -0.8 2 -0.1 2 0.4 2 -0.3 2 -0.7 2 -0.2 2 0 2 -0.6 2 -0.1 2 0.9 2 1.8 2 1 2 0.1 2 -0.7 2 -1.2 2 -1.7 2 -2.7 2 -2.1 2 2.5 2 2.5 2 1.2 2 2.9 2 4.1 2 -0.2 2 -3.6 2 -3.5 2 -3 2 -2.4 2 -0.9 2 2.1 2 3.9 2 3.2 2 1 2 0 2 -1.3 2 -2.3 2 -2.2 2 -1.1 2 0.3 2 1.1 2 1.4 2 1.6 2 1 2 0 2 -0.6 2 -1.4 2 -1.6 2 -0.1 2 1.1 2 0.7 2 0.1 2 0 2 -0.2 2 -1.3 2 -1.3 2 0.4 2 0.8 2 0.1 2 0.9 2 1.7 2 1.3 2 -0.1 2 -1 2 0 2 -0.9 2 -2 2 -1.1 2 -1.5 2 -0.6 2 1.6 2 2.6 2 2 2 1.5 2 1.1 2 -1.6 2 -2 2 -2.1 2 -2.4 2 -1.7 2 2.4 2 3.5 2 2.5 2 1.9 2 -0.4 2 -2.6 2 -3.4 2 -2.8 2 -2.6 2 1.7 2 4 2 4.2 2 2 2 -0.2 2 -2 2 -3.3 2 -2.7 2 -1.2 2 0.6 2 1.8 2 2.4 2 2.7 2 2.3 2 -1.5 2 -2.8 2 -2.9 2 -2.6 2 0 2 2.8 2 2.8 2 2.6 2 -0.5 2 -3 2 -3.8 2 -2.8 2 1.9 2 2.9 2 2.6 2 2.5 2 2.5 2 -1 2 -2.8 2 -2 2 -2 2 -2.5 2 -0.5 2 2.6 2 1.7 2 1.3 2 1.5 2 -0.7 2 -2.1 2 -1.7 2 -1 2 0.2 2 0.7 2 2.2 2 3.2 2 2.4 2 -0.3 2 -2.3 2 -2.9 2 -3.2 2 -3.1 2 0.2 2 3.3 2 2.9 2 2.4 2 2.4 2 -1 2 -2.7 2 -2.5 2 -1.8 2 -1.8 2 1.2 2 2 2 2.1 2 1.6 2 0.8 2 0 2 -0.7 2 -0.9 2 -1.7 2 -1.6 2 -1 2 -0.2 2 1.4 2 1.7 2 1.1 2 0.8 2 0.5 2 -0.8 2 -1.1 2 -1.6 2 -0.9 2 0.3 2 0.9 2 0.2 2 0.5 2 1.2 2 0.5 2 -1 2 -0.8 2 0.3 2 -1.4 2 -5.3 2 1.4 2 6 2 6.1 2 0 2 -6.1 2 -5.9 2 -1.9 2 3.9 2 0.7 2 0.9 2 2.2 2 1.8 2 0.7 2 -0.5 2 -1 2 -1.6 2 -2 2 -1.7 2 0.1 2 1.9 2 2.3 2 1.4 2 0.5 2 -0.8 2 -1.3 2 -1.9 2 -1 2 1.7 2 1.5 2 1.2 2 0.5 2 -0.6 2 -2.2 2 -3.4 2 -2.2 2 2.1 2 2.2 2 2.7 2 3.3 2 2 2 -2.1 2 -2.4 2 -2.5 2 -2.8 2 -2.4 2 1.1 2 2.9 2 2.7 2 1.2 2 0.7 2 1.1 2 -0.9 2 -2.9 2 -2 2 -0.3 2 -0.5 2 0.6 2 1.3 2 1.1 2 0.9 2 0.5 2 -0.4 2 -0.3 2 -0.1 2 -1 2 -0.7 2 -0.3 2 -0.7 2 0.4 2 0.7 2 0.4 2 0.7 2 0.6 2 0.3 2 0.3 2 -0.2 2 -0.3"/>
<path d="M280 673 l2 2.3 2 2.1 2 0.3 2 -1.8 2 -0.6 2 -0.2 2 -1.1 2 -1.2 2 0.1 2 0.3 2 0.1 2 0.5 2 1.2 2 1.1 2 0.7 2 0.1 2 -1 2 -0.9 2 -0.2 2 -0.5 2 -0.6 2 0.5 2 0.3 2 -0.8 2 -0.8 2 0.4 2 0.6 2 0.1 2 1.2 2 2.3 2 0.8 2 -1.8 2 -1.5 2 -1.1 2 -2.2 2 -1.2 2 2.2 2 2.7 2 1.8 2 2.4 2 -0.5 2 -2.7 2 -3.6 2 -3.7 2 -2.5 2 2.9 2 3.5 2 4.2 2 4.9 2 2.8 2 -4 2 -3.9 2 -4.3 2 -4.6 2 -2.8 2 3.9 2 3.9 2 3.1 2 3 2 0.7 2 -4.3 2 -4.1 2 -0.2 2 0.9 2 2.3 2 3.1 2 2.1 2 -1.1 2 -2.9 2 -3.4 2 -2.7 2 1 2 1.9 2 2.7 2 3 2 0.7 2 -1.7 2 -2.5 2 -2.6 2 -2 2 2 2 2.3 2 2.4 2 2.1 2 -0.3 2 -2.9 2 -3.1 2 -2.3 2 -1.3 2 2.8 2 3 2 3.2 2 2.6 2 -0.7 2 -2.9 2 -3.1 2 -2.8 2 -1.3 2 1.5 2 1.8 2 1.8 2 1 2 0 2 0.1 2 -0.3 2 -0.6 2 -1.1 2 -1.4 2 -0.2 2 1.3 2 1.7 2 1.5 2 1.7 2 -0.2 2 -1.6 2 -2.3 2 -2.5 2 -2.2 2 1.5 2 2.9 2 1.3 2 0.3 2 0 2 -0.8 2 -2.4 2 -0.8 2 2.1 2 3.5 2 2.9 2 0.6 2 -2.2 2 -3.9 2 -5 2 -4.2 2 0.6 2 3.9 2 4.7 2 4.8 2 3.2 2 0.5 2 -2.7 2 -4 2 -4.3 2 -3.1 2 -2 2 0.7 2 2.2 2 2.7 2 3.1 2 2.6 2 2 2 1.7 2 -1.8 2 -3.1 2 -2.9 2 -2.5 2 -2.5 2 -2.1 2 2 2 3.9 2 3.6 2 1.8 2 0.7 2 -2.2 2 -2.4 2 -1.7 2 -1.4 2 1 2 1.9 2 2.4 2 1.9 2 -0.6 2 -2 2 -2.5 2 -2.4 2 -2 2 0.6 2 2.3 2 2.4 2 2.9 2 3.4 2 0.3 2 -3 2 -3.1 2 -3.5 2 -3.2 2 -0.1 2 3.1 2 3.1 2 2.7 2 2.1 2 0.6 2 -2 2 -2.2 2 -2.5 2 -2.5 2 -1.3 2 2 2 2.9 2 3.1 2 2 2 -0.9 2 -2.3 2 -2.3 2 -2.3 2 -1.2 2 2 2 2.3 2 2.1 2 1.3 2 -1.6 2 -2.9 2 -2.6 2 0.1 2 2.5 2 2.3 2 2.4 2 2 2 -1.9 2 -2.1 2 -3 2 -3.3 2 -1 2 2.8 2 2.5 2 1.7 2 0.6 2 0.2 2 -0.4 2 -1.4 2 -1.8 2 -0.1 2 1.6 2 0.7 2 0.1 2 0.3 2 -0.4 2 -0.5 2 0.1 2 -0.4 2 -1.1 2 -0.5 2 0 2 0.4 2 1.1 2 0.8 2 0.7 2 1.4 2 0.4 2 -1.4 2 -2.9 2 -1.8 2 1.9 2 3.9 2 2.5 2 -2.8 2 -3.7 2 -3.9 2 0.2 2 4.1 2 4.1 2 2.9 2 -2.5 2 -4 2 -1.4 2 1.1 2 1.7 2 0.4 2 -0.8 2 -2.2 2 -1.5 2 1 2 1.5 2 0.6 2 0.8 2 1.6 2 0.7 2 -1.7 2 -2.1 2 -0.8 2 -1.2 2 -1.7 2 1.5 2 2.7 2 2 2 2.3 2 1.3 2 -2.3 2 -3.4 2 -2.7 2 -1.7 2 0.2 2 2.2 2 2.8 2 1.9 2 1.2 2 -0.2 2 -1.7 2 -2.8 2 -2 2 -1 2 0.9 2 1.4 2 1.9 2 2.4 2 2 2 -0.9 2 -1.9 2 -2.4 2 -2.5 2 -0.7 2 2.1 2 1 2 1.3 2 2.4 2 -0.1 2 -2.6 2 -2.6 2 -0.6 2 0.9 2 0.4 2 1.6 2 2.2 2 0.4 2 -1 2 -0.4 2 -0.2 2 -0.6 2 -0.8 2 -0.3 2 -0.1 2 -0.3 2 -0.7 2 -0.5 2 0.6 2 1.2 2 0.9 2 1.5 2 1.8 2 -1.1 2 -1.9 2 -1.4 2 -1.1 2 -0.5 2 1.4 2 1.4 2 0.5 2 -0.9 2 -0.6 2 -0.4 2 -0.6 2 0.2 2 1.3 2 2.2 2 1.8 2 -0.5 2 -1.6 2 -2.5 2 -3.3 2 -2.1 2 2.2 2 2.2 2 2.2 2 3.1 2 1.5 2 -2.8 2 -2.4 2 -1.5 2 -1.6 2 0.1 2 1.9 2 2.9 2 2 2 -2.6 2 -6.8 2 0.7 2 4.8 2 4.6 2 0.1 2 -4.6 2 -4.8 2 -0.9 2 6.3 2 2.4 2 -1.7 2 -1.7 2 -0.2 2 0.2 2 0.1 2 1.1 2 0.2 2 -1.2 2 -1.1 2 -0.3 2 0.5 2 0.5 2 0.1 2 0.6 2 0.6 2 0.1 2 0.5 2 0.2 2 -0.6 2 -1.2 2 -1 2 -0.7 2 0.5 2 1 2 1.3 2 1.2 2 0 2 -1.3 2 -1 2 -0.9 2 -0.8 2 0.3 2 0.5 2 1.5 2 2 2 0.4 2 -1.5 2 -0.7 2 -1.5 2 -2.2 2 -0.2 2 2.3 2 2 2 0.8 2 1 2 -0.4 2 -1.3 2 -1.1 2 -0.7 2 -0.5 2 -0.2 2 0.2 2 0.1 2 0 2 0.5 2 0.9 2 0.7 2 0.5 2 0.9 2 0.2 2 -0.9 2 -0.9 2 -1.2 2 -1.4 2 -0.6 2 0.3 2 0.7 2 0.8"/>
<path d="M280 689.7 l2 -1.1 2 -1.5 2 -2 2 -0.8 2 1.3 2 2.2 2 2.5 2 1.9 2 0.9 2 -1.8 2 -2.4 2 -2.5 2 -1.8 2 0.4 2 2 2 2.3 2 1.8 2 1.4 2 -0.7 2 -1.2 2 -2.7 2 -3.5 2 -2 2 1.6 2 1.9 2 2.4 2 3.7 2 3.5 2 -0.3 2 -3.6 2 -3 2 -2.3 2 -2.4 2 -1.8 2 2.3 2 2.9 2 2.4 2 1.8 2 1.2 2 -1.4 2 -2.2 2 -1.8 2 -0.4 2 0.4 2 0.4 2 1.1 2 1.5 2 -0.7 2 -1.7 2 -1.1 2 0.1 2 0.9 2 1.1 2 1.2 2 0.3 2 -0.7 2 -0.3 2 -1.2 2 -1.7 2 -0.5 2 0.3 2 -0.3 2 1.4 2 2.1 2 1.5 2 1.4 2 -0.4 2 -2.4 2 -2.2 2 -2.1 2 -1.4 2 2.4 2 2.1 2 2 2 1.8 2 -0.5 2 -2.4 2 -2.3 2 -1.8 2 -1.1 2 2.4 2 2.2 2 2.2 2 2 2 -0.5 2 -3.1 2 -2.3 2 -1.7 2 -1.1 2 2.3 2 1.9 2 2.1 2 1.4 2 -1 2 -2.4 2 -1.4 2 -0.7 2 -0.1 2 1.7 2 1.8 2 1.3 2 -0.8 2 -0.6 2 -0.4 2 -1.7 2 -0.9 2 0.4 2 0.1 2 -0.1 2 0.6 2 1.4 2 1.5 2 0.5 2 -1.4 2 -1.6 2 -1.1 2 -1.7 2 -0.6 2 1.6 2 2.6 2 2.3 2 2.6 2 1.2 2 -2.6 2 -4.8 2 -3.2 2 -1.4 2 -1 2 2 2 4.3 2 3.5 2 2.1 2 1 2 -2.4 2 -4.2 2 -3.8 2 -2.4 2 2.7 2 3.3 2 2.3 2 1.8 2 -0.6 2 -2.3 2 -2.6 2 -1.6 2 0.4 2 1.7 2 2.3 2 2.5 2 1.1 2 -2.3 2 -2.3 2 -1.4 2 -1.5 2 -0.5 2 1.4 2 1.9 2 2.3 2 0.6 2 -2.2 2 -1.6 2 -0.9 2 -0.4 2 1.1 2 1.6 2 2.2 2 2.4 2 -0.8 2 -2.7 2 -3 2 -1.8 2 -1.8 2 0.5 2 2.2 2 3.2 2 3 2 1.4 2 -2.3 2 -2.1 2 -2.4 2 -2.5 2 0.9 2 2.4 2 1.3 2 2.3 2 2.1 2 -2.1 2 -3.1 2 -2.2 2 -1.2 2 0.1 2 1.3 2 1.7 2 2.2 2 1.5 2 -0.1 2 -1.3 2 -1.4 2 -1.3 2 -0.2 2 0.8 2 0.4 2 0.1 2 1.9 2 2.9 2 -1.5 2 -4.3 2 -5.5 2 -3.9 2 4.1 2 5.5 2 6 2 5.1 2 -3.7 2 -5 2 -5.3 2 -5.2 2 2.6 2 4.6 2 4.2 2 1.5 2 -2.9 2 -1.9 2 1.8 2 3.9 2 1.2 2 -3.7 2 -4.2 2 -2.8 2 -3 2 1 2 3.4 2 5.1 2 4.5 2 2.9 2 -1.6 2 -3.2 2 -5.1 2 -5.4 2 -3.7 2 0.2 2 4.1 2 5 2 3.7 2 2.2 2 2.3 2 -1.8 2 -3 2 -3.3 2 -2.7 2 -2.2 2 -0.6 2 4 2 5.3 2 3 2 -2.9 2 -4.2 2 -4 2 -0.4 2 3.5 2 3.6 2 3.2 2 -1.9 2 -3.4 2 -1.2 2 1.7 2 1.5 2 -0.9 2 -2 2 -1.7 2 -0.5 2 1.2 2 0.7 2 1.7 2 2.4 2 1.3 2 -1.2 2 -1.1 2 -2.2 2 -3.2 2 -1.7 2 0.8 2 1.6 2 2 2 3.4 2 3 2 -0.2 2 -2.7 2 -2.3 2 -2.4 2 -3 2 -0.8 2 3.1 2 2.9 2 1.6 2 1.3 2 0.5 2 -1.6 2 -2.1 2 -1.9 2 -1.4 2 0.2 2 1.3 2 1.9 2 2.1 2 1.1 2 -0.8 2 -1 2 -1.1 2 -1 2 -0.3 2 -0.8 2 -2 2 0.8 2 1.9 2 1.4 2 1.2 2 0.8 2 0.5 2 -0.7 2 -1.4 2 -1.8 2 -0.7 2 0 2 0.6 2 0.6 2 0.6 2 -0.1 2 -0.2 2 0 2 0.3 2 0.7 2 0.7 2 0.1 2 -0.6 2 -1.1 2 -1.1 2 -0.9 2 -0.8 2 0.6 2 2 2 2.2 2 1.5 2 0.5 2 -1.5 2 -2 2 -2 2 -2 2 -1.3 2 1.8 2 2.9 2 2.3 2 1.3 2 0.6 2 -1.7 2 -2.1 2 -2 2 -1 2 0.7 2 1 2 1.1 2 1.6 2 0.3 2 -1.2 2 -0.7 2 -0.2 2 -0.5 2 -0.7 2 0.4 2 0.8 2 -0.4 2 0.1 2 1.4 2 0.6 2 0.2 2 -0.1 2 -0.6 2 -0.5 2 -0.8 2 -1.4 2 -1 2 1.2 2 1.6 2 0.4 2 -0.7 2 -0.3 2 -0.1 2 0.1 2 0.3 2 1.1 2 1.2 2 0.5 2 -0.7 2 -0.7 2 -1.2 2 -1.7 2 -1.4 2 0.4 2 1.9 2 0.6 2 0.2 2 1.2 2 0.6 2 -0.8 2 -0.6 2 -0.5 2 -0.6 2 -0.3 2 0.7 2 0.9 2 -0.2 2 -0.2 2 0.3 2 -0.2 2 -0.5 2 0.2 2 0.4 2 -1.1 2 -0.9 2 0.7 2 0.6 2 0.6 2 0.5 2 -0.1 2 -0.3 2 -0.1 2 -0.7 2 -0.2 2 0.8 2 0.6 2 0.1 2 -0.3 2 -0.1 2 -0.8 2 -1.4 2 -0.4 2 1 2 0.3 2 0.8 2 1.5 2 0.6 2 -0.5 2 -0.4 2 -0.7 2 -1.5 2 -1.1 2 0.4 2 1 2 0.1 2 0.4 2 1.2 2 1"/>
<path d="M280 701 l2 2.8 2 1.7 2 0.8 2 -1.6 2 -2.1 2 -1.5 2 -0.7 2 0.3 2 0.9 2 1.5 2 1.6 2 -0.9 2 -1.7 2 -1.2 2 -0.7 2 0.5 2 1.2 2 0.5 2 0.2 2 0.5 2 0.2 2 -0.8 2 -0.3 2 0.6 2 0.3 2 -0.2 2 0.1 2 -0.1 2 -1.1 2 -0.9 2 0.2 2 1 2 0.6 2 0.1 2 -0.6 2 -1.2 2 -1.2 2 1 2 1.4 2 1.4 2 1.8 2 0.9 2 -1.8 2 -1.2 2 -0.4 2 -1.8 2 -1.7 2 -0.1 2 -0.3 2 0.1 2 1.6 2 1.4 2 0.7 2 2.3 2 3 2 0.4 2 -2.6 2 -2.7 2 -2.9 2 -3.8 2 -2.6 2 3.4 2 3.9 2 3.2 2 3 2 1.5 2 -2.9 2 -4 2 -3.1 2 -1.9 2 1.6 2 3 2 3.1 2 1.9 2 0.2 2 -1.6 2 -2.3 2 -3 2 -2.5 2 0.4 2 2.8 2 1.8 2 0.8 2 0 2 -0.5 2 -0.5 2 -0.3 2 0.8 2 2 2 2.6 2 -0.4 2 -2.3 2 -3.9 2 -3.5 2 -2.4 2 2 2 3.5 2 3.2 2 3 2 3.1 2 -1.6 2 -3.8 2 -4 2 -3.7 2 -2.3 2 3.3 2 4.2 2 3.8 2 3.8 2 1.1 2 -3.6 2 -4.3 2 -3.8 2 -3 2 0.3 2 3.1 2 2.8 2 2.7 2 1.6 2 0 2 -1.3 2 -1 2 -1.8 2 -2.1 2 -1.2 2 0.8 2 1.4 2 1 2 1 2 1.1 2 0.8 2 -1.1 2 -1.4 2 0.1 2 -0.1 2 -1.4 2 0 2 1.8 2 0.6 2 -0.9 2 -0.5 2 -0.2 2 -1.1 2 -0.5 2 0.8 2 1.2 2 1.1 2 0.7 2 0.9 2 0.6 2 -1.1 2 -1.9 2 -1.4 2 -0.4 2 -0.7 2 -0.8 2 1.1 2 1.2 2 -0.3 2 0.7 2 2 2 2 2 1.9 2 -1.8 2 -2.9 2 -2.6 2 -2.8 2 -2 2 2.6 2 3.7 2 3.8 2 3.3 2 -1 2 -3.2 2 -3.8 2 -4.8 2 -3.3 2 4.1 2 5 2 4 2 2.3 2 0.5 2 -2.2 2 -3 2 -3.4 2 -2.1 2 -0.5 2 1.4 2 1.3 2 1.4 2 0.8 2 -0.1 2 0.4 2 1.6 2 1 2 -1.1 2 -1.3 2 -0.3 2 -0.4 2 -1.7 2 -1.5 2 0.7 2 1.8 2 3 2 3.4 2 -1.1 2 -4.6 2 -6.1 2 -4.4 2 4.1 2 5.4 2 6 2 5.3 2 -3.6 2 -5.3 2 -5.2 2 -5.1 2 2.3 2 4.6 2 4.2 2 1.8 2 -2.5 2 -1.3 2 0.9 2 1 2 1.1 2 -0.3 2 -1.3 2 -2 2 -2.1 2 -1.7 2 1 2 1.9 2 2.5 2 2.4 2 0.5 2 -2.2 2 -1.7 2 -2 2 -2.3 2 -0.2 2 2.1 2 2.2 2 2.1 2 1.3 2 -0.8 2 -1.1 2 -1.3 2 -2.2 2 -1.7 2 0.6 2 1.3 2 2.6 2 4.3 2 2.4 2 -4 2 -5.2 2 -4.7 2 -0.3 2 4.2 2 4.9 2 3.9 2 -1.9 2 -3.9 2 -2.5 2 0.4 2 1.4 2 1.1 2 1.6 2 0.9 2 -1 2 -1.6 2 -2.3 2 -2.9 2 -2.5 2 2 2 3 2 3.2 2 3.3 2 3.5 2 -1.8 2 -4.1 2 -4.4 2 -3.1 2 -2.1 2 2.6 2 3.1 2 3.1 2 2.5 2 0.9 2 -2.5 2 -2.4 2 -1.2 2 -0.7 2 0.5 2 1.3 2 1.4 2 0.4 2 -0.8 2 -1.6 2 -2.8 2 -0.9 2 2.3 2 2.4 2 2.7 2 2.7 2 -0.7 2 -2.8 2 -2.8 2 -2.5 2 -2.5 2 0.7 2 2.9 2 3.2 2 2.1 2 1.2 2 -1.6 2 -1.8 2 -2 2 -2 2 -0.6 2 2 2 1.9 2 1.3 2 1.3 2 -0.5 2 -1.3 2 -1.8 2 -1.5 2 -1.4 2 0.1 2 1.8 2 2.1 2 0.7 2 1.3 2 2 2 -1.4 2 -3 2 -1.7 2 -1 2 -1.2 2 0.9 2 2.6 2 2.6 2 1.3 2 0 2 -1.3 2 -1 2 -2.1 2 -2.9 2 -2.2 2 2.1 2 2.6 2 1.7 2 1.6 2 1.6 2 -0.3 2 -1.9 2 -1.6 2 -1 2 0.1 2 0.6 2 0.1 2 -0.4 2 1 2 0.5 2 -0.9 2 -1.3 2 -0.5 2 0.7 2 0.2 2 1.1 2 2.6 2 2 2 -1.5 2 -2.2 2 -1.9 2 -2 2 -2 2 1.5 2 1.9 2 2.4 2 2.1 2 0 2 -1.9 2 -2 2 -1.2 2 0.9 2 1 2 1.1 2 2.1 2 0.5 2 -1.4 2 -1.4 2 -2.4 2 -2.6 2 -1.7 2 1.2 2 1.9 2 4.1 2 4.3 2 3 2 -1.4 2 -3.5 2 -4.8 2 -5 2 -3.3 2 3.6 2 4.6 2 3.5 2 2.3 2 0.3 2 -2.6 2 -3.2 2 -2.5 2 0.4 2 2.4 2 3.4 2 3.3 2 -1.4 2 -3.2 2 -3.7 2 -4.2 2 -1.8 2 3.6 2 3.6 2 3.4 2 3.6 2 2.4 2 -3 2 -3.1 2 -2.9 2 -3.1 2 -1.8 2 1.4 2 2.1 2 1.3 2 1.5 2 0.9 2 0 2 0.5 2 -0.2 2 -1.3 2 -0.8 2 0.4 2 0.4 2 -0.4 2 -0.7 2 -0.4 2 -0.7 2 -1 2 0.3"/>
<path d="M280 712.8 l2 1.4 2 1.2 2 2.1 2 1.4 2 -0.7 2 -1.7 2 -0.4 2 0.5 2 0.4 2 0.3 2 0 2 -0.4 2 -0.7 2 -1.2 2 -1.8 2 0 2 2 2 1.4 2 0.8 2 0.7 2 -0.8 2 -0.8 2 -0.8 2 -0.6 2 0.8 2 1.8 2 0 2 -1.5 2 -1.1 2 -1.1 2 -1.3 2 1.2 2 2.3 2 1.6 2 1.3 2 -0.1 2 -1.8 2 -1.9 2 -1.6 2 0.9 2 2.3 2 2.7 2 0.4 2 -2.2 2 -2.8 2 -2.7 2 -2.3 2 0.6 2 2.2 2 3.9 2 3.1 2 1 2 0.6 2 -0.9 2 -2.4 2 -2.6 2 -1 2 -1.1 2 -2.6 2 0.9 2 3.1 2 1.6 2 1.1 2 2.7 2 1.4 2 -2.8 2 -2.7 2 -2.1 2 -2.1 2 -0.1 2 2 2 2.4 2 2.5 2 1.3 2 -1.4 2 -1.7 2 -1.5 2 -1.1 2 -0.3 2 1 2 1.2 2 1.4 2 0.9 2 -0.4 2 -0.6 2 -1.4 2 -2 2 -1.8 2 -0.9 2 1.3 2 2.1 2 2.5 2 2.9 2 3.2 2 -0.1 2 -3 2 -3.9 2 -4.2 2 -3.2 2 -1.2 2 2.5 2 3.1 2 4.3 2 3.6 2 2 2 -1.5 2 -2.8 2 -3 2 -2.4 2 -1.4 2 0 2 1.7 2 1.8 2 1.4 2 1.2 2 0.2 2 -1.3 2 -0.7 2 -0.4 2 -0.8 2 -1 2 -0.9 2 0.9 2 1.4 2 0.5 2 1.2 2 1.7 2 0.4 2 -1.4 2 -1.4 2 -1 2 -0.7 2 -1.2 2 -0.5 2 1.2 2 1.1 2 0.5 2 0.2 2 0.5 2 0.5 2 -0.2 2 -0.1 2 0.2 2 -0.1 2 -0.6 2 -0.5 2 -1.1 2 -1.1 2 0.8 2 1.4 2 0.1 2 0.1 2 1.2 2 0.7 2 -1.1 2 -1 2 -0.7 2 -0.8 2 0.5 2 1.1 2 0.3 2 0.7 2 0.6 2 -1.2 2 -1.2 2 0.3 2 0.2 2 -0.6 2 0 2 0.9 2 0.7 2 0.5 2 -0.4 2 -1.3 2 0 2 0.6 2 -0.5 2 -0.3 2 1.1 2 0.8 2 -0.1 2 -0.3 2 0.1 2 -1.5 2 -1.7 2 0.1 2 0.6 2 0.3 2 1 2 1.5 2 1.9 2 1.2 2 -1.5 2 -2.2 2 -2.1 2 -1.5 2 -0.9 2 0.5 2 1.1 2 2.6 2 2.1 2 0.8 2 0.7 2 0.5 2 0.9 2 -2.3 2 -4.4 2 -5.8 2 -4.4 2 5 2 6.5 2 6.1 2 4.6 2 -3.8 2 -5.4 2 -6.2 2 -4.9 2 3.2 2 5.4 2 5.4 2 3 2 -3.3 2 -3.2 2 -1.1 2 -1.2 2 -1.3 2 -0.6 2 0.7 2 1.3 2 2.5 2 2.4 2 2.4 2 -0.7 2 -2.9 2 -3.5 2 -3 2 -2.7 2 1.6 2 3.1 2 2.7 2 3.1 2 3.3 2 -1.4 2 -3.5 2 -2.6 2 -2.3 2 -2.2 2 1.2 2 2.2 2 2.1 2 2 2 1.1 2 -1.7 2 -1.8 2 -1 2 -1 2 -0.4 2 1.2 2 2.5 2 2 2 0.6 2 -1.4 2 -1.4 2 -2.4 2 -3.2 2 -2.6 2 2.3 2 3.4 2 2.9 2 3 2 4.2 2 -1.1 2 -4.5 2 -4.2 2 -3.5 2 -3.4 2 -0.4 2 3.3 2 4.5 2 5.2 2 3.8 2 -0.6 2 -5.5 2 -3.9 2 -0.7 2 2.1 2 3.4 2 -1.4 2 -2.1 2 -1.7 2 -1.2 2 3.2 2 2.2 2 2 2 0.9 2 -5.2 2 -4.6 2 -0.7 2 3.2 2 5.1 2 2.5 2 -0.4 2 -2.6 2 -3.1 2 -2 2 0.3 2 1.8 2 1.2 2 2 2 0.5 2 -2.1 2 -3.5 2 -2.6 2 1.1 2 2.5 2 3.1 2 4 2 1.3 2 -3.6 2 -3.9 2 -3.7 2 -3.9 2 1.2 2 4.2 2 4.6 2 3.9 2 3.1 2 -2.3 2 -3.5 2 -4 2 -3.7 2 -1.9 2 1.4 2 2.2 2 2.8 2 2.8 2 0.9 2 -0.8 2 -1.3 2 -0.7 2 -1.4 2 -0.1 2 1.5 2 0.9 2 -0.5 2 -0.9 2 -2.4 2 -2.4 2 1.2 2 2.9 2 1.5 2 1 2 2.9 2 -0.9 2 -3.5 2 -2.8 2 -1 2 0.5 2 1.7 2 1.9 2 1.7 2 0.6 2 -1.3 2 -1.4 2 -1.8 2 -2.3 2 -0.1 2 2.2 2 1.5 2 1.4 2 1.8 2 1.4 2 -1.4 2 -2.3 2 -1.6 2 -1.3 2 -1.8 2 0.6 2 1.9 2 1.8 2 1.8 2 0.6 2 -1.7 2 -0.9 2 -1.2 2 -1 2 1.2 2 1.2 2 0.9 2 0.6 2 -0.6 2 -0.9 2 -1.7 2 -2.9 2 1 2 3.6 2 4.1 2 1.8 2 -3.6 2 -4.4 2 -4 2 0 2 3.9 2 4.3 2 4 2 -0.9 2 -4 2 -3.4 2 -1.6 2 0.1 2 -1 2 1.7 2 2.6 2 1.7 2 1.3 2 1.1 2 -1.6 2 -2.8 2 -1.4 2 -0.7 2 -0.6 2 1 2 1.9 2 1.6 2 1.2 2 -0.8 2 -1.6 2 -1.4 2 -1.2 2 0.8 2 1.6 2 1.8 2 0.9 2 -0.9 2 -0.9 2 -1.1 2 -2 2 -1.7 2 0.6 2 1.7 2 1.7 2 1.3 2 0.8 2 0 2 -1 2 -1.3 2 -0.6 2 0.5 2 0.5 2 -0.1 2 0 2 -0.1"/>
<path d="M280 729.5 l2 2 2 1.4 2 -0.6 2 -1.6 2 -1.4 2 -1.7 2 -0.7 2 1.2 2 1.5 2 2.2 2 2.3 2 0.5 2 -1.7 2 -2.7 2 -3.4 2 -2.2 2 0.2 2 2 2 1.6 2 2.2 2 2.5 2 2.5 2 -1 2 -3.2 2 -2.8 2 -0.6 2 -0.5 2 0.4 2 1.2 2 1.5 2 0.7 2 -0.6 2 -1 2 -0.2 2 -0.4 2 -0.3 2 0.9 2 1.3 2 0 2 -0.6 2 -0.3 2 0.2 2 -0.4 2 -0.8 2 -0.2 2 0.5 2 0.2 2 0 2 0.4 2 0.5 2 0.1 2 0.2 2 0.6 2 0 2 -1.4 2 -1.4 2 -0.4 2 -0.6 2 -0.1 2 1.3 2 2.1 2 1 2 0.5 2 0.3 2 -1.1 2 -1.6 2 -1 2 -0.4 2 -1 2 0 2 1.4 2 1 2 -0.2 2 0.2 2 1.1 2 0.9 2 -0.5 2 -0.7 2 -0.4 2 -1 2 -0.8 2 -0.1 2 -0.5 2 0.2 2 1.4 2 1.7 2 0.6 2 0.2 2 -0.4 2 -1.1 2 -1.6 2 -1 2 -0.8 2 0.3 2 0.8 2 1.8 2 2.1 2 0.6 2 -0.1 2 -0.4 2 -1.1 2 -2.4 2 -1.9 2 -1.3 2 0.9 2 1.7 2 2.7 2 2.1 2 1.2 2 -1.6 2 -2.4 2 -2.2 2 -1.2 2 0.9 2 1.7 2 2.3 2 1.6 2 -1.6 2 -1.6 2 -1.1 2 -1.7 2 -0.2 2 1.6 2 2.4 2 1.8 2 0.1 2 -1.6 2 -2 2 -2.2 2 -1.7 2 1.5 2 2 2 2.1 2 1.7 2 0.7 2 -1.4 2 -1.5 2 -1.3 2 -0.1 2 0.7 2 -0.1 2 -1.1 2 -0.5 2 0.3 2 0.4 2 0.5 2 0.9 2 0.9 2 0.4 2 -0.6 2 -0.2 2 -0.3 2 -1.4 2 -0.9 2 1.1 2 0.5 2 -0.3 2 1.7 2 1.5 2 -1.7 2 -1.6 2 -0.3 2 -1.9 2 -1.5 2 1.9 2 2 2 1.1 2 1.7 2 2.4 2 -0.1 2 -2.4 2 -2.5 2 -2 2 -1.8 2 -0.2 2 1.9 2 1.6 2 1.6 2 1.1 2 -0.4 2 -0.9 2 -1 2 -1.6 2 -0.3 2 1.6 2 2.4 2 1.5 2 1.1 2 -1 2 -2.8 2 -4.5 2 -4.5 2 0.5 2 4.3 2 5.6 2 5.1 2 1.3 2 -3.5 2 -4.6 2 -5.2 2 -4.5 2 3 2 4.6 2 5.2 2 4.4 2 -0.4 2 -4 2 -5.1 2 -4.3 2 -1.7 2 2.7 2 3.7 2 3.5 2 1.4 2 -0.8 2 -0.3 2 -0.4 2 -2.3 2 -3.5 2 -1.7 2 1.7 2 1.4 2 2.7 2 4 2 2.1 2 -2.1 2 -2.2 2 -2.4 2 -3.5 2 -1.8 2 2.2 2 2.1 2 0.8 2 0.7 2 1.4 2 0.9 2 -1.4 2 -1.2 2 0.1 2 0.3 2 -0.1 2 -0.5 2 -0.9 2 -1.5 2 -0.2 2 1.6 2 1 2 1.2 2 2.6 2 0.6 2 -2.6 2 -1.6 2 -2.1 2 -0.8 2 3.2 2 5.4 2 -0.8 2 -4.1 2 -4.3 2 -3.4 2 3.2 2 4.1 2 4.2 2 1.4 2 -4.4 2 -3.3 2 0.5 2 1.9 2 0.5 2 0.7 2 -0.3 2 -1 2 -0.8 2 -1.1 2 -1.1 2 0 2 1 2 0.8 2 1.1 2 1 2 1.2 2 -0.1 2 -0.4 2 -1 2 -2.1 2 -4 2 -3.3 2 3.5 2 4.7 2 4.6 2 3.7 2 -2.8 2 -4.5 2 -4.8 2 -3.6 2 2.7 2 3.2 2 2.7 2 0.7 2 -1 2 -1 2 -1 2 -1.2 2 0.3 2 0.5 2 1.9 2 3.5 2 2.7 2 -2.2 2 -2.7 2 -3.2 2 -3.5 2 -2.4 2 2.7 2 3.2 2 3.7 2 2.8 2 -0.2 2 -2.7 2 -2.3 2 -2 2 -1.6 2 -0.2 2 1.1 2 3.2 2 2.9 2 0.9 2 -0.6 2 -1.2 2 -2.1 2 -2.5 2 -1.1 2 0.1 2 1 2 1.7 2 2 2 0.4 2 -0.7 2 -0.4 2 -0.4 2 -0.4 2 0 2 0 2 0 2 -0.3 2 -1.2 2 -1 2 0.9 2 1.7 2 1.5 2 1.8 2 0.6 2 -1.9 2 -2 2 -1.8 2 -2 2 -0.4 2 2.1 2 2.2 2 2 2 1.4 2 -0.9 2 -1.7 2 -1.8 2 -1.8 2 -1.9 2 1.2 2 2.2 2 2.2 2 2 2 1.4 2 -0.3 2 -1.2 2 -1.3 2 -2.3 2 -2 2 -1.6 2 -1.7 2 1.7 2 2.8 2 2.1 2 1.2 2 1 2 1.2 2 -0.4 2 -1.4 2 -1.7 2 -2.1 2 -1.9 2 -0.7 2 1.8 2 1.8 2 1.4 2 -1.4 2 -0.2 2 2 2 2.8 2 0.9 2 -3.7 2 -3.4 2 -2.9 2 0.4 2 4.6 2 5.2 2 0.8 2 -4.4 2 -4.1 2 0.1 2 3.7 2 -0.3 2 -0.3 2 1.2 2 0.9 2 0.6 2 -1.1 2 -1.5 2 -1.5 2 -2.4 2 -2.8 2 1.2 2 3.1 2 3.1 2 2.9 2 3.1 2 -1.3 2 -3.3 2 -4 2 -4.5 2 -3.8 2 2.3 2 4.2 2 4 2 4.3 2 3.5 2 -2.6 2 -4.2 2 -3.8 2 -3.1 2 -2.3 2 2.5 2 3.4 2 4.1 2 3.2 2 0 2 -2.6 2 -2.1 2 -2.9 2 -2.9 2 -1.4 2 0.2 2 1.7 2 1.5"/>
<path d="M280 744.5 l2 -0.3 2 0 2 0.1 2 0 2 -0.1 2 0.4 2 0.3 2 -1 2 -1.6 2 -0.9 2 -0.5 2 0.3 2 0.5 2 1.9 2 2.6 2 1.4 2 0.3 2 -1.1 2 -1.9 2 -2.2 2 -0.9 2 -1 2 -0.4 2 1.5 2 1.5 2 0.3 2 0.9 2 1 2 -0.9 2 -0.7 2 0.5 2 0.4 2 -0.2 2 -0.4 2 -0.5 2 -1 2 -1.2 2 -0.3 2 1 2 1.2 2 1 2 0.7 2 0.8 2 0.5 2 -0.4 2 -2.4 2 -3 2 -1.7 2 1.3 2 2.1 2 2.2 2 1.9 2 1.5 2 -0.9 2 -2.1 2 -1.8 2 -1.2 2 -1 2 1 2 1.2 2 0.8 2 0.9 2 0.2 2 -1.1 2 -1.5 2 -0.6 2 0.6 2 0.7 2 0.7 2 0.5 2 0.9 2 0.6 2 -0.9 2 -0.9 2 -0.7 2 -0.4 2 -0.8 2 -0.3 2 1 2 1.4 2 0.8 2 0.8 2 -0.2 2 -0.9 2 -0.9 2 -1.7 2 -2.2 2 -0.7 2 1.3 2 2.3 2 2.6 2 1.5 2 1.4 2 -0.1 2 -1.8 2 -2.9 2 -2.2 2 -1.4 2 -0.1 2 1.9 2 1.1 2 1 2 1.4 2 0.6 2 -0.4 2 -0.7 2 -0.2 2 -0.7 2 -1.1 2 -0.4 2 0.3 2 0.6 2 0 2 -0.1 2 0.3 2 0.2 2 0.1 2 0.2 2 0.6 2 0.9 2 -0.7 2 -1.5 2 -0.2 2 0.6 2 -0.7 2 -0.4 2 0.9 2 0.8 2 -0.2 2 -0.7 2 -0.3 2 0.5 2 1 2 0.4 2 -0.7 2 -0.5 2 -0.3 2 -0.6 2 -0.6 2 0 2 0.7 2 2.1 2 1.4 2 -1.1 2 -1.2 2 -0.7 2 -1.8 2 -2 2 1.4 2 2.1 2 2.3 2 2.3 2 0.7 2 -1.8 2 -2.4 2 -3.4 2 -3.1 2 0.4 2 2.7 2 2.6 2 3.2 2 3.2 2 0.5 2 -3 2 -2.5 2 -2.2 2 -3.5 2 -3.3 2 1 2 2.8 2 2.9 2 3.9 2 3.6 2 2 2 -2.8 2 -2.6 2 -2.6 2 -3.7 2 -2.4 2 0.2 2 2.4 2 2.4 2 1.7 2 0.6 2 -0.4 2 -2.1 2 -3.3 2 0 2 3 2 4.5 2 4.4 2 1.3 2 -3.9 2 -5.5 2 -5.5 2 -4.6 2 2.6 2 5.4 2 5.7 2 5.2 2 1.6 2 -4.6 2 -5.5 2 -5 2 -4.1 2 1.9 2 4.3 2 4.3 2 4.1 2 1.4 2 -3.5 2 -2.5 2 -0.5 2 0.2 2 0.3 2 -0.8 2 -1.8 2 -2.2 2 -1.3 2 1.6 2 2.4 2 2.9 2 2.7 2 2.1 2 -1.3 2 -2.5 2 -2.9 2 -3.4 2 -2.7 2 1 2 2.9 2 2.5 2 2.7 2 2.1 2 0.3 2 -1.8 2 -2.3 2 -2.6 2 -2.2 2 -1.3 2 2.1 2 1.5 2 1.4 2 2.2 2 2.2 2 -0.5 2 -2.1 2 -1.2 2 -1.4 2 -1.9 2 -0.2 2 1.5 2 -0.4 2 1.3 2 4.2 2 4 2 -2.1 2 -5 2 -5.2 2 -3.8 2 4 2 4.8 2 5.1 2 2.2 2 -4.1 2 -4.1 2 -0.7 2 0.9 2 -1.1 2 -0.1 2 1.5 2 0.8 2 -0.1 2 0.1 2 0 2 -0.5 2 -1 2 -0.7 2 0.6 2 1 2 0.5 2 0.3 2 1.6 2 0.3 2 -2.4 2 -4.4 2 -3.6 2 3.4 2 4.3 2 4 2 3.3 2 -2.9 2 -3.9 2 -4 2 -3.4 2 2.7 2 3.5 2 2 2 -0.5 2 -1.5 2 0.4 2 0.4 2 0.2 2 0.3 2 0.7 2 0 2 -0.5 2 -1.2 2 -1 2 -0.2 2 0.8 2 0.8 2 1 2 0.5 2 -0.8 2 -0.5 2 -0.5 2 -1.4 2 -0.5 2 1.4 2 1.3 2 0.2 2 0.2 2 -0.2 2 -0.5 2 -0.8 2 -0.5 2 0.9 2 1.1 2 0.4 2 0.1 2 -0.2 2 -1.1 2 -1.8 2 -1.3 2 -0.3 2 1 2 1.4 2 2 2 1.9 2 1.1 2 -0.8 2 -1 2 -1.9 2 -3 2 -1.7 2 0.5 2 1.5 2 1 2 1.7 2 1.9 2 0.8 2 -1.3 2 -1.5 2 -0.7 2 0.5 2 0 2 -0.6 2 0.6 2 0.5 2 -1.1 2 -1.3 2 -0.8 2 0.5 2 0.7 2 1.1 2 2.6 2 3.1 2 -0.9 2 -3.1 2 -2.6 2 -2.3 2 -2.3 2 1 2 2.2 2 3.3 2 3.6 2 2.2 2 -1.1 2 -2.5 2 -3.4 2 -3.8 2 -3.8 2 0.7 2 4.1 2 4.1 2 3.3 2 3.7 2 -0.1 2 -4.2 2 -4.4 2 -3 2 -2.2 2 -0.6 2 2.3 2 3.6 2 3.1 2 2.2 2 1.8 2 -1.7 2 -2 2 -2.8 2 -4.4 2 -3.8 2 5.7 2 6.7 2 0.6 2 -5 2 -3.8 2 5.5 2 1.5 2 -2.3 2 -1.4 2 -1.7 2 -1.5 2 1.5 2 1.7 2 1 2 1.6 2 1.8 2 -0.2 2 -1.5 2 -2 2 -2.1 2 -1.2 2 0.7 2 1 2 0.4 2 1.9 2 2.3 2 0.6 2 -1.1 2 -0.7 2 -1 2 -1 2 -1 2 -1.2 2 -0.9 2 -0.6 2 0.4 2 2.8 2 3.7 2 1.9 2 1.4 2 -1.2 2 -2.1 2 -3.5 2 -3.5 2 -2 2 0.3 2 2.8 2 2.6"/>
<path d="M280 755.3 l2 -4.9 2 -3 2 2.8 2 4.5 2 5 2 4.9 2 3.4 2 -2.4 2 -4.2 2 -4.2 2 -4.4 2 -3.8 2 -0.2 2 3.6 2 4.2 2 3.9 2 3.2 2 2.1 2 -3.1 2 -4.2 2 -3.9 2 -3 2 -0.6 2 2.8 2 4.2 2 4.3 2 2.3 2 -1.7 2 -2.6 2 -3.6 2 -3.7 2 -2.8 2 0.5 2 2.5 2 3.8 2 3.5 2 2.1 2 1.8 2 -1.3 2 -2.9 2 -2.6 2 -1.4 2 -1.3 2 -1.7 2 0.6 2 1.9 2 1 2 0.6 2 1.7 2 1.2 2 -0.6 2 -1.3 2 -1.4 2 -1.6 2 0.3 2 1.6 2 2.1 2 1.6 2 -0.6 2 -1.4 2 -1.9 2 -2.5 2 -1.3 2 1.9 2 2 2 1.4 2 0.5 2 0.3 2 0.1 2 -0.6 2 -1.2 2 -0.8 2 0.3 2 0.5 2 0 2 -0.2 2 -0.3 2 -0.8 2 -0.4 2 0.5 2 0.9 2 0.8 2 0.4 2 0 2 -0.8 2 -0.2 2 0.8 2 0.8 2 0.6 2 0 2 -1.5 2 -2.5 2 -2.3 2 -1 2 1.9 2 2.1 2 2.3 2 2.9 2 3.2 2 -2.2 2 -4.1 2 -3 2 -2.3 2 -2.6 2 1.8 2 3.2 2 3.6 2 2.7 2 1.7 2 -1.8 2 -2.4 2 -2.6 2 -2.3 2 -1.3 2 2.2 2 1.6 2 1.3 2 1.8 2 -0.4 2 -2.2 2 -1.5 2 -0.6 2 0.2 2 0.7 2 0.8 2 1.2 2 0.9 2 0.3 2 0.3 2 -0.4 2 -0.8 2 -0.9 2 -0.6 2 -0.3 2 -0.6 2 -1.9 2 -0.5 2 1.9 2 1.6 2 1.4 2 2.3 2 1.5 2 -2.4 2 -2.2 2 -1.6 2 -2.2 2 -1.4 2 1.9 2 2.9 2 2.6 2 2.2 2 0.7 2 -1.9 2 -3.2 2 -3.9 2 -3.2 2 0.6 2 3.3 2 3.2 2 2.8 2 2.3 2 -0.7 2 -2.3 2 -2.8 2 -3.2 2 -2.3 2 2.6 2 3.1 2 2.1 2 1.1 2 0.1 2 -1.2 2 -1.8 2 -2.1 2 -0.8 2 1.8 2 1.6 2 0.8 2 -0.7 2 -1.2 2 -1.3 2 -1.1 2 0.9 2 1.7 2 1.4 2 -0.1 2 -2.5 2 -0.9 2 1.5 2 3.2 2 2.8 2 0.1 2 -2.6 2 -2.8 2 -3.4 2 -3.7 2 2.1 2 3.1 2 3.5 2 3.7 2 0.4 2 -2.4 2 -2.3 2 -1.6 2 -1.3 2 1.8 2 -0.1 2 -1.6 2 -0.9 2 1 2 1.1 2 1.8 2 1.1 2 -1.5 2 -1.2 2 0.1 2 -0.8 2 -1.3 2 0.5 2 2.3 2 1.3 2 -0.1 2 0.6 2 0.7 2 -0.7 2 -2.2 2 -1.2 2 0.4 2 -0.3 2 -0.3 2 0.9 2 0.9 2 -0.6 2 -1.1 2 -0.2 2 0.4 2 1 2 1.9 2 2.1 2 0.7 2 -1.5 2 -1.2 2 -2.4 2 -3.4 2 -2.7 2 1.5 2 2.6 2 2.5 2 3.6 2 3.3 2 -0.4 2 -3.2 2 -1.8 2 -2.1 2 -4.2 2 -4.1 2 2.5 2 5.7 2 5.9 2 4.5 2 -3.5 2 -5.5 2 -5.6 2 -2.5 2 3.7 2 3 2 1.1 2 -0.4 2 0.7 2 1.6 2 0.4 2 -1.8 2 -1.6 2 -0.5 2 -0.6 2 0.7 2 1 2 0.5 2 1 2 1.4 2 -0.5 2 -1.8 2 -2.1 2 -0.4 2 1.6 2 0.6 2 -0.2 2 1.3 2 0.4 2 -1.5 2 -1.7 2 -0.8 2 0.6 2 1.1 2 1.5 2 1.4 2 1 2 -0.9 2 -1.2 2 -1.3 2 -1.4 2 -0.7 2 1 2 0.8 2 0 2 0 2 0.1 2 0.4 2 0.5 2 0.4 2 1.6 2 0.3 2 -1.7 2 -1.2 2 -1 2 -1.9 2 -0.3 2 1.9 2 2 2 1.2 2 0.7 2 -0.7 2 -1.1 2 -0.9 2 -1.1 2 -0.8 2 0.6 2 0.6 2 1.2 2 1.4 2 0.4 2 -0.9 2 -0.5 2 -0.9 2 -1.2 2 0.3 2 1.4 2 0.5 2 -0.2 2 -0.1 2 -0.2 2 -1.1 2 -0.8 2 0 2 0.3 2 1.1 2 1.8 2 0.7 2 -0.4 2 -0.7 2 -0.8 2 -1.2 2 -1.3 2 -0.7 2 1 2 2.2 2 2.3 2 2 2 -1.2 2 -2.3 2 -2.9 2 -2.3 2 -1.3 2 1.6 2 2.4 2 3 2 2.2 2 1.2 2 -1.7 2 -1.6 2 -2.2 2 -2.3 2 -0.9 2 0.8 2 1.3 2 1.7 2 1.3 2 0.3 2 -0.4 2 -0.7 2 -0.7 2 -0.9 2 0.2 2 1.1 2 1.3 2 0.7 2 -1.2 2 -1.2 2 -0.8 2 -2.7 2 -3 2 1.9 2 3.3 2 2.9 2 2.8 2 2.6 2 0 2 -2.4 2 -3.8 2 -3.3 2 -2.3 2 -2.2 2 0.8 2 -1 2 6.5 2 7.1 2 0.7 2 -5.8 2 -5.8 2 2.7 2 0.3 2 -1.4 2 -0.2 2 1.6 2 1.7 2 0.9 2 0.4 2 0.4 2 0 2 -0.5 2 -1.4 2 -1.3 2 -1.2 2 -0.5 2 1.6 2 1.6 2 1.1 2 0.5 2 -0.7 2 -0.4 2 -0.1 2 -1 2 -0.5 2 1.3 2 1.4 2 -0.5 2 -0.7 2 0 2 -0.9 2 -2.8 2 -2.2 2 1.9 2 2.4 2 2.2 2 3 2 1.8 2 -2.5 2 -2.6 2 -1.9 2 -1.6 2 0 2 1"/>
<path d="M280 772.2 l2 0.2 2 -0.4 2 0.2 2 0.3 2 -0.5 2 -0.6 2 -0.1 2 -0.4 2 -1.1 2 -0.9 2 0.6 2 0.7 2 0.9 2 1.5 2 0.5 2 -0.5 2 0.1 2 -0.1 2 -0.4 2 -0.5 2 -0.5 2 -0.6 2 -1.1 2 0.4 2 1.6 2 0 2 -0.1 2 0.9 2 -0.4 2 -1.5 2 -0.7 2 0 2 0.6 2 1.2 2 0.9 2 0.6 2 1.5 2 0.2 2 -1.5 2 -2.3 2 -0.9 2 -0.5 2 -1.4 2 0.2 2 1.5 2 0.4 2 0.9 2 2.4 2 1.6 2 -0.1 2 -1.1 2 -1.9 2 -2.6 2 -2 2 -1.1 2 1.6 2 3 2 3.3 2 3.2 2 0.7 2 -2.9 2 -3.4 2 -3.8 2 -3.8 2 -1.4 2 3.2 2 4.4 2 3.6 2 2.8 2 3.4 2 -1.2 2 -3.9 2 -4.4 2 -4.5 2 -4.1 2 0.9 2 4 2 4.7 2 4.7 2 3.9 2 -1.2 2 -4.3 2 -4.7 2 -4.3 2 -3.5 2 3.1 2 4.6 2 3.8 2 2.7 2 1.3 2 -2.4 2 -3.2 2 -3.3 2 -2 2 1 2 1.9 2 2 2 2 2 -0.2 2 -1.5 2 -1.1 2 -1.6 2 -0.3 2 1.3 2 0.7 2 0.6 2 0.7 2 1 2 0.1 2 -1.4 2 -0.4 2 0.6 2 -0.3 2 -1.5 2 -1.4 2 -0.8 2 0.2 2 0.9 2 2.5 2 1.5 2 0.5 2 0.9 2 -0.7 2 -1.9 2 -1.8 2 -1.3 2 -1.1 2 0.2 2 1.7 2 2.1 2 1 2 0.3 2 -0.5 2 -0.8 2 -0.2 2 -0.2 2 -0.1 2 0.3 2 -0.2 2 -0.3 2 0 2 -0.7 2 -1.7 2 -0.9 2 1.2 2 1.9 2 1 2 1.2 2 2.3 2 -0.7 2 -2.7 2 -1.1 2 0 2 -1.2 2 -0.9 2 0.9 2 0.6 2 0.4 2 0.6 2 0.1 2 -0.3 2 0 2 0.6 2 0.3 2 0.1 2 0.2 2 -0.3 2 -1 2 -0.5 2 -0.1 2 0.2 2 0.5 2 -0.7 2 -0.4 2 0.6 2 0.1 2 -0.4 2 0.4 2 1.3 2 1.9 2 0.1 2 -1.5 2 -0.6 2 -0.9 2 -1.3 2 -0.9 2 -0.7 2 0.1 2 1.3 2 2 2 3.1 2 2.7 2 -2.1 2 -3.3 2 -3.4 2 -3.3 2 1 2 3 2 3.9 2 3.4 2 0.1 2 -3 2 -3.2 2 -3.6 2 -2.8 2 3.2 2 3.6 2 3.7 2 3.1 2 -1 2 -3.6 2 -3.9 2 -3.4 2 -1.1 2 3.2 2 3.7 2 3.8 2 2.3 2 -2.8 2 -3.1 2 -2 2 -1.1 2 0 2 0.8 2 1.3 2 0.7 2 0.3 2 0.6 2 -0.2 2 -0.9 2 0.3 2 0.2 2 -0.6 2 -0.1 2 -0.2 2 -0.6 2 0.3 2 0.5 2 -0.1 2 0.5 2 0.8 2 -0.7 2 -0.8 2 0.5 2 0.3 2 -0.8 2 0 2 0.4 2 -0.1 2 0.8 2 0.4 2 -0.2 2 3.5 2 2.3 2 -4.9 2 -6.6 2 -3.4 2 2.2 2 6.1 2 6.2 2 2.5 2 -4.6 2 -7.5 2 -3.8 2 3.7 2 2.7 2 -0.1 2 -0.4 2 0.9 2 1 2 1.4 2 1 2 -1.5 2 -1.2 2 -0.5 2 -0.7 2 -0.3 2 0.8 2 0.7 2 0.4 2 -0.4 2 -0.6 2 -0.4 2 -0.8 2 -0.3 2 0.7 2 0.6 2 0.5 2 1.4 2 1.5 2 0.1 2 -1.3 2 -1.5 2 -1.4 2 -1.2 2 -1.4 2 0.4 2 1.8 2 2.7 2 1.6 2 0.4 2 -0.6 2 -0.6 2 -2 2 -2.2 2 -0.6 2 0.9 2 1 2 0.9 2 0.7 2 0.1 2 -0.2 2 -0.5 2 0.2 2 1.4 2 0.4 2 -1.4 2 -1.1 2 -0.4 2 -0.6 2 -1.1 2 0 2 1.6 2 2.2 2 1.1 2 -0.1 2 -1 2 -1.1 2 -1.6 2 -0.5 2 1.4 2 1.5 2 1.2 2 -0.1 2 -1 2 -1.1 2 -1.6 2 -2.1 2 -0.1 2 2.1 2 2.2 2 1.4 2 1.6 2 -0.3 2 -2.2 2 -1.4 2 0.1 2 -0.2 2 -0.7 2 0.2 2 1 2 0.4 2 -0.4 2 -0.5 2 0.1 2 0.3 2 0.2 2 0.7 2 0.5 2 -1 2 -0.6 2 0.1 2 -0.6 2 -0.5 2 0.4 2 1.4 2 2 2 0.7 2 -1.5 2 -1.4 2 -1.6 2 -1.4 2 -0.7 2 0.8 2 0.9 2 2 2 2.2 2 1.5 2 -0.5 2 -1.6 2 -1.6 2 -1.7 2 -0.8 2 -0.2 2 0.2 2 0.9 2 2.1 2 0.8 2 0.3 2 0.6 2 -0.6 2 -2 2 -1.8 2 -0.8 2 0.8 2 1 2 0.5 2 1.1 2 1.6 2 0.3 2 -1.1 2 -1.3 2 -1.3 2 -0.9 2 0.3 2 0.6 2 1.3 2 1.5 2 0.4 2 -0.5 2 -0.4 2 -0.8 2 -1.1 2 -0.5 2 -0.4 2 0.2 2 0.9 2 0.8 2 0.2 2 -0.4 2 -1 2 0.1 2 0.8 2 1 2 1.5 2 0.7 2 -1.3 2 -1.4 2 -1.8 2 -2.3 2 -1 2 1.8 2 2.7 2 2.4 2 1.7 2 0.8 2 -1.2 2 -2 2 -3.5 2 -3.3 2 -1.4 2 2.7 2 3.2 2 2.4 2 2.5 2 2.1 2 -2.4 2 -3 2 -2.1 2 -1.4 2 -1.4 2 1.1"/>
<path d="M280 790 l2 -2.4 2 -2.2 2 -2.7 2 -2.2 2 1.3 2 2 2 1.4 2 2.7 2 2.8 2 -1.6 2 -2.7 2 -2.6 2 -2.1 2 -2.1 2 1.1 2 2.2 2 2.4 2 2.4 2 1.4 2 0.7 2 -0.5 2 -0.9 2 -2.9 2 -3.7 2 -2.3 2 0.5 2 2.4 2 2.5 2 3.4 2 2.7 2 -1.3 2 -2.9 2 -3.2 2 -3 2 -1.4 2 2.8 2 3.2 2 2.5 2 2.3 2 0.3 2 -2.2 2 -3.2 2 -3.3 2 -1.7 2 2.1 2 2.2 2 1.3 2 2.2 2 1.7 2 -2.1 2 -2.3 2 -1.3 2 -0.6 2 0.2 2 0.8 2 1.1 2 1.5 2 0.8 2 -1.1 2 -1.7 2 -1.1 2 -0.6 2 0.7 2 1.3 2 0.7 2 0.5 2 1.8 2 0.2 2 -1.8 2 -2.2 2 -1.1 2 -0.4 2 0 2 0.4 2 1.6 2 1.9 2 0.9 2 -0.3 2 -1.2 2 -0.8 2 0.3 2 0 2 -0.7 2 -0.7 2 -0.1 2 0 2 0.4 2 0.3 2 -0.1 2 0.6 2 1.2 2 0.8 2 0 2 -0.7 2 -1.1 2 -1.6 2 -0.9 2 0.6 2 0.8 2 0.6 2 1.6 2 0.8 2 -1.3 2 -1.4 2 -1.1 2 -0.4 2 0.5 2 1.2 2 2.5 2 1.5 2 -1.2 2 -1.4 2 -0.9 2 -1.6 2 -1.5 2 0.1 2 0.9 2 1.2 2 1.9 2 0.8 2 -0.5 2 0.5 2 0.1 2 -0.7 2 -0.8 2 -1 2 -1.7 2 -1.1 2 0.1 2 0.6 2 1.9 2 2.7 2 1.5 2 1.2 2 -0.7 2 -2.2 2 -3.4 2 -2 2 -0.6 2 0.5 2 1.1 2 2.6 2 1.8 2 0.5 2 0.3 2 -0.1 2 -0.2 2 -1.5 2 -1.8 2 -0.9 2 -0.4 2 0 2 0.6 2 1.1 2 1.4 2 0.7 2 0.3 2 -0.4 2 -0.8 2 -1.5 2 -0.9 2 0.3 2 1.1 2 0.3 2 0.6 2 1.7 2 0.4 2 -1.7 2 -1.7 2 -1 2 -1 2 0.5 2 1.2 2 1.4 2 1.8 2 0.7 2 -1.7 2 -0.6 2 0.1 2 -1.4 2 -1.4 2 0.3 2 1.2 2 0.8 2 0.3 2 -0.4 2 -0.9 2 -0.8 2 0.7 2 1.7 2 2.4 2 2.5 2 -1.9 2 -3.7 2 -3.6 2 -2.7 2 1.3 2 3.1 2 3.9 2 3.8 2 0.7 2 -3.6 2 -3.9 2 -3.7 2 -3 2 3.1 2 4 2 3.9 2 3.4 2 -0.3 2 -3.7 2 -4.5 2 -3.9 2 -1.7 2 2.8 2 3.9 2 3.8 2 3.1 2 -1 2 -1.5 2 -2.4 2 -2.3 2 -1.2 2 -0.6 2 -1.4 2 -1.7 2 1 2 2.4 2 3.4 2 3.5 2 3.1 2 -0.1 2 -3.1 2 -3 2 -3.6 2 -3.4 2 -1.7 2 2 2 2.2 2 2.9 2 3 2 2.3 2 0.6 2 -2.5 2 -2.6 2 -1.5 2 -0.4 2 -0.4 2 -0.1 2 0.5 2 -0.7 2 0.8 2 5.2 2 2.7 2 -4.6 2 -5.8 2 -3.3 2 1.5 2 5.7 2 5.6 2 1.7 2 -4.7 2 -7 2 -2.9 2 5.4 2 4.8 2 0.7 2 -2.2 2 -1.2 2 -1 2 -0.4 2 -0.2 2 0 2 -0.1 2 -0.2 2 0.3 2 0.6 2 1 2 1.8 2 1.5 2 0 2 -1.3 2 -1.7 2 -2.3 2 -2.6 2 -1.2 2 2.1 2 3.7 2 3.4 2 2.1 2 -1.9 2 -2.8 2 -3.2 2 -3.5 2 -0.5 2 3.3 2 2.9 2 3.2 2 2.6 2 -1.8 2 -2.4 2 -2 2 -2.9 2 -1.3 2 2.6 2 2.5 2 1.7 2 0.4 2 -1.3 2 -2.3 2 -2.4 2 -0.7 2 1.7 2 2.2 2 2.4 2 1.8 2 -0.3 2 -2.3 2 -2.8 2 -1.4 2 -0.5 2 1 2 1.6 2 2.9 2 1.7 2 -1.5 2 -1.6 2 -1.6 2 -2.4 2 -2 2 0.9 2 1.9 2 2.6 2 3 2 2.4 2 -0.3 2 -2.5 2 -1.9 2 -2.1 2 -2.2 2 -2.4 2 0.6 2 2.7 2 2.5 2 1.3 2 1.1 2 1.1 2 -0.4 2 -1.2 2 -1.7 2 -2.1 2 -1.3 2 0.1 2 1.2 2 0.8 2 1.6 2 1.9 2 1.1 2 -1.2 2 -1.6 2 -1.9 2 -1.6 2 -1.4 2 0.9 2 2 2 2.3 2 1.5 2 1.2 2 -0.3 2 -1.4 2 -2.4 2 -2.3 2 -1.1 2 1.5 2 1.7 2 0.9 2 0.7 2 -0.4 2 -0.9 2 -0.6 2 -0.7 2 0 2 1.1 2 1.4 2 1.3 2 0.8 2 -1 2 -1.1 2 -1.4 2 -1.5 2 -0.3 2 1.5 2 0.6 2 -0.1 2 -0.3 2 -0.7 2 -0.9 2 0.3 2 1 2 1 2 0.9 2 1.8 2 2.1 2 -1.4 2 -2.1 2 -1.4 2 -1.7 2 -2.4 2 -2 2 2 2 2.6 2 1.9 2 1.8 2 1.9 2 -0.6 2 -2.4 2 -1.7 2 -0.7 2 -0.9 2 0 2 1.4 2 1.8 2 0.5 2 -0.9 2 -0.5 2 -0.3 2 -1.3 2 -0.8 2 1.2 2 1.9 2 0.8 2 -0.2 2 -1.1 2 -0.7 2 -0.8 2 -0.6 2 0.8 2 1.5 2 1.2 2 0.8 2 -1.2 2 -1.5 2 -1.5 2 -2.5 2 0 2 2.3 2 2.9 2 2.3 2 1.4 2 -1.3 2 -2.6 2 -2.7"/>
<path d="M280 802.6 l2 2.5 2 -0.7 2 -4.5 2 -4.6 2 -3.8 2 2.8 2 4.5 2 4.5 2 0.5 2 -2.3 2 1.6 2 0.3 2 -3.6 2 -3.9 2 -2.4 2 -0.6 2 2.7 2 3.4 2 3 2 2.5 2 0 2 -2.5 2 -3.4 2 -3.4 2 -1.5 2 2 2 1.9 2 1.8 2 3 2 1.8 2 -2.5 2 -2.1 2 -2.1 2 -2.4 2 -0.2 2 2.9 2 1.9 2 0.2 2 0.7 2 0 2 -1.2 2 -1.1 2 0.1 2 0.1 2 -0.2 2 0.8 2 0.8 2 -0.4 2 0.1 2 0.3 2 -0.7 2 -0.8 2 0.4 2 0.2 2 -0.5 2 -0.1 2 0 2 -0.4 2 0.1 2 0.4 2 0 2 0.3 2 0.7 2 0.9 2 0.4 2 -0.1 2 0.3 2 -1 2 -2.7 2 -1.1 2 0.7 2 0.4 2 0.6 2 1.8 2 1.1 2 0.2 2 -0.9 2 -1.1 2 -0.7 2 -0.6 2 0 2 0.8 2 0.9 2 0.4 2 0.1 2 -0.2 2 -1.1 2 -1.3 2 0.4 2 1.5 2 0.8 2 0 2 0.7 2 0.3 2 -0.4 2 -1.7 2 -1.6 2 -1.5 2 -1.5 2 1.2 2 2.2 2 1.9 2 1.6 2 2.3 2 0.8 2 -2.1 2 -2.3 2 -2.9 2 -2.9 2 0.2 2 3 2 2.6 2 2.5 2 1.5 2 -2.5 2 -2.3 2 -2.2 2 -3 2 -1.6 2 2.2 2 3.3 2 3.4 2 3.5 2 3.1 2 -1.7 2 -3.4 2 -3.8 2 -3.7 2 -3.2 2 -1.5 2 2.9 2 2.9 2 3.3 2 3.6 2 2 2 -0.7 2 -1.7 2 -2.2 2 -3.7 2 -2.2 2 -0.8 2 1.4 2 2.5 2 3.4 2 2 2 -0.2 2 -1.9 2 -2 2 -2.3 2 -2.3 2 -0.1 2 2.3 2 1.5 2 1.2 2 2.8 2 1.7 2 -1 2 -1.6 2 -1.2 2 -1.3 2 -1.2 2 -1 2 -0.3 2 -0.4 2 0.1 2 0.8 2 1.2 2 1 2 1.4 2 1.8 2 1.3 2 -1.4 2 -1.4 2 -2.2 2 -2.4 2 -1.3 2 1.9 2 2.1 2 2 2 1.1 2 -1.4 2 -1.4 2 -0.5 2 -1 2 -0.5 2 0.5 2 -0.3 2 0.1 2 1 2 1 2 2.5 2 3 2 -2.2 2 -3.3 2 -3.1 2 -3.1 2 0.8 2 3 2 3.8 2 3.5 2 0.4 2 -3.2 2 -3.6 2 -3.7 2 -2.8 2 3.5 2 4.4 2 4.4 2 2.7 2 -1.6 2 -4.5 2 -4.9 2 -3.6 2 -0.4 2 4.5 2 4.9 2 4.1 2 1.5 2 -3.3 2 -4.6 2 -3.3 2 -0.5 2 1.8 2 1.8 2 2.3 2 2.3 2 -1.3 2 -2.4 2 -2 2 -1.3 2 0.3 2 1.3 2 0.9 2 1.5 2 1.6 2 0.7 2 -1.4 2 -0.8 2 -0.8 2 -1.5 2 -1.1 2 -0.4 2 0.7 2 0.7 2 1.1 2 1.7 2 1.9 2 0.7 2 -1.3 2 -1.9 2 -2.3 2 -1.7 2 -0.9 2 1.4 2 1.7 2 4.4 2 3.5 2 -4.1 2 -5.3 2 -4.5 2 3.4 2 4.7 2 4.6 2 -2.8 2 -2.1 2 3 2 -0.4 2 -2.5 2 -2.3 2 -2.2 2 -2.1 2 1.3 2 2.2 2 2.5 2 2.7 2 2.8 2 0.3 2 -2.8 2 -3.4 2 -2.8 2 -2.1 2 0.2 2 2.3 2 2.3 2 2 2 1.5 2 -0.4 2 -1.9 2 -1.5 2 -0.6 2 -0.6 2 0.2 2 1.4 2 1.4 2 0.4 2 -0.4 2 -0.8 2 -0.8 2 -0.6 2 -1.1 2 0.3 2 1.4 2 0.7 2 -0.4 2 -0.4 2 0.2 2 0 2 -0.1 2 1.4 2 1.6 2 -0.9 2 -1.5 2 -0.9 2 -0.4 2 -0.6 2 -0.2 2 0.9 2 0.9 2 0 2 0.1 2 1.2 2 1.4 2 -0.7 2 -1.8 2 -1.6 2 -1.1 2 -1.5 2 0.7 2 2 2 2.5 2 2.7 2 2.4 2 -1.9 2 -3 2 -2.2 2 -1.7 2 -1.6 2 -0.2 2 1.2 2 2.2 2 1.7 2 0.1 2 0.2 2 0 2 -0.7 2 0.7 2 1.7 2 0.5 2 -0.9 2 -1.3 2 -2.5 2 -3.1 2 -2.6 2 1.5 2 3.1 2 3.7 2 3.2 2 2.3 2 -1.2 2 -2.8 2 -3 2 -3 2 -3.2 2 1.5 2 4.2 2 2.8 2 1.1 2 0.9 2 -1.1 2 -2.7 2 -2.8 2 -1.5 2 1.1 2 1.7 2 1.7 2 1.9 2 1.3 2 -1.3 2 -1.9 2 -2.1 2 -0.7 2 1.1 2 0.8 2 1 2 1.5 2 -0.2 2 -1.1 2 -0.9 2 -1.3 2 -0.9 2 0.7 2 0.7 2 1.1 2 1.4 2 0.9 2 -1.3 2 -1.3 2 -0.3 2 -0.5 2 0.2 2 1.1 2 0.6 2 -0.3 2 -0.5 2 -0.1 2 -0.1 2 -0.5 2 -0.6 2 0.1 2 1 2 0.8 2 0 2 0.3 2 -0.1 2 -0.7 2 -0.5 2 -0.2 2 -0.5 2 0.5 2 0.8 2 -0.8 2 -0.5 2 0.9 2 -0.1 2 -0.4 2 0.7 2 1 2 1 2 0.3 2 -1.3 2 -1.5 2 -0.5 2 -1.4 2 -1.9 2 1.2 2 2.6 2 1.9 2 1.1 2 1.2 2 -1.2 2 -1.8 2 -1.7 2 -1.3 2 -0.6 2 1.1 2 1.6 2 1.3 2 1 2 -0.6 2 -1.9 2 -1.6 2 0"/>
<path d="M280 812.8 l2 4.9 2 1.7 2 -3.1 2 -5.1 2 -4.3 2 2.3 2 3.2 2 3.2 2 0 2 -3 2 0.6 2 3.8 2 0.4 2 -3 2 -1.8 2 -1.6 2 -2.3 2 0.1 2 2.3 2 2.2 2 1.8 2 1.2 2 -1.5 2 -2 2 -1 2 -0.4 2 0.2 2 0.9 2 1.1 2 0.6 2 0.2 2 -0.1 2 -2 2 -2.1 2 -0.3 2 1.2 2 0.8 2 1.2 2 1.2 2 0.5 2 -0.3 2 -0.2 2 -0.9 2 -1.3 2 -0.3 2 0.5 2 -0.3 2 -1.2 2 -0.2 2 0.9 2 1.4 2 0.9 2 0.2 2 1.2 2 1.4 2 -1.1 2 -2.2 2 -1.6 2 -1.6 2 -2 2 0.7 2 2.1 2 1.7 2 2.2 2 2.6 2 -0.6 2 -2.6 2 -1.2 2 -1 2 -1 2 -0.3 2 0.5 2 0.7 2 0.9 2 0.3 2 -0.3 2 -0.4 2 0.5 2 1.2 2 0 2 0.2 2 0.6 2 -0.9 2 -2.3 2 -1.6 2 -0.8 2 0.2 2 0.9 2 2 2 3.1 2 2.3 2 -0.2 2 -2 2 -1.6 2 -2.3 2 -3 2 -1.7 2 2.3 2 2.2 2 1.4 2 1.7 2 1.6 2 -0.4 2 -1.7 2 -1.3 2 -0.4 2 -0.1 2 -0.4 2 0.1 2 0.5 2 -0.1 2 -0.1 2 0.2 2 0.2 2 0.2 2 1 2 0.1 2 -1.2 2 -0.3 2 -0.3 2 -1.6 2 0.1 2 2 2 1.5 2 -0.1 2 0.4 2 0 2 -0.4 2 -1.5 2 -1 2 0.3 2 0.4 2 -0.5 2 -0.6 2 0.4 2 1.1 2 0.5 2 0.2 2 0.7 2 -0.1 2 -0.9 2 -0.4 2 0 2 -0.1 2 0.4 2 0.5 2 -0.2 2 -0.7 2 -0.9 2 -0.5 2 0.2 2 0.7 2 1.3 2 0.7 2 0.2 2 -0.6 2 -0.7 2 -0.3 2 -0.5 2 -0.9 2 0.5 2 1.4 2 0.6 2 -0.1 2 -0.2 2 -0.9 2 -1.2 2 0.2 2 0.9 2 0.1 2 0.8 2 1.1 2 -0.4 2 -1.3 2 -1.2 2 -0.3 2 0.5 2 0.3 2 0.7 2 1.1 2 0.8 2 -0.6 2 -0.9 2 -0.8 2 -0.7 2 -0.3 2 0.8 2 0.9 2 0.2 2 -0.7 2 -0.2 2 -0.3 2 0 2 1.3 2 1 2 -0.3 2 -0.9 2 -0.5 2 -0.6 2 -0.7 2 0.2 2 1.1 2 0.7 2 -0.2 2 0.1 2 0.3 2 -0.5 2 -1 2 -0.4 2 0.2 2 0.6 2 1.1 2 0.1 2 0.4 2 0.3 2 -1 2 -1.7 2 -0.7 2 -0.9 2 0.3 2 1.6 2 1.7 2 1.3 2 1.7 2 -1 2 -2.2 2 -1.7 2 -1.3 2 -1.5 2 1.2 2 2.2 2 1.6 2 0.9 2 0.1 2 -1.3 2 -1 2 -0.4 2 -0.8 2 0.2 2 1.3 2 1.1 2 -0.5 2 -0.7 2 -0.9 2 -1.6 2 0.1 2 1.4 2 1.5 2 1.6 2 1.6 2 -0.7 2 -1.5 2 -2.3 2 -2.4 2 -0.7 2 5.4 2 4 2 -3.6 2 -4.6 2 -4 2 4 2 4.9 2 4.2 2 -3 2 -3.8 2 -1 2 -0.5 2 -1.3 2 0.2 2 2.1 2 2.4 2 2.1 2 1.2 2 -2.2 2 -3.1 2 -2.2 2 -0.8 2 1.1 2 1 2 1 2 1.6 2 1 2 -0.4 2 -1.2 2 -0.8 2 -0.3 2 -0.9 2 -1.2 2 0.7 2 1.3 2 1.1 2 0.7 2 0.9 2 -0.5 2 -1.3 2 -1.4 2 -0.9 2 0.6 2 1.3 2 0.6 2 0.2 2 0.6 2 0 2 -0.9 2 -0.9 2 -0.3 2 -0.2 2 -0.3 2 -0.2 2 -0.2 2 0.7 2 1.5 2 -0.1 2 -0.6 2 1 2 0.7 2 -0.5 2 0.2 2 0.2 2 -0.7 2 -1.4 2 -1 2 -0.4 2 0.6 2 0.7 2 0.6 2 1.1 2 0.8 2 -1.1 2 -1.5 2 -0.9 2 -0.8 2 0.6 2 1.8 2 1.9 2 1.4 2 0.3 2 -1.3 2 -1.7 2 -2.3 2 -2.1 2 -0.7 2 1.7 2 3.1 2 2.2 2 1 2 0.8 2 -0.9 2 -2.3 2 -2.5 2 -1.3 2 -0.1 2 -0.1 2 0 2 0.6 2 1.8 2 1.9 2 1.5 2 1.2 2 0.4 2 -1.2 2 -2.1 2 -2.5 2 -1.8 2 -1.3 2 0.1 2 1.8 2 3.1 2 2 2 1.2 2 -0.3 2 -2.3 2 -2.6 2 -0.7 2 0.9 2 0.7 2 0.6 2 1.7 2 0.9 2 -1 2 -1.4 2 -1.7 2 -1.7 2 -0.8 2 0.7 2 1.6 2 3 2 1.8 2 0.8 2 0.9 2 -1.1 2 -3.1 2 -2.9 2 -1.3 2 -0.6 2 1.6 2 2.2 2 1.5 2 0.7 2 0.5 2 -0.7 2 -2.4 2 -2.3 2 0.3 2 1.9 2 1.1 2 1.4 2 2.2 2 -0.3 2 -2.1 2 -1.2 2 -1.1 2 -1.6 2 -0.9 2 0.7 2 1 2 1.2 2 1.8 2 1.7 2 0 2 -1.7 2 -1.4 2 -1.1 2 -0.4 2 1.4 2 1.2 2 0.5 2 -0.9 2 -0.8 2 -1.4 2 -2.7 2 -0.3 2 2.2 2 2.6 2 3.1 2 3.6 2 0.5 2 -3.3 2 -3.1 2 -3.7 2 -3.8 2 -1.1 2 3.3 2 2.8 2 2.5 2 2.5 2 1.6 2 -2.1 2 -2.8 2 -1 2 -1.3 2 -0.3"/>
<path d="M280 828.6 l2 3.5 2 -0.5 2 -4.4 2 -4.4 2 -3.6 2 3.4 2 4.5 2 4.3 2 0.3 2 -2.8 2 -0.6 2 -0.1 2 -2.1 2 -1.8 2 -0.7 2 0 2 1.1 2 2.7 2 2.2 2 1.1 2 -1.4 2 -2.1 2 -2.1 2 -1.5 2 -0.9 2 1.1 2 3.1 2 3.1 2 1.4 2 -1.2 2 -1.5 2 -3.1 2 -4.1 2 -2.4 2 2.8 2 2.9 2 3.8 2 3.9 2 1.9 2 -3 2 -2.9 2 -3.1 2 -3.5 2 -2.9 2 2.7 2 3.9 2 2.7 2 2 2 1.3 2 -2 2 -2.6 2 -2.1 2 -1.6 2 -0.4 2 1.9 2 2.9 2 1.2 2 -0.1 2 -1.1 2 -0.6 2 -1.1 2 -1.6 2 0.5 2 2.3 2 2.4 2 0.6 2 -1.3 2 -2 2 -3.6 2 -3.5 2 0.6 2 3 2 3.2 2 3.5 2 2.5 2 0.8 2 -2.1 2 -2.8 2 -2.9 2 -1.4 2 -0.2 2 -0.6 2 -0.8 2 0.6 2 1.7 2 1 2 0.5 2 1.7 2 2.1 2 0.9 2 -1.4 2 -1.6 2 -1.8 2 -1.3 2 -0.6 2 0 2 0.9 2 0.7 2 1.2 2 1.1 2 -0.7 2 -1.1 2 -1.3 2 -1.5 2 1.1 2 1.8 2 1.4 2 2.1 2 1.3 2 -2 2 -3 2 -2.6 2 -2.6 2 0.2 2 2.9 2 2.9 2 2.6 2 2.5 2 -1.1 2 -3 2 -3.2 2 -2.3 2 -1.2 2 2.1 2 2.2 2 2.8 2 2.7 2 -0.5 2 -2.8 2 -1.7 2 -1.3 2 -1.7 2 -0.4 2 1.5 2 2.2 2 1.8 2 1.1 2 0.4 2 -1 2 -1.4 2 -2.4 2 -2.6 2 -0.6 2 2 2 1.4 2 2.5 2 3.4 2 2.4 2 -1.8 2 -2.5 2 -3.7 2 -4.2 2 -3.2 2 1.4 2 3.2 2 4.1 2 4.7 2 3.2 2 -1.8 2 -3.3 2 -2.5 2 -2.7 2 -2.6 2 -1.3 2 2.4 2 2.3 2 1.2 2 1.3 2 1.8 2 1.2 2 -0.9 2 -1.6 2 -1.7 2 -2.1 2 -2.1 2 -0.5 2 1.8 2 3 2 3.3 2 2.2 2 -1.1 2 -2.4 2 -3.2 2 -3.2 2 -1.3 2 2.7 2 2.3 2 2 2 2 2 0.5 2 -1.5 2 -2.4 2 -2.4 2 -1.4 2 0.9 2 1.8 2 1.6 2 1.6 2 1.3 2 -1 2 -1.4 2 -2.8 2 -2.3 2 2.1 2 2.7 2 0.7 2 1.7 2 1.2 2 -1.7 2 -3.9 2 -2.7 2 -0.6 2 0.5 2 0.7 2 2.4 2 3.1 2 2.3 2 2.4 2 -1.9 2 -3.6 2 -3 2 -2.1 2 -1.7 2 2.1 2 2.9 2 2.8 2 2.1 2 -1.1 2 -2.1 2 -2.5 2 -3.1 2 -1.6 2 2.3 2 3.4 2 3.2 2 2.7 2 0.7 2 -2.8 2 -3.1 2 -3 2 -2.7 2 0.6 2 2.9 2 3 2 3.3 2 0.7 2 -3.6 2 -3.2 2 -3 2 -3.2 2 2 2 4.9 2 5.4 2 3.6 2 -1.6 2 -7.5 2 -5 2 2.9 2 4.5 2 4.2 2 -3.3 2 -4.4 2 -3.7 2 3 2 2.4 2 -0.6 2 0.6 2 1.3 2 1.4 2 1.1 2 -1.1 2 -1.4 2 -1.3 2 -0.8 2 -1 2 -0.8 2 1.3 2 1.8 2 0.6 2 -0.2 2 -0.3 2 -0.3 2 0.2 2 0.4 2 0.7 2 1.6 2 -0.1 2 -2.2 2 -2.8 2 -2 2 0.1 2 1.7 2 1.7 2 2.7 2 2.8 2 0.6 2 -2.3 2 -2.7 2 -2.9 2 -1.9 2 0.1 2 1.8 2 2.5 2 2.7 2 2.2 2 0.2 2 -2.3 2 -3.3 2 -2.5 2 -2 2 -0.9 2 2 2 3.5 2 3.5 2 2.7 2 1.3 2 -2.4 2 -2.6 2 -3.5 2 -3.1 2 -1.8 2 1.4 2 2.7 2 2.7 2 1.9 2 1.2 2 -0.9 2 -1.8 2 -0.8 2 -0.4 2 0.3 2 0.5 2 0.1 2 0.2 2 0.1 2 -1.5 2 -1.7 2 -0.3 2 1.3 2 1.4 2 1.1 2 0.6 2 -0.1 2 -0.8 2 -0.6 2 -0.7 2 -0.4 2 0.5 2 0.6 2 0 2 -0.9 2 -1.3 2 0.7 2 1.3 2 1.1 2 1.3 2 0.9 2 -1 2 -1.1 2 -2.1 2 -2.5 2 -1.4 2 1.1 2 1.8 2 2.2 2 1.8 2 1.6 2 0.4 2 -2 2 -1.9 2 -0.6 2 -0.9 2 -0.7 2 0 2 0.3 2 0.9 2 1.3 2 0.7 2 0.7 2 0.1 2 -1.2 2 -1.4 2 -0.3 2 0 2 -0.4 2 0.3 2 0.7 2 0.3 2 -0.3 2 0.2 2 0.3 2 0.1 2 0.3 2 0.3 2 -0.2 2 0 2 0.6 2 0 2 -1.2 2 -1.2 2 -0.6 2 -0.4 2 0.2 2 0.7 2 0.7 2 0.7 2 0.8 2 0.9 2 0.8 2 -0.4 2 -1.7 2 -1.7 2 -0.7 2 0.5 2 0.6 2 -0.6 2 0.4 2 1.5 2 -0.1 2 -0.6 2 0.7 2 0.2 2 -0.8 2 0 2 0.3 2 0.4 2 0.3 2 -0.2 2 -0.9 2 -0.7 2 -0.4 2 -0.1 2 0.2 2 0.1 2 0.8 2 0.9 2 0.1 2 0 2 0.2 2 -0.3 2 -0.8 2 -0.8 2 -0.6 2 0.6 2 1.2 2 1.3 2 0.8 2 -0.8 2 -1.3 2 -1.6 2 -1.3 2 0.2"/>
<path d="M280 839.7 l2 -0.2 2 0.4 2 0.9 2 0.3 2 0.1 2 -0.3 2 -0.8 2 -0.7 2 0 2 0.2 2 0.6 2 1.2 2 1.3 2 0.3 2 -1.5 2 -1.8 2 -0.8 2 -0.6 2 0.3 2 0.8 2 1.3 2 1.3 2 0.1 2 -1.5 2 -1.5 2 -0.5 2 0.8 2 -0.1 2 0.5 2 2.5 2 1.8 2 -0.5 2 -1.5 2 -1.1 2 -1.6 2 -1.6 2 -1.4 2 0.4 2 1.3 2 2.3 2 2.4 2 1.7 2 0 2 -2 2 -2.7 2 -2.6 2 -2.1 2 2 2 3 2 2.2 2 2.1 2 1.3 2 -2 2 -4 2 -2.7 2 -0.9 2 1.1 2 1.6 2 2.6 2 2.1 2 0.1 2 -1.5 2 -1.8 2 -2.5 2 -1.1 2 2.1 2 1.5 2 0.6 2 1.1 2 0.8 2 -1 2 -0.5 2 0.4 2 -0.9 2 -1.1 2 -0.5 2 -1.2 2 -0.6 2 1.2 2 1.2 2 1.9 2 2.7 2 1.6 2 -1.7 2 -3 2 -4.2 2 -3.6 2 -1.1 2 2.9 2 4.9 2 4.8 2 2.9 2 0 2 -3.2 2 -3.5 2 -3.8 2 -3.3 2 0.4 2 3.5 2 2 2 1.9 2 2.3 2 -0.2 2 -2.3 2 -1 2 -0.3 2 -1 2 -1 2 -0.2 2 0.8 2 0.8 2 0.1 2 0.4 2 1.9 2 1.7 2 -0.4 2 -1.3 2 -2 2 -2.2 2 -2 2 -0.5 2 1.9 2 3 2 2.8 2 2.3 2 0.1 2 -2.6 2 -2.4 2 -1.9 2 -2.4 2 0.1 2 2.9 2 2 2 1.1 2 0.9 2 -1 2 -3.1 2 -2.7 2 0.2 2 2 2 1.3 2 2 2 2.3 2 0.4 2 -2.1 2 -1.5 2 -1.4 2 -1.8 2 -0.7 2 1.7 2 1.6 2 0.9 2 0 2 -0.9 2 0.1 2 -0.6 2 -0.9 2 0.5 2 0.9 2 0.7 2 -0.2 2 -0.1 2 0.7 2 -0.3 2 -1.9 2 -0.6 2 1.2 2 1.1 2 0.9 2 -0.5 2 -1.2 2 -1.4 2 -0.7 2 1.2 2 1.5 2 1.9 2 1.2 2 -1.6 2 -2 2 -2.1 2 -3 2 -1.1 2 2.6 2 3.9 2 3.7 2 2.9 2 -0.1 2 -3.3 2 -3.2 2 -3 2 -3 2 -0.4 2 3.3 2 3.2 2 1.6 2 0.9 2 0 2 -1.4 2 -1.4 2 -0.9 2 -0.8 2 -0.1 2 0.7 2 0.3 2 1.2 2 1.3 2 -0.7 2 -0.9 2 0.3 2 -0.6 2 -1.5 2 -0.2 2 1.1 2 1 2 0.5 2 0.5 2 1 2 -0.2 2 -1.1 2 -1.4 2 -0.9 2 -1.3 2 -0.9 2 1.3 2 1.2 2 0.9 2 1.4 2 1.7 2 1 2 -1.1 2 -1.4 2 -1.6 2 -1.5 2 -1.4 2 -1 2 1.1 2 1.8 2 1.8 2 1.8 2 1.6 2 -0.8 2 -1.8 2 -1.9 2 -1.7 2 -1.6 2 -0.1 2 1.8 2 2.4 2 1.4 2 0.7 2 0.5 2 -1.3 2 -1.4 2 -0.5 2 0.2 2 -3.4 2 -3.3 2 4.2 2 5.1 2 4.1 2 -4 2 -4.7 2 -3.5 2 4 2 4.7 2 -0.3 2 -1.4 2 -2.2 2 -2.1 2 -1.7 2 0 2 2.1 2 2.4 2 1.8 2 1.8 2 0.3 2 -2 2 -2.2 2 -1.6 2 -1.3 2 1.4 2 1.9 2 1.9 2 2.4 2 -0.3 2 -2.5 2 -3.8 2 -3.3 2 -1.7 2 2.9 2 3.7 2 3.6 2 2.4 2 0.6 2 -2.2 2 -2.9 2 -3 2 -2.3 2 -1 2 1.8 2 2.9 2 3.1 2 1.4 2 -0.5 2 -1.4 2 -1.1 2 -1.2 2 -0.7 2 -0.2 2 0.2 2 0.2 2 0.4 2 -0.2 2 -0.2 2 0.7 2 0.4 2 -0.7 2 0 2 1 2 1.1 2 1.5 2 0.5 2 -1.4 2 -1.9 2 -1.9 2 -1.8 2 -2.4 2 0.5 2 2.9 2 3.9 2 2.2 2 1.3 2 0 2 -2.1 2 -3 2 -2.4 2 -1.3 2 0.2 2 1.4 2 1.6 2 2.5 2 2.2 2 -0.9 2 -2.7 2 -2.4 2 -0.9 2 -0.1 2 0.7 2 2 2 2.7 2 1.2 2 -1 2 -1.6 2 -1.4 2 -1.2 2 -1.4 2 0.2 2 1.8 2 2 2 0.4 2 -0.4 2 -0.1 2 -0.1 2 -1.7 2 -1.3 2 1.1 2 1.7 2 0.6 2 -0.1 2 -0.7 2 -0.5 2 -0.5 2 -0.9 2 0.1 2 1.1 2 1.7 2 0.8 2 -0.7 2 -1.2 2 -2.7 2 -2.1 2 0.5 2 1.6 2 1.7 2 3.1 2 4.4 2 1.6 2 -3.8 2 -3.9 2 -3.6 2 -4 2 -3.1 2 3.3 2 4.9 2 4.9 2 3.4 2 0.9 2 -3.2 2 -3.6 2 -3.5 2 -2.1 2 0.7 2 2.1 2 2.2 2 2.4 2 1.1 2 -1.7 2 -1.3 2 -1.3 2 -1.5 2 -0.3 2 1 2 1.3 2 2 2 1.3 2 -0.9 2 -1.2 2 -1.1 2 -1.4 2 -1.1 2 -0.3 2 1 2 1.5 2 0.8 2 0.7 2 1.2 2 0 2 -1.4 2 0.1 2 0.2 2 -1.4 2 -1.1 2 0 2 -0.3 2 -0.6 2 0.5 2 1.1 2 0.6 2 0.9 2 1.7 2 0.8 2 -1.6 2 -0.9 2 -0.5 2 -1 2 -1 2 -0.5 2 -0.3 2 0.3 2 0.6 2 0.9 2 1.7"/>
<path d="M280 854.8 l2 -0.5 2 0 2 0 2 -0.4 2 0.6 2 1.5 2 0.5 2 -1 2 -0.8 2 -0.7 2 -1.8 2 -2.1 2 -0.7 2 1.3 2 2.8 2 3.1 2 2.1 2 2.1 2 -1.8 2 -3.1 2 -2.7 2 -2.2 2 -2.1 2 0.1 2 2.3 2 3.1 2 2.7 2 1.4 2 -0.3 2 -1.5 2 -1.8 2 -2.8 2 -2.3 2 0.9 2 2.2 2 1.7 2 1.6 2 1 2 -1 2 -1.3 2 -1.8 2 -1.3 2 0.5 2 1.2 2 0.8 2 1.3 2 1.4 2 -0.5 2 -1.2 2 -1.3 2 -1.5 2 -0.6 2 0.1 2 0.9 2 0.7 2 0.8 2 1.1 2 0.4 2 -1.2 2 -0.5 2 0.7 2 0.8 2 0.2 2 -0.4 2 -0.7 2 -2.1 2 -2.5 2 -0.6 2 1.9 2 2.1 2 2.7 2 2.1 2 0.5 2 -1.4 2 -2.2 2 -3.4 2 -2.2 2 1.3 2 2.3 2 1.3 2 1.4 2 1.3 2 -1.4 2 -2.3 2 -1 2 -0.3 2 0.5 2 0.9 2 1.1 2 0.5 2 0.5 2 0.1 2 -0.8 2 -1.3 2 0.1 2 0.3 2 -1.6 2 -1.8 2 1.1 2 1.6 2 1.7 2 1.5 2 0.8 2 -0.6 2 -1 2 -2.5 2 -2 2 -0.4 2 1 2 1.3 2 1.8 2 1.2 2 0.5 2 -1.1 2 -1.4 2 -1 2 -1.3 2 -0.2 2 1.4 2 2.1 2 1.2 2 -0.1 2 -0.8 2 -1 2 -2.2 2 -2 2 0.7 2 2.1 2 1.9 2 1.5 2 1.5 2 -0.2 2 -1.9 2 -2.1 2 -1.8 2 -2.1 2 -0.1 2 1.9 2 2.7 2 2.5 2 1 2 -0.8 2 -1 2 -1.5 2 -2.3 2 -1.5 2 -0.5 2 1 2 1.9 2 2.1 2 1.2 2 1.4 2 0.5 2 -1.5 2 -2.6 2 -2 2 -1.7 2 -1.3 2 1.8 2 2.3 2 1.9 2 1.9 2 0.6 2 -2.1 2 -2.2 2 -1.6 2 -0.8 2 1.3 2 2.6 2 2.1 2 0.8 2 -1.1 2 -1.8 2 -3.4 2 -3 2 -0.3 2 2.4 2 3.1 2 4 2 3.4 2 -0.4 2 -3.5 2 -4.3 2 -4.8 2 -1.9 2 3.7 2 5.1 2 4.9 2 1.7 2 -3.2 2 -5 2 -4.8 2 -2.8 2 2.8 2 5 2 5.3 2 3.9 2 -2.9 2 -4.3 2 -5.3 2 -4.7 2 1.8 2 4 2 5.2 2 4.6 2 -0.4 2 -3.4 2 -4 2 -4.8 2 -1.4 2 3.1 2 3.7 2 3.3 2 2.2 2 -2.8 2 -3 2 -2.5 2 -1.2 2 3.6 2 2.3 2 1.3 2 0.1 2 -4.4 2 -5.2 2 -0.5 2 2.7 2 4.3 2 3.3 2 2.8 2 1.1 2 -2.8 2 -2.9 2 -2.6 2 -2.7 2 -2.2 2 0.9 2 2.5 2 1.8 2 1.8 2 2.2 2 0.9 2 -2.3 2 -1.8 2 -0.6 2 -1.4 2 -1 2 1.9 2 2.1 2 0.3 2 -0.1 2 -0.5 2 -0.4 2 -1.1 2 -1.6 2 -1 2 1.2 2 1.8 2 1.4 2 1.4 2 1.9 2 -0.7 2 -2.3 2 -2.9 2 -1.7 2 -1.3 2 0.4 2 1.6 2 2.4 2 2.3 2 1.6 2 0.1 2 -2.1 2 -1.3 2 -0.9 2 -1.1 2 -0.6 2 0.8 2 0.9 2 0.1 2 -0.3 2 -0.4 2 -0.3 2 0 2 0.6 2 1 2 1.1 2 0.9 2 0.4 2 -0.7 2 -1.1 2 -0.6 2 0 2 -1.2 2 -1.9 2 -0.5 2 0.8 2 0.6 2 0.2 2 1.1 2 1.9 2 2.2 2 1.4 2 -1.7 2 -1.8 2 -1.6 2 -1.8 2 -2.2 2 -1 2 1.9 2 2.8 2 1.6 2 1 2 1.9 2 0.2 2 -1.9 2 -2 2 -1.6 2 -1.8 2 -1.8 2 1.7 2 2.3 2 1 2 0.8 2 1.7 2 0.4 2 -1.3 2 -1.3 2 -1.7 2 -1 2 0.5 2 0.7 2 1 2 1.7 2 1 2 -1.4 2 -1.3 2 0.1 2 -0.7 2 -1.8 2 0.6 2 1.5 2 0 2 -0.1 2 0.8 2 0.6 2 -0.3 2 -0.4 2 0.5 2 1 2 -0.5 2 -1.9 2 -0.8 2 0.4 2 -0.4 2 -0.1 2 0.8 2 1.2 2 0.9 2 1.1 2 -0.5 2 -1.7 2 -1 2 0 2 -0.6 2 -0.5 2 0.8 2 1.8 2 0.7 2 -0.3 2 0.1 2 0 2 -1.6 2 -2.2 2 -0.8 2 4.8 2 4.1 2 -3.5 2 -4.4 2 -3.2 2 4.5 2 4.4 2 3.2 2 -4.4 2 -5.4 2 -2.1 2 0.3 2 2.2 2 2.7 2 1.7 2 1.5 2 1.1 2 -1.3 2 -1.3 2 -1.4 2 -1.5 2 -0.1 2 -0.2 2 -1 2 0.7 2 2 2 1 2 0.5 2 0.4 2 -1.1 2 -0.8 2 -0.6 2 -1.1 2 0.6 2 1.2 2 0.6 2 0.9 2 -0.4 2 -1.2 2 -1.5 2 -1.6 2 0.3 2 1.5 2 1.8 2 1.8 2 1 2 -1.4 2 -1.5 2 -1.4 2 -1 2 0.9 2 1.4 2 0.8 2 -0.2 2 -0.8 2 -1.3 2 -1.1 2 -0.2 2 0.6 2 1 2 1.3 2 1.4 2 1.6 2 1.2 2 -1.2 2 -2.1 2 -2.1 2 -1.8 2 -2 2 -0.9 2 1.6 2 1.7 2 1.5 2 2.7 2 2.5 2 0.5 2 -1 2 -1.5"/>
<path d="M280 865.7 l2 2.6 2 2.6 2 1.8 2 1.2 2 -1 2 -2.9 2 -2.7 2 -2.2 2 -2.4 2 -1.2 2 2.2 2 1.5 2 2 2 3.9 2 3.5 2 0.9 2 -2.6 2 -2.9 2 -3.4 2 -3.3 2 -2.3 2 1.3 2 2.6 2 3.1 2 3.7 2 2.6 2 -1.3 2 -3 2 -2.3 2 -1.8 2 -1.9 2 -0.5 2 2.1 2 2.9 2 1.9 2 0.8 2 -0.9 2 -1.4 2 -0.7 2 -0.5 2 0 2 0.8 2 -0.2 2 -1 2 -1.2 2 -2.1 2 -0.1 2 2.1 2 3 2 2.9 2 3.4 2 -0.5 2 -3.8 2 -5 2 -3.2 2 -2 2 2 2 3.3 2 3.1 2 3.1 2 2.3 2 -2.5 2 -3.5 2 -2.9 2 -2.3 2 -0.9 2 2.3 2 3 2 3.5 2 3.8 2 0.4 2 -3.4 2 -3.6 2 -4.9 2 -5 2 -0.6 2 4.2 2 5 2 5.4 2 4.8 2 1.4 2 -4.6 2 -5.2 2 -4.8 2 -4.1 2 -1.1 2 4 2 4.8 2 4.7 2 3.3 2 -2.2 2 -4.3 2 -3.4 2 -1.7 2 -0.1 2 1.6 2 2.1 2 2.2 2 0.4 2 -2.1 2 -1.6 2 0.5 2 1.1 2 0.1 2 1.1 2 1.5 2 -0.4 2 -1.9 2 -2.7 2 -2.5 2 -0.5 2 2.3 2 2.9 2 3.3 2 2.6 2 -1.4 2 -2.9 2 -2.7 2 -2.7 2 -2.4 2 1.5 2 2.7 2 2.4 2 2.6 2 2.6 2 -0.5 2 -2.1 2 -2.7 2 -3 2 -2.3 2 -1.5 2 1.9 2 2.1 2 2.6 2 2.8 2 1.9 2 0.5 2 -1.6 2 -2.1 2 -2.6 2 -1.9 2 -1.1 2 -0.4 2 1.3 2 1.6 2 1.5 2 1.5 2 0.9 2 -0.4 2 -1.1 2 -0.2 2 -0.2 2 -0.1 2 -0.3 2 -0.9 2 -0.5 2 0 2 -0.1 2 0 2 0.2 2 0.7 2 0.9 2 0.3 2 -0.2 2 -0.1 2 0.6 2 0.3 2 -0.6 2 -1.1 2 -1 2 -0.9 2 0 2 1.1 2 1.5 2 1 2 1 2 -0.1 2 -1.6 2 -1.6 2 -0.4 2 -1 2 0.4 2 0.4 2 -0.9 2 0.5 2 2.8 2 2.8 2 2.8 2 -0.3 2 -5 2 -5.4 2 -4.2 2 -1.2 2 5.4 2 6.3 2 5.9 2 3.5 2 -4.9 2 -5.8 2 -6.4 2 -5.4 2 2.8 2 5.4 2 6 2 5.2 2 -0.7 2 -4.3 2 -5.2 2 -5.4 2 -1 2 4.7 2 5.4 2 4.5 2 1.4 2 -4.6 2 -5 2 -4.5 2 -2.4 2 5.3 2 5.5 2 3.9 2 1.6 2 -3.9 2 -4.4 2 -3.5 2 -2.1 2 1.7 2 2.2 2 2.1 2 2.3 2 0.4 2 0.3 2 -0.3 2 -1.2 2 -1.9 2 -0.5 2 1.2 2 1 2 -0.7 2 -1 2 -0.6 2 -0.8 2 -0.3 2 0.7 2 0.9 2 1.9 2 1.9 2 0.2 2 -1.4 2 -0.8 2 -1.6 2 -2.5 2 -0.6 2 2.1 2 1.2 2 0.8 2 0.6 2 0.5 2 0.7 2 -0.1 2 -1.2 2 -1 2 -0.8 2 -1.9 2 -1.6 2 1.6 2 1.7 2 1 2 2.1 2 2.8 2 -0.5 2 -2.6 2 -2.3 2 -1.7 2 -0.7 2 1.1 2 1.1 2 1.7 2 0.8 2 -1.5 2 -1.6 2 -1.1 2 -0.5 2 0.6 2 2.2 2 3.9 2 4 2 -1.7 2 -4.4 2 -4.9 2 -4.6 2 2 2 4.1 2 4.6 2 2.1 2 -1.4 2 0.6 2 -0.5 2 -2.3 2 -1.9 2 -1.7 2 -1.4 2 0.7 2 1.3 2 1.3 2 1.2 2 0.9 2 0.5 2 0.6 2 -0.3 2 -0.9 2 -1.5 2 -1.7 2 -0.9 2 -0.5 2 -0.1 2 0.8 2 2.6 2 1.7 2 0.2 2 -0.8 2 -1.3 2 -2 2 -0.3 2 1.7 2 1.5 2 1.5 2 1.6 2 -1.1 2 -1.7 2 -2.5 2 -2.7 2 -1.7 2 1.3 2 2.3 2 1.6 2 0.6 2 1.1 2 1.3 2 0.4 2 0.6 2 -0.2 2 -0.8 2 -1.5 2 -2.5 2 -2.2 2 -1.2 2 -0.2 2 1.2 2 2.2 2 3 2 1.6 2 0 2 0.1 2 -0.2 2 -1.4 2 -1.6 2 -0.9 2 -1.1 2 -1.3 2 -0.3 2 1.1 2 2 2 1.9 2 1.9 2 2.5 2 -1.2 2 -3.2 2 -2.9 2 -1.9 2 -2.3 2 0.8 2 2.8 2 3 2 4.5 2 3.3 2 -5.3 2 -6.4 2 -5.4 2 3.2 2 5.7 2 5.1 2 -1.7 2 -1.3 2 0.8 2 -1.6 2 -1.1 2 -1.2 2 -1 2 0.1 2 0.9 2 0.3 2 -1.5 2 -1.5 2 0.8 2 1.7 2 2.2 2 2.6 2 1.9 2 -2.3 2 -2 2 -2.8 2 -4 2 -1.5 2 3.2 2 3.2 2 3 2 2.6 2 0.1 2 -2.3 2 -4.2 2 -4.3 2 -2.7 2 2.1 2 3 2 4.8 2 4.9 2 2.7 2 -3.7 2 -3.7 2 -3.6 2 -3.8 2 -3.1 2 3.1 2 3.8 2 3.4 2 3.4 2 2.1 2 -3 2 -3.6 2 -3.3 2 -2.7 2 -0.9 2 2.1 2 2.1 2 3.5 2 3.3 2 0.8 2 -2.7 2 -2.2 2 -2.3 2 -1.6 2 0.2 2 1.6 2 1.2 2 0.7 2 0.7 2 1.5 2 0.1 2 -2 2 -1.6 2 -0.6"/>
<path d="M280 881.7 l2 -1.1 2 -1.5 2 -0.5 2 1 2 1.5 2 1.7 2 1.7 2 1.2 2 -1.2 2 -1.3 2 -1.6 2 -1.5 2 -1.3 2 -0.3 2 1.4 2 1.4 2 0.6 2 0.9 2 1.6 2 0.8 2 -1.4 2 -1.2 2 -1.2 2 -1.5 2 -1.1 2 1.3 2 1.5 2 0.7 2 0.4 2 0.2 2 -0.6 2 -0.8 2 -0.9 2 0.5 2 1 2 0.6 2 0.8 2 0.3 2 -1.2 2 -1.3 2 -0.9 2 -1.5 2 -0.6 2 1.3 2 1.8 2 2.1 2 2.2 2 2 2 -1.3 2 -2.4 2 -3.5 2 -3.4 2 -3 2 0.8 2 3.2 2 4.5 2 4.2 2 2.9 2 -0.6 2 -3.1 2 -3.4 2 -3.1 2 -2.5 2 -2.1 2 1.9 2 3.1 2 1.9 2 0.9 2 1.1 2 1.6 2 0.4 2 -1.7 2 -1.5 2 -1 2 -1.2 2 -1.1 2 0.5 2 1 2 1.3 2 1.6 2 0.7 2 -1.3 2 -1.8 2 -1.9 2 -1.2 2 1.2 2 1.1 2 1.5 2 2.6 2 2.6 2 -1.3 2 -2.8 2 -2.5 2 -1.9 2 -1.7 2 1.7 2 2.6 2 2.6 2 2.2 2 0.1 2 -2.5 2 -3 2 -2.3 2 -2.2 2 1.3 2 2.8 2 3.7 2 2.3 2 0.2 2 -2.2 2 -1.8 2 -2 2 -1.1 2 -0.3 2 0.7 2 1.2 2 1.7 2 0.7 2 0.5 2 0 2 -0.8 2 -1.4 2 -1 2 -1.1 2 -1 2 1.2 2 1.4 2 0.7 2 1.3 2 2.4 2 0 2 -2.1 2 -1.9 2 -1.3 2 -1.5 2 -0.1 2 1.5 2 1.1 2 1.1 2 2.2 2 0.6 2 -2.5 2 -1 2 0.5 2 -1.2 2 -1.8 2 0.7 2 1.3 2 0.2 2 0.8 2 1 2 0.6 2 -0.2 2 -1.2 2 -1 2 0.1 2 -0.7 2 -1.2 2 0.7 2 1.1 2 0.9 2 0.4 2 0.5 2 0.3 2 -0.7 2 -1.3 2 -0.7 2 -0.1 2 0.5 2 0.4 2 0.3 2 0.9 2 -0.4 2 -1 2 0.1 2 0 2 -0.4 2 0 2 1.3 2 2.1 2 0.4 2 -1.8 2 -3.3 2 -4.6 2 -1.2 2 3.7 2 6.6 2 7.9 2 2.4 2 -6.3 2 -8.4 2 -8.4 2 -4.4 2 6.6 2 8.7 2 8.4 2 6.7 2 -6.5 2 -8.5 2 -8.5 2 -6.7 2 4.5 2 7.8 2 8.6 2 7.2 2 -2.3 2 -7.8 2 -8.3 2 -7.4 2 -0.3 2 7.2 2 8.7 2 7.9 2 2.7 2 -7.7 2 -8.2 2 -7.4 2 -4.5 2 7.4 2 6.9 2 5.6 2 2.9 2 -4.6 2 -4.7 2 -2.3 2 -0.2 2 1.6 2 1.1 2 0.9 2 0.6 2 -0.6 2 -0.3 2 0.3 2 -0.1 2 -0.5 2 -0.9 2 -1.1 2 -0.5 2 0.8 2 0.8 2 0.4 2 0.4 2 1 2 1.4 2 0.7 2 -1 2 -1.2 2 -1.1 2 -1 2 -1.6 2 -1.6 2 1.6 2 1.7 2 0.8 2 1.5 2 2.3 2 1.1 2 -1.9 2 -1.9 2 -1.7 2 -1.5 2 -0.8 2 0.8 2 1 2 1.2 2 1.2 2 0.4 2 -0.2 2 -0.9 2 -0.6 2 0.3 2 0.2 2 -0.3 2 0 2 -0.2 2 -0.5 2 0 2 0.4 2 0.5 2 0.4 2 0.2 2 0.1 2 -0.3 2 -0.3 2 -0.3 2 -2.1 2 -3.4 2 1.3 2 3.8 2 3.9 2 3 2 -3.2 2 -3.9 2 -3.7 2 -0.9 2 4 2 2.9 2 0.5 2 -0.4 2 -1.2 2 -1.5 2 -1.1 2 -0.7 2 0.5 2 0.6 2 1.3 2 2.1 2 1.1 2 -0.4 2 -1 2 -0.5 2 -1.7 2 -1.6 2 -0.5 2 0.7 2 1 2 2.5 2 2.5 2 0.2 2 -2.6 2 -1.7 2 -1.3 2 -2.6 2 -1.1 2 2.8 2 3.4 2 1.2 2 0.5 2 1.5 2 -0.3 2 -3.1 2 -3.2 2 -0.1 2 0.8 2 -0.2 2 0 2 1.5 2 1.1 2 0 2 0.1 2 0.5 2 0.4 2 -0.3 2 -0.3 2 -0.8 2 -1 2 -0.8 2 -0.7 2 0 2 1.1 2 1.9 2 0.9 2 0.4 2 -0.6 2 -1.2 2 -1.5 2 -0.3 2 1 2 0.4 2 0.2 2 1.3 2 0.3 2 -1.6 2 -1.3 2 -0.2 2 -0.1 2 0.5 2 1.3 2 1.3 2 1 2 -0.9 2 -0.7 2 -0.6 2 -2.3 2 -2.1 2 1.6 2 2.1 2 0.8 2 1.2 2 1.4 2 -0.9 2 -1.4 2 -1.1 2 -1.3 2 -1 2 1 2 1.3 2 0.9 2 0.6 2 0.4 2 -0.6 2 -0.6 2 -0.5 2 -0.4 2 0.4 2 0.4 2 -0.9 2 -0.7 2 0.5 2 0.1 2 -0.1 2 1 2 1.1 2 0.3 2 0.7 2 -0.2 2 -1.8 2 -1.5 2 -0.5 2 -0.7 2 0.3 2 1.1 2 1.5 2 1.7 2 1.4 2 -1.3 2 -1.9 2 -1.8 2 -1.6 2 -0.4 2 1.5 2 1.8 2 2.2 2 2.1 2 0.2 2 -1.7 2 -3 2 -2.9 2 -1.4 2 0.5 2 1.9 2 2.8 2 2.2 2 1.1 2 -0.7 2 -1.8 2 -2.5 2 -1.2 2 -0.1 2 1.2 2 1.3 2 2.4 2 1.5 2 -1.8 2 -2.5 2 -2.5 2 -2.9 2 -0.8 2 2.8 2 4.1 2 4.5 2 3.5"/>
<path d="M280 895.2 l2 -1.5 2 -0.1 2 1.8 2 0.8 2 -0.5 2 0.5 2 0.4 2 -1 2 -0.8 2 0.2 2 -0.2 2 -0.5 2 0.6 2 1.5 2 0.8 2 0.2 2 -0.9 2 -0.9 2 -0.2 2 -0.3 2 -0.7 2 0.7 2 1.3 2 -0.4 2 -0.1 2 0.7 2 -0.4 2 -1.2 2 -0.8 2 -0.4 2 0.1 2 0.3 2 1.9 2 2.3 2 0.9 2 -1.5 2 -1.3 2 -1.3 2 -1.1 2 -0.1 2 -0.7 2 -0.5 2 1.2 2 1.4 2 0.9 2 2.5 2 2.5 2 -2.3 2 -2.4 2 -0.9 2 -2.4 2 -3.2 2 0.2 2 2.7 2 1.6 2 2.1 2 2.9 2 1.5 2 -2.3 2 -1.7 2 -1.5 2 -1.8 2 -0.6 2 0.5 2 0.6 2 1.1 2 1.4 2 0 2 -1.4 2 -0.7 2 -0.2 2 -0.5 2 -0.5 2 2 2 3.1 2 1 2 -1 2 -1.1 2 -0.8 2 -1.7 2 -1.5 2 -0.5 2 -0.2 2 0.2 2 1.3 2 1.9 2 0.8 2 -0.2 2 0.6 2 0.1 2 -0.8 2 -2.2 2 -2.1 2 0.7 2 2.1 2 1.4 2 1.2 2 2 2 0.4 2 -1.5 2 -2.4 2 -3 2 -3.4 2 -1.8 2 3.2 2 3.4 2 2.8 2 2.6 2 1 2 -3 2 -2.7 2 -1.3 2 -1.1 2 0.5 2 1.6 2 2.2 2 1.6 2 -0.9 2 -1.4 2 -1.6 2 -1.8 2 -1.1 2 1.5 2 1.4 2 0.7 2 0.7 2 0 2 -0.9 2 0.2 2 1.4 2 0.7 2 0 2 -0.8 2 -1.4 2 -1.1 2 -1.2 2 -1.1 2 1.4 2 2.2 2 1.2 2 0.7 2 -0.8 2 -1.5 2 -0.4 2 -0.1 2 0 2 0.4 2 1.6 2 1.4 2 -1 2 -1.1 2 -1.3 2 -1.6 2 -1.3 2 1.2 2 1.9 2 2.1 2 1.1 2 0.3 2 -0.8 2 -0.9 2 -1.9 2 -1.7 2 -0.8 2 0.8 2 1.3 2 1.3 2 0.8 2 0.7 2 0.2 2 -0.8 2 0.1 2 -0.2 2 -1.7 2 -1.4 2 0.2 2 0.1 2 -0.1 2 0.7 2 1.2 2 1.6 2 1.6 2 0.9 2 2.2 2 -0.9 2 -5.5 2 -6.8 2 -6.2 2 -0.1 2 8.4 2 10.3 2 9.2 2 3 2 -9.2 2 -10.9 2 -10.9 2 -7.2 2 9.1 2 11 2 11.1 2 9 2 -6.1 2 -10.5 2 -11.2 2 -10.1 2 1.7 2 10.4 2 11.6 2 10.1 2 1.7 2 -8.4 2 -11.1 2 -10.6 2 -4.8 2 7.8 2 9.3 2 9.6 2 6.7 2 -6.9 2 -7.5 2 -6 2 -4.2 2 3.8 2 4.1 2 1.6 2 -0.5 2 -1 2 0.3 2 0.6 2 0.6 2 0.5 2 0.1 2 -0.2 2 -0.7 2 -1.2 2 -0.2 2 0.6 2 0.1 2 -0.2 2 -0.1 2 -0.4 2 0.1 2 0.6 2 0.5 2 1 2 0.9 2 -1 2 -1.1 2 -0.4 2 -0.4 2 0 2 0.7 2 0.6 2 -0.1 2 -0.3 2 -0.4 2 -0.6 2 -1 2 -0.3 2 0.8 2 1.5 2 1.2 2 0.7 2 0.9 2 -0.3 2 -1.2 2 -2 2 -1.8 2 -0.9 2 1 2 1.6 2 1 2 0.5 2 0.9 2 0.1 2 -1.1 2 -1.1 2 -0.2 2 0 2 -0.4 2 -0.1 2 0.6 2 0.4 2 0.2 2 0.6 2 -1.5 2 -4 2 0.5 2 3.3 2 3.7 2 3.1 2 -2.7 2 -3.1 2 -3.1 2 -0.6 2 3.5 2 0.8 2 -1.8 2 -1.3 2 -1.3 2 0.9 2 1.7 2 1.6 2 1.4 2 1.3 2 -0.8 2 -1.5 2 -1.4 2 -1.4 2 -0.3 2 1.5 2 1.1 2 0.5 2 0.7 2 0 2 -0.7 2 -1.8 2 -1.3 2 0.2 2 0.9 2 1.4 2 2.1 2 0.8 2 -1.6 2 -1.2 2 -1.8 2 -1.7 2 0.1 2 1.6 2 1.9 2 1.5 2 1.1 2 -0.6 2 -1.7 2 -1.7 2 -1.2 2 -0.5 2 0.8 2 2.7 2 2.8 2 -0.1 2 -2.3 2 -1.5 2 -1.6 2 -1.8 2 -0.6 2 1.7 2 2 2 2.2 2 2 2 0 2 -1.9 2 -1.6 2 -1.3 2 -0.1 2 1.4 2 1.1 2 -0.3 2 -0.8 2 -0.9 2 -1.6 2 -1.7 2 1 2 1.6 2 2 2 2.4 2 2.3 2 -0.7 2 -2.9 2 -2.7 2 -1.6 2 -1.3 2 0.9 2 2.1 2 1.5 2 1.6 2 1.2 2 -1.9 2 -2.4 2 -1.7 2 -0.5 2 1.6 2 2.5 2 2.5 2 1.9 2 -1.5 2 -3.2 2 -3.5 2 -2 2 -0.8 2 2.2 2 2.8 2 2.2 2 1.5 2 0.9 2 -1.6 2 -2.4 2 -2.1 2 0.1 2 2.3 2 2.5 2 1.4 2 -1.8 2 1.3 2 -0.5 2 -5.8 2 -4.7 2 1.3 2 5.7 2 5.7 2 1.4 2 -0.5 2 -2.1 2 -3.3 2 -2.8 2 -1.9 2 -1 2 2.1 2 2.3 2 1.9 2 1.8 2 -0.5 2 -2.3 2 -1.2 2 -0.6 2 -1.2 2 0.4 2 1.1 2 0.8 2 1.3 2 1.4 2 0.8 2 -0.8 2 -0.9 2 -1.1 2 -1.6 2 -2.1 2 -0.8 2 2 2 1.6 2 0.3 2 0.1 2 0.8 2 1 2 0.4 2 -0.5 2 -0.4 2 -0.5 2 -1.1 2 -0.8 2 0 2 -0.2"/>
<path d="M280 908.9 l2 0.2 2 0.8 2 1.4 2 1 2 -1.2 2 -1.4 2 -0.6 2 -0.8 2 -1.8 2 -0.9 2 1.5 2 2.2 2 1.4 2 0.9 2 1.3 2 -0.8 2 -1.7 2 -2 2 -0.9 2 0.4 2 1.1 2 0 2 0.1 2 1 2 0.5 2 -0.8 2 -0.6 2 -0.4 2 -0.2 2 0.3 2 0.3 2 1.1 2 1.3 2 -0.3 2 -1.1 2 -1.6 2 -1.4 2 -0.5 2 1.1 2 0.9 2 1.6 2 1.5 2 -0.2 2 -1.7 2 -0.6 2 -0.3 2 -0.8 2 -0.1 2 0.6 2 1.1 2 1.3 2 1.2 2 -0.4 2 -1.4 2 -1.8 2 -1.2 2 -0.6 2 -1 2 0.5 2 1.5 2 1.3 2 1.2 2 1.9 2 2.1 2 0.5 2 -2 2 -1.9 2 -2.3 2 -3.5 2 -3.2 2 0.3 2 2.8 2 3.7 2 4.2 2 3.1 2 0.9 2 -2.5 2 -2.8 2 -4.3 2 -3.3 2 -1.5 2 2.1 2 2.7 2 3.4 2 2.9 2 2.3 2 -1.8 2 -3.6 2 -3.3 2 -2.1 2 -1 2 1.9 2 2.4 2 2.4 2 1.5 2 0.8 2 -1.3 2 -1.4 2 -1 2 -0.7 2 -0.6 2 -0.8 2 -0.2 2 0.8 2 2 2 1.4 2 0.7 2 -0.5 2 -1.5 2 -2.7 2 -1.7 2 0.2 2 1.6 2 1.9 2 2.6 2 3.3 2 0.5 2 -3.2 2 -3.8 2 -3 2 -2.6 2 -0.2 2 2.7 2 4.2 2 4 2 2.3 2 -1.7 2 -2.9 2 -3.8 2 -2.7 2 -1.1 2 1.9 2 2.2 2 3.2 2 2.6 2 0.5 2 -2.2 2 -2.6 2 -2.5 2 -1.9 2 0.5 2 2.2 2 2.4 2 0.8 2 -0.1 2 0.6 2 0.3 2 -0.6 2 -0.5 2 -0.6 2 -1.4 2 -1.8 2 -2.4 2 -1.3 2 2.1 2 3.6 2 2.6 2 2.2 2 3.7 2 -0.8 2 -4.4 2 -4.6 2 -2.3 2 -1.4 2 0.8 2 2.8 2 2.5 2 0.7 2 0.6 2 0.1 2 -1 2 -1.5 2 -1 2 -0.5 2 0.5 2 1 2 1.9 2 1.7 2 0 2 -2 2 -1.8 2 -0.9 2 0.6 2 2.1 2 1.3 2 -1.9 2 -2.7 2 -3.9 2 -0.6 2 4.4 2 5.6 2 5.2 2 1.6 2 -6.9 2 -6.6 2 -5.8 2 -3.9 2 7.1 2 8.5 2 7 2 4.6 2 -5.5 2 -8.5 2 -8.4 2 -5.7 2 2.9 2 8 2 8.7 2 7.5 2 -0.6 2 -7.9 2 -8.1 2 -7.4 2 -2.8 2 6.6 2 8.2 2 7.9 2 5.1 2 -5.9 2 -7.1 2 -6.2 2 -3.9 2 2 2 2.6 2 3.1 2 2.3 2 0.7 2 0.5 2 1.5 2 1 2 -1.6 2 -2.4 2 -2.1 2 -2.4 2 -2.1 2 2.1 2 3.6 2 2.6 2 1.3 2 0.2 2 -1.5 2 -1.7 2 -2.3 2 -2.1 2 -0.1 2 1.7 2 1.4 2 2.1 2 1.6 2 0 2 -1.2 2 -1.5 2 -2.1 2 -1.7 2 0.7 2 1.6 2 1.4 2 1.8 2 1.2 2 -0.9 2 -1 2 -1.1 2 -1.3 2 -0.7 2 0.2 2 0.3 2 0.2 2 -0.1 2 0.1 2 0.9 2 0.9 2 0 2 0 2 1.2 2 1.3 2 -0.7 2 -1.4 2 -1.4 2 -1.6 2 -1.6 2 -1 2 1.4 2 2 2 2.3 2 1.4 2 1.2 2 -1.2 2 -2.1 2 -1.8 2 -0.7 2 0.5 2 1.2 2 0.9 2 0.6 2 0.1 2 -0.3 2 -1.5 2 -1.5 2 -0.4 2 0.4 2 0.7 2 1.9 2 2 2 1.5 2 -0.7 2 -2 2 -2.4 2 -2.2 2 -2.2 2 0.9 2 2.6 2 2.7 2 2.6 2 2.1 2 -2 2 -2.7 2 -2.3 2 -1.6 2 0.6 2 2.1 2 1.3 2 0.9 2 -0.5 2 -1.4 2 -2.5 2 -1.3 2 2.5 2 2 2 1.1 2 2.4 2 0.6 2 -2.4 2 -3.4 2 -2.6 2 -1.2 2 1.9 2 1.3 2 1.2 2 2.5 2 1.4 2 -1.4 2 -1.5 2 -0.7 2 0.1 2 0.3 2 -0.1 2 -0.8 2 -0.5 2 0.2 2 0.2 2 -0.2 2 0.4 2 1.4 2 0.9 2 -0.4 2 -0.7 2 0.4 2 -0.6 2 -1.1 2 -0.5 2 0 2 -0.2 2 0 2 0.4 2 0.9 2 1.2 2 1.3 2 -0.5 2 -1.4 2 -0.9 2 -0.3 2 -0.4 2 0.5 2 0.5 2 -1.8 2 -2 2 2.6 2 4.7 2 3.9 2 -4.4 2 -5.1 2 -4.1 2 0.8 2 5.2 2 5.4 2 3.7 2 -4.7 2 -5.8 2 -3.8 2 1.2 2 2.7 2 0.6 2 0.7 2 0.9 2 0.2 2 0.6 2 0.2 2 -0.6 2 -0.8 2 -0.5 2 -0.3 2 -0.4 2 -0.3 2 3.4 2 1.4 2 -3.6 2 -3.9 2 0.2 2 4.9 2 4.4 2 -1.8 2 -4.8 2 -0.4 2 -0.6 2 -0.3 2 1.1 2 1.2 2 0.4 2 0.5 2 0.5 2 -0.5 2 -0.6 2 0.1 2 0.3 2 -0.1 2 -0.2 2 -0.3 2 -0.8 2 -0.8 2 0 2 1.1 2 0.5 2 -0.6 2 0.1 2 1.2 2 1 2 0 2 -1.3 2 -0.5 2 0.5 2 -0.6 2 -1.3 2 -0.3 2 0.9 2 0.7 2 0.5 2 0.4 2 -0.3 2 -0.3 2 0.2 2 0 2 -0.2"/>
<path d="M280 922.9 l2 1.4 2 2.2 2 1.7 2 -1.1 2 -2.5 2 -2.5 2 -1.4 2 -0.7 2 0.1 2 1.4 2 1.1 2 1.1 2 2 2 0.3 2 -1.9 2 -0.7 2 -0.6 2 -0.5 2 1.5 2 1 2 -1.3 2 -0.4 2 0.3 2 -1 2 -1.1 2 -0.1 2 0.6 2 0.8 2 1.2 2 1.2 2 0.8 2 -0.1 2 -0.7 2 -1.7 2 -1.3 2 -0.2 2 -0.3 2 0.5 2 0.6 2 0.6 2 0.8 2 0.1 2 -0.8 2 -0.5 2 0.1 2 0.3 2 0.1 2 -0.2 2 0.4 2 1 2 0.9 2 -0.8 2 -1.5 2 -0.2 2 0 2 -1.4 2 -0.7 2 1.1 2 1 2 0.7 2 0.7 2 -0.3 2 -0.1 2 0.3 2 -0.2 2 -0.7 2 -0.3 2 0.2 2 0 2 -0.6 2 0.3 2 0.8 2 0 2 -0.4 2 -0.1 2 -0.5 2 -0.3 2 0.4 2 0.1 2 0.5 2 1 2 0.4 2 -0.7 2 -1.3 2 -0.9 2 0.1 2 0.7 2 0.3 2 -0.1 2 0.6 2 1.1 2 -0.4 2 -1 2 0 2 0.8 2 0.2 2 -0.4 2 -0.5 2 -1.1 2 -1 2 0.2 2 0.6 2 1.2 2 1.9 2 0.6 2 -1.5 2 -0.8 2 -0.4 2 -1.1 2 -0.8 2 0.7 2 1.3 2 1.2 2 0.8 2 1.2 2 -0.2 2 -1.1 2 -1.9 2 -2 2 -1.4 2 -0.6 2 0.8 2 1.9 2 2.3 2 0.9 2 0.4 2 1.1 2 -0.1 2 -1.1 2 -1.9 2 -1 2 0.1 2 -0.6 2 -0.3 2 0.7 2 0 2 0.1 2 0.2 2 -0.5 2 0.4 2 1.5 2 1.2 2 0.2 2 -0.4 2 0 2 -0.4 2 -1.7 2 -1.6 2 -0.7 2 -0.1 2 0.6 2 1.4 2 2.2 2 1.5 2 0.5 2 -0.8 2 -1.1 2 -2.7 2 -2.3 2 -0.2 2 1.5 2 1 2 1.2 2 1.7 2 1.5 2 -0.8 2 -1.6 2 -0.8 2 -0.7 2 -0.4 2 0.4 2 0.3 2 0.2 2 0 2 -0.6 2 -0.4 2 0.7 2 1.1 2 0.1 2 0.2 2 -0.5 2 -0.7 2 0.3 2 1.2 2 1 2 -0.9 2 -2.2 2 -2.5 2 -0.7 2 1.8 2 2.4 2 3.1 2 1.9 2 -2.3 2 -2.8 2 -2.6 2 -2.5 2 2.1 2 2.8 2 2.8 2 2.3 2 -2.2 2 -2.8 2 -2.7 2 -2.8 2 1 2 3.9 2 3.9 2 3 2 0 2 -3.2 2 -4.2 2 -4.4 2 -2.1 2 2.4 2 4 2 4.2 2 3.6 2 -1.2 2 -1.8 2 -3.4 2 -3 2 -0.7 2 -0.5 2 0.8 2 2.2 2 2.1 2 2.8 2 2.4 2 -1.8 2 -2.9 2 -4.3 2 -3.6 2 -0.7 2 3.3 2 2.7 2 3.1 2 3.9 2 1.4 2 -3.4 2 -3.3 2 -2.6 2 -2.6 2 -1.4 2 2.5 2 2.9 2 2.1 2 1.9 2 1.6 2 -2.1 2 -2.2 2 -1.3 2 -1.6 2 -1.6 2 0.7 2 1.4 2 1.5 2 1.5 2 1.1 2 0.3 2 -1.2 2 -1.9 2 -1.1 2 -0.1 2 0.6 2 0.4 2 1.2 2 0.9 2 -0.2 2 -0.4 2 -1.2 2 -1.2 2 -0.1 2 0 2 0.4 2 0.7 2 0.6 2 0.9 2 1 2 0.1 2 -0.8 2 -0.3 2 -1.1 2 -1.4 2 -0.2 2 -0.1 2 0 2 0.1 2 1.4 2 1.7 2 0.2 2 0.1 2 0 2 -1 2 -1.6 2 -0.2 2 -0.2 2 -0.2 2 0.7 2 1.6 2 0.7 2 0.2 2 -0.3 2 -1.2 2 -1.4 2 -0.5 2 -0.7 2 -0.1 2 1 2 2.2 2 1.7 2 0.9 2 -0.5 2 -1.4 2 -1.5 2 -1.5 2 -1.4 2 -0.3 2 1.7 2 1.3 2 0.5 2 1.6 2 1.4 2 -1.2 2 -1.4 2 -0.8 2 -0.9 2 -0.8 2 0.3 2 1.1 2 0.4 2 -0.1 2 0.5 2 0.4 2 -0.1 2 -0.1 2 -0.2 2 0.3 2 0.6 2 -1.1 2 -1.7 2 -0.1 2 -0.3 2 -0.1 2 1.6 2 2 2 1 2 1 2 -1 2 -2.8 2 -2.1 2 -0.4 2 0.5 2 0.5 2 1.8 2 2.1 2 0.3 2 -1.8 2 -0.8 2 -0.8 2 0 2 1.2 2 1.2 2 1.1 2 -0.6 2 -1.8 2 -2.4 2 -2.5 2 -0.5 2 2.3 2 3.4 2 3.4 2 2.9 2 -0.7 2 -5.7 2 -4.4 2 1 2 3.4 2 4.6 2 -2.5 2 -3.8 2 -3.4 2 1.5 2 4.5 2 3.6 2 3 2 -5.3 2 -6.4 2 -3.5 2 2.9 2 4.3 2 2.9 2 2.4 2 -0.2 2 -2.4 2 -2 2 -2.5 2 -3.1 2 -0.1 2 2.9 2 2.3 2 2.2 2 2.4 2 -0.3 2 -2.3 2 -2.8 2 -2.9 2 -1.9 2 2.2 2 2.1 2 2.3 2 2.8 2 1.6 2 -2.4 2 -2.1 2 -1.7 2 -2 2 -1.6 2 1.7 2 2.2 2 1.5 2 1.2 2 1 2 -1.3 2 -2.8 2 -2.1 2 -0.1 2 1.2 2 1.2 2 2.8 2 2.8 2 -1 2 -2.6 2 -1.8 2 -2.1 2 -2.5 2 0.9 2 2.8 2 2.8 2 1.2 2 1 2 -1.7 2 -2.5 2 -0.7 2 -0.2 2 -0.1 2 0.7 2 1.8 2 1.5 2 0.1 2 -2.1 2 -1.1"/>
<path d="M280 934.8 l2 3.5 2 2.3 2 2.6 2 -0.3 2 -2.5 2 -2.9 2 -2.7 2 -3.1 2 -2.3 2 2.8 2 3.6 2 2.9 2 2.6 2 2.5 2 -1.8 2 -3 2 -3 2 -2.1 2 -1.5 2 1.5 2 2.5 2 2.3 2 1.2 2 -0.8 2 -1.5 2 -1.4 2 -1.4 2 -0.8 2 1.2 2 2.2 2 2.1 2 1.4 2 -0.9 2 -1.7 2 -2 2 -2 2 -0.7 2 1.7 2 1.4 2 1.4 2 1.2 2 -1 2 -1.5 2 -0.2 2 0.1 2 -0.2 2 0 2 0.3 2 0.6 2 0.6 2 -0.8 2 -0.4 2 1.3 2 0.7 2 -0.7 2 -0.6 2 -0.7 2 -0.8 2 -1.3 2 -1.4 2 1.2 2 2.4 2 1.8 2 1 2 0.2 2 -1.4 2 -1 2 -0.5 2 -0.6 2 -0.1 2 0.5 2 0.4 2 0.1 2 -0.2 2 -0.9 2 -1.4 2 0.3 2 1.8 2 2.1 2 1.1 2 -1.1 2 -1.8 2 -0.8 2 -0.5 2 -1.3 2 -0.2 2 0.9 2 2 2 2 2 1.2 2 0.2 2 -1.1 2 -1.9 2 -2.3 2 -2 2 -0.9 2 1.6 2 1.9 2 2.1 2 1.5 2 0.7 2 -0.8 2 -0.9 2 -1.2 2 -1.4 2 -0.6 2 0.2 2 0.3 2 0 2 0.7 2 1 2 0.3 2 -0.2 2 -0.1 2 -0.3 2 -0.7 2 0.2 2 0.5 2 0.2 2 0.9 2 0.2 2 -1.4 2 -1.1 2 0.5 2 -0.4 2 -0.5 2 0.8 2 0.8 2 0.1 2 0.2 2 -0.3 2 -0.9 2 -0.5 2 0.7 2 0.8 2 0.2 2 0.1 2 0.9 2 0.6 2 -0.6 2 -1.3 2 -1.5 2 -1.2 2 -0.9 2 0.8 2 1.3 2 2.1 2 2.6 2 1.5 2 -2.2 2 -1.8 2 -1.8 2 -2.6 2 -1.5 2 2 2 2.2 2 1.9 2 1.7 2 1.5 2 -0.8 2 -2 2 -1.9 2 -1.3 2 -1.7 2 -0.9 2 1.6 2 2 2 1.8 2 0.8 2 0.6 2 0.6 2 -0.5 2 -1.5 2 -2 2 -1.7 2 -1.6 2 1.1 2 2.6 2 2.8 2 1.2 2 -0.5 2 -1.2 2 -2.4 2 -2.6 2 -1.4 2 1.2 2 1.4 2 2.4 2 3 2 1.5 2 -1.7 2 -1.5 2 -1.8 2 -2.7 2 -1.6 2 2.3 2 2.1 2 1.8 2 1.6 2 -1.3 2 -2.1 2 -1.6 2 -1.4 2 0 2 0.9 2 1.6 2 3 2 1.8 2 -1.8 2 -1.8 2 -1.1 2 -1.1 2 -0.5 2 1 2 0.7 2 0.1 2 0.4 2 0.3 2 -1.1 2 -1 2 0.9 2 1.9 2 0.7 2 0.3 2 0 2 -0.5 2 -1.9 2 -2.3 2 -1.8 2 0.8 2 1.6 2 1.5 2 2.5 2 2.5 2 -0.6 2 -2.5 2 -1.5 2 -1.6 2 -2.7 2 -0.1 2 2.8 2 2.9 2 1.7 2 1.1 2 -1.8 2 -1.5 2 -1.4 2 -1.7 2 -1.3 2 0.2 2 0.7 2 2.6 2 3.7 2 2.2 2 -1.3 2 -2.4 2 -2.3 2 -2.7 2 -2.5 2 -0.6 2 1.7 2 2.9 2 3.9 2 3.4 2 2.7 2 -2.7 2 -4.3 2 -4 2 -3.4 2 -3.2 2 2.7 2 4.5 2 4.3 2 2.7 2 2 2 -2.3 2 -3.4 2 -4 2 -2.8 2 -0.3 2 3 2 3 2 1.9 2 1.4 2 -0.3 2 -1.9 2 -2.2 2 -0.6 2 -0.1 2 -0.3 2 0.6 2 0.5 2 0 2 -0.5 2 -0.3 2 1.2 2 1.8 2 1.2 2 1.1 2 0.2 2 -1.2 2 -3 2 -2.8 2 -2.1 2 -2.2 2 1.5 2 2.3 2 3.6 2 3.9 2 1.9 2 -0.1 2 -1.9 2 -2 2 -2.2 2 -1.4 2 -0.6 2 -0.9 2 -0.5 2 1.2 2 2.1 2 1.5 2 0.8 2 -0.5 2 -1.2 2 -1.3 2 -1.1 2 -0.1 2 1 2 1.5 2 1.3 2 1.4 2 1.6 2 -1 2 -1.9 2 -2.4 2 -2.2 2 -1.9 2 0.2 2 2.1 2 2.3 2 1.5 2 0.9 2 0.8 2 -1 2 -1.6 2 -1.2 2 -0.2 2 -0.4 2 -0.4 2 0.7 2 1 2 0.6 2 0.9 2 1.5 2 -0.6 2 -1.7 2 -1.4 2 -0.4 2 0 2 0.5 2 0.4 2 0.1 2 0 2 -0.8 2 -1 2 0.6 2 0.5 2 1.2 2 2.1 2 0.8 2 -1.2 2 -0.8 2 -0.8 2 -1.3 2 -0.8 2 0 2 0.5 2 0.3 2 0.9 2 1.3 2 0.7 2 -1.4 2 -1.9 2 -0.8 2 -0.1 2 0.3 2 0.4 2 1.8 2 2.6 2 2 2 -1.3 2 -2.4 2 -1.7 2 -1.8 2 -2 2 1.7 2 2.6 2 1.7 2 0.4 2 -1.3 2 -1.4 2 -1.8 2 -1.3 2 1.4 2 3 2 1.7 2 1 2 0.1 2 -1.9 2 -2 2 -0.9 2 0 2 0.9 2 0.4 2 0 2 -0.9 2 -1.5 2 -0.1 2 1.3 2 0.6 2 1 2 1.5 2 0.8 2 -0.2 2 -0.6 2 -0.8 2 -1 2 -1 2 -0.9 2 -0.7 2 -0.5 2 0 2 1.1 2 2.3 2 1.9 2 1.7 2 1.7 2 -1.6 2 -3.1 2 -3.2 2 -1.9 2 -1.6 2 0.7 2 2.1 2 3.2 2 2.1 2 1.4 2 1.4 2 -1.9 2 -2.5 2 -1.2 2 -0.5"/>
<path d="M280 950.2 l2 -2.3 2 -2.5 2 -1.6 2 2 2 3.1 2 2.6 2 1.7 2 0.9 2 0.4 2 -1.5 2 -1.3 2 -0.5 2 -0.1 2 -0.2 2 -0.7 2 -0.6 2 0 2 -0.8 2 -0.7 2 1.1 2 2.6 2 1.8 2 0.1 2 -0.8 2 -0.5 2 -1.3 2 -2.2 2 -1.7 2 1.3 2 2 2 2 2 1.4 2 -0.2 2 -1.4 2 -0.9 2 -2 2 -2.2 2 0 2 1.6 2 1.6 2 1.9 2 1.2 2 0.6 2 -1.1 2 -1.3 2 -0.9 2 -0.7 2 -0.9 2 -0.1 2 0.7 2 0.2 2 0.7 2 1.2 2 0.6 2 -0.6 2 -0.9 2 -0.6 2 -0.8 2 -0.2 2 0.9 2 1.2 2 1.1 2 0.5 2 -1 2 -0.8 2 -1.2 2 -1.9 2 -0.6 2 1.7 2 1.9 2 1.2 2 1.5 2 0.4 2 -2.1 2 -2.2 2 -1.3 2 -1.4 2 1.4 2 1.6 2 1.6 2 2.2 2 0.1 2 -2.1 2 -1.8 2 -1.7 2 -1.5 2 1.2 2 1.9 2 2.1 2 1.1 2 -0.4 2 -1.3 2 -0.1 2 0 2 -1.2 2 -0.8 2 0.7 2 0.8 2 -0.8 2 -1.1 2 0.4 2 1.2 2 -0.2 2 -0.6 2 1 2 1.5 2 0.8 2 0.3 2 -0.5 2 -1 2 -2.3 2 -1.8 2 -1.1 2 -0.2 2 1.3 2 2.9 2 3.2 2 2.3 2 -0.4 2 -2.3 2 -2.9 2 -3.3 2 -2.5 2 0.9 2 2.7 2 2.6 2 2.1 2 1.8 2 -0.1 2 -2.1 2 -1.9 2 -0.5 2 -0.7 2 -1.4 2 0 2 1.2 2 0.5 2 0.6 2 0.7 2 0.5 2 0.6 2 -0.4 2 -1.1 2 0 2 0 2 -1.6 2 -0.9 2 1.5 2 1.9 2 1.2 2 1 2 -1.2 2 -1.4 2 -1.4 2 -2 2 -1.6 2 1.5 2 1.3 2 1.1 2 2.2 2 1.8 2 0.2 2 -1.3 2 -1.1 2 -1.1 2 -0.8 2 -1.1 2 -1.2 2 0.2 2 1 2 0.3 2 1.2 2 1.6 2 0.9 2 1.3 2 -0.2 2 -1.6 2 -1.9 2 -2 2 -1.6 2 0.3 2 1.7 2 0.3 2 -0.4 2 1.8 2 1.8 2 1.7 2 1.7 2 -2 2 -4.1 2 -2.9 2 -2.3 2 1.2 2 4.2 2 4.7 2 3.1 2 -0.7 2 -4.7 2 -5.4 2 -4.3 2 0.2 2 4.7 2 5.1 2 4.6 2 1.9 2 -4.2 2 -4.5 2 -4.7 2 -3.4 2 3.6 2 4.8 2 4.4 2 3.3 2 -3.1 2 -4.8 2 -4.7 2 -3 2 2.7 2 4.2 2 4.1 2 3 2 -0.6 2 -3.1 2 -3.2 2 -2.3 2 -1.3 2 0.9 2 2.7 2 2.6 2 1.1 2 -0.9 2 -1.2 2 -1.5 2 -2.5 2 -0.5 2 2.5 2 2.3 2 1.4 2 0.7 2 -1.5 2 -2.1 2 -2 2 -1.5 2 1 2 2 2 2 2 1.5 2 1.3 2 -1.1 2 -2.2 2 -2.6 2 -1.2 2 -0.1 2 1.1 2 1.1 2 1.9 2 2 2 0.6 2 2.8 2 -3.8 2 -5.7 2 -4.7 2 4.3 2 5.7 2 3.3 2 -3.9 2 0.8 2 0 2 -1.5 2 -1.2 2 -0.9 2 -0.8 2 0.9 2 1.1 2 0.5 2 0.6 2 0.6 2 -0.6 2 -1.6 2 -0.7 2 0.7 2 0.2 2 -0.3 2 0.4 2 0.7 2 0.2 2 0.4 2 0 2 -0.6 2 -0.8 2 -1 2 -0.6 2 1.2 2 0.5 2 -0.3 2 1.1 2 1.9 2 1 2 -1.1 2 -1.2 2 -1.5 2 -1.7 2 -1.6 2 -0.8 2 1.1 2 2.2 2 3 2 2.6 2 1.1 2 -2.5 2 -1.9 2 -1.9 2 -2.6 2 -1.6 2 1.9 2 2 2 2 2 1.9 2 0.7 2 -1.6 2 -1.2 2 -0.9 2 -1.7 2 -1 2 2.1 2 1.5 2 0.2 2 0.7 2 -0.1 2 -1.4 2 -2.4 2 -1.6 2 1.3 2 1.5 2 2 2 2.5 2 1.9 2 -1.3 2 -2.3 2 -2.3 2 -1.9 2 -1.8 2 -0.3 2 1.3 2 2.3 2 2.3 2 0.1 2 -0.2 2 1.3 2 0.6 2 3.5 2 -3.4 2 -5.7 2 -5 2 4.4 2 5.4 2 2.7 2 -4.9 2 -0.6 2 -1.2 2 -1.1 2 0.9 2 0.7 2 1 2 2.1 2 1.8 2 0.9 2 -1 2 -2.2 2 -2.7 2 -1.3 2 -1 2 0 2 1.5 2 2.1 2 1.7 2 1.4 2 0.4 2 -1.1 2 -1.7 2 -1.8 2 -1.7 2 -1.8 2 0.9 2 2.4 2 2 2 0.6 2 0.9 2 1.5 2 -1 2 -1.2 2 -1.3 2 -1.6 2 -1 2 0.1 2 1 2 0.2 2 0.9 2 1.3 2 0.3 2 0 2 -0.2 2 -0.3 2 -0.6 2 -0.9 2 -0.8 2 -1 2 0.1 2 1.2 2 1.3 2 1.1 2 1.2 2 0.4 2 -1.2 2 -1.2 2 -1.2 2 -1.2 2 -0.9 2 0.5 2 0.9 2 0.8 2 1.2 2 1.1 2 0.6 2 -0.8 2 -1.1 2 0.2 2 -0.2 2 -1.5 2 -0.6 2 1.3 2 1 2 0.7 2 -0.4 2 -1 2 -1.1 2 -1.4 2 -0.5 2 1.6 2 1.1 2 1.1 2 2.6 2 1.8 2 -2.2 2 -2.2 2 -1.3 2 -1.8 2 -1.5 2 0.4 2 2 2 1.5 2 1.7"/>
<path d="M280 961.8 l2 0.9 2 1.6 2 1.2 2 1.4 2 1 2 -0.8 2 -1.8 2 -2 2 -0.9 2 0.1 2 1.3 2 1 2 0.7 2 0.4 2 -0.9 2 -2 2 -0.9 2 1.5 2 1.1 2 0.7 2 1.3 2 1.6 2 -0.8 2 -2.1 2 -1.4 2 -0.1 2 -0.2 2 -0.5 2 -0.4 2 0.3 2 0.7 2 0.7 2 0.4 2 0.5 2 0.8 2 -0.5 2 -0.9 2 0.4 2 -0.3 2 -0.6 2 0.6 2 0 2 -0.6 2 0.1 2 -0.3 2 -0.7 2 0.3 2 1.1 2 0.8 2 0.3 2 0.5 2 -0.5 2 -0.9 2 -0.7 2 -0.6 2 -1 2 0 2 0.8 2 1.1 2 1.1 2 0.5 2 -0.4 2 -0.7 2 0.1 2 0.4 2 0 2 -0.6 2 -0.6 2 -0.2 2 -0.4 2 -0.9 2 -0.1 2 0.7 2 0.5 2 0 2 0.4 2 1.7 2 2.1 2 0.3 2 -1.8 2 -1.6 2 -1.2 2 -1.4 2 -0.9 2 1.3 2 1.2 2 0.3 2 0.7 2 1 2 0.1 2 -0.5 2 -0.4 2 -0.9 2 -1 2 -1.4 2 -0.3 2 1.5 2 2.3 2 1.9 2 1.7 2 0.4 2 -1.6 2 -2.3 2 -2.6 2 -2.1 2 -1.6 2 -0.2 2 1.4 2 2.4 2 2.7 2 1.8 2 1.5 2 1.8 2 -0.5 2 -1.7 2 -1.8 2 -1.8 2 -2.5 2 -3.4 2 -3.6 2 1 2 3.5 2 4.1 2 4.3 2 3.7 2 1.9 2 -2.2 2 -2.6 2 -3.2 2 -3.3 2 -2.5 2 -2.2 2 -0.2 2 2.6 2 2.7 2 2.8 2 3.6 2 2.4 2 -2.2 2 -3 2 -2.7 2 -2.8 2 -2.7 2 1.3 2 3.5 2 3.6 2 1.8 2 1.4 2 -1.4 2 -2.1 2 -2.1 2 -2.3 2 -1.6 2 2.1 2 2.4 2 0.4 2 -0.5 2 -0.7 2 -1.6 2 -0.2 2 1.3 2 1.4 2 1.5 2 1.4 2 0.4 2 -0.7 2 -1.3 2 -2.4 2 -2.6 2 -2.2 2 1.4 2 3.7 2 2.4 2 0.6 2 -0.2 2 -1.2 2 -2.6 2 -2.6 2 2 2 3.2 2 1.1 2 -0.2 2 -0.9 2 -2.5 2 -1.1 2 0.6 2 2.7 2 3.5 2 -0.2 2 -2.5 2 -3.1 2 -4.1 2 -0.4 2 3 2 3.7 2 4 2 0.6 2 -3.4 2 -3.7 2 -3.1 2 -0.3 2 4.5 2 4.7 2 3.1 2 0 2 -5.1 2 -5.3 2 -5.2 2 -2.2 2 4.7 2 5.9 2 6 2 4.6 2 -2.6 2 -5.5 2 -5.6 2 -4.6 2 0.4 2 3.3 2 4.8 2 3.7 2 0.1 2 -0.6 2 -1.9 2 -1.9 2 -1.4 2 -1.9 2 -1.2 2 2.3 2 2 2 1.1 2 0.9 2 -1.1 2 -1.8 2 -1.2 2 1.1 2 2 2 1.5 2 0.7 2 -0.9 2 -1.4 2 -1.7 2 -0.9 2 -0.5 2 -0.3 2 0.7 2 0.6 2 0.7 2 1.1 2 1 2 0.4 2 0.7 2 0 2 -0.7 2 -2.4 2 -2.6 2 -1.2 2 1.8 2 6.5 2 -1.6 2 -3.9 2 -3.5 2 3.8 2 4.4 2 1.9 2 -6.3 2 -2 2 0.6 2 1.1 2 1.8 2 1.5 2 0.2 2 -1.4 2 -1.2 2 -1.4 2 -0.8 2 1.5 2 2.3 2 2 2 1.2 2 -1.2 2 -1.3 2 -3.3 2 -4 2 -1.6 2 3 2 3.6 2 4 2 2.8 2 -0.4 2 -2.6 2 -3.1 2 -4.2 2 -2.2 2 1.6 2 2 2 2 2 2.5 2 1.6 2 0.2 2 -0.9 2 -1 2 -1.6 2 -0.6 2 -0.2 2 -0.4 2 0.4 2 0.4 2 -0.4 2 -0.3 2 -0.1 2 -1.8 2 -1.9 2 1.4 2 3.1 2 2.5 2 2.5 2 3.2 2 -1.1 2 -3.7 2 -4.3 2 -3.3 2 -2.5 2 0.2 2 2.8 2 4.3 2 3.3 2 1.2 2 -0.8 2 -2 2 -3.3 2 -2 2 -0.3 2 1.3 2 1.6 2 2 2 0.8 2 -1.1 2 -1.2 2 -0.5 2 -0.3 2 -0.1 2 0.3 2 1.6 2 1.8 2 1.7 2 -0.8 2 -1.4 2 -1.6 2 -1.9 2 3.7 2 -3.6 2 -4.4 2 -3.3 2 6.1 2 7.3 2 5.3 2 -1.5 2 -1.7 2 -3 2 -4.1 2 -3 2 -1 2 0.2 2 2.3 2 2.4 2 0.9 2 -1.4 2 -1.5 2 -2.3 2 0 2 2.3 2 3.3 2 3.3 2 2.7 2 -2.8 2 -3.4 2 -2.9 2 -3 2 -1.9 2 3.5 2 2.7 2 0.7 2 1.2 2 0.2 2 -1.6 2 -1.5 2 0.5 2 1.4 2 1 2 0.3 2 -1 2 -1.5 2 -1 2 -1.1 2 -0.4 2 1.4 2 1.7 2 1 2 0.9 2 -0.1 2 -1.4 2 -1.5 2 -0.7 2 0.6 2 0.9 2 1.6 2 0.6 2 -1.4 2 -1.5 2 -0.9 2 -0.9 2 0.4 2 1 2 2 2 2.5 2 1.6 2 -2.3 2 -1.7 2 -1.1 2 -2.3 2 -1.7 2 1.7 2 1.6 2 1.6 2 1.2 2 -0.7 2 -1.7 2 -0.7 2 -0.8 2 0.4 2 1.3 2 1.8 2 1.6 2 1.4 2 -1.2 2 -2 2 -2.1 2 -1.3 2 -0.7 2 -1.2 2 0.4 2 1.3 2 1.5 2 1 2 1.1 2 1.9 2 1.5 2 -1.4 2 -1.7 2 -1.1 2 -1.3"/>
<path d="M280 978.7 l2 1.9 2 3.2 2 0.7 2 -1.9 2 -3.2 2 -3.4 2 -2.9 2 -1.8 2 2.9 2 3.3 2 3.1 2 3.4 2 2.6 2 -2.3 2 -4.2 2 -4.5 2 -4 2 -3.4 2 3.4 2 4.7 2 4.3 2 3.5 2 3.1 2 -1.4 2 -3.2 2 -3.8 2 -3.7 2 -2.4 2 -1 2 2.4 2 2.8 2 3 2 2.7 2 1.9 2 -1.3 2 -1.7 2 -2.7 2 -4.4 2 -3.4 2 -0.3 2 2.8 2 4.3 2 5.5 2 4.5 2 1 2 -4.2 2 -5.8 2 -5 2 -3.9 2 -1.8 2 3.5 2 5.8 2 6.4 2 4.6 2 -0.7 2 -4.8 2 -4.3 2 -4.3 2 -4.2 2 0.2 2 4.2 2 3.9 2 3.4 2 3.1 2 1 2 -3.1 2 -3.6 2 -3 2 -3 2 -1.8 2 3 2 3.1 2 2.4 2 2.5 2 1.7 2 -2.3 2 -1.9 2 -1.3 2 -1.7 2 -1.4 2 0.8 2 1.7 2 0.2 2 -0.8 2 -0.2 2 0.5 2 0.9 2 1.6 2 1.7 2 0.1 2 -1.5 2 -1.6 2 -2 2 -2.5 2 -1.4 2 2.2 2 2.7 2 2.8 2 3.4 2 1.9 2 -3.1 2 -4.7 2 -3.9 2 -3.2 2 0.7 2 3.5 2 3.7 2 3.7 2 2.6 2 -2.4 2 -3.6 2 -2.1 2 -1.4 2 -1 2 1.5 2 3 2 2.7 2 0 2 -2.4 2 -2.4 2 -1.8 2 -0.9 2 1.7 2 1.3 2 1.4 2 2.4 2 2.4 2 -1.1 2 -2.5 2 -1.7 2 -1.3 2 -2.5 2 -2.2 2 2.2 2 2.4 2 2 2 1.9 2 1.2 2 0.9 2 -0.4 2 -1.2 2 -2.7 2 -2.1 2 -1.4 2 -2 2 0.6 2 2.6 2 3.4 2 2.1 2 0.9 2 -1.2 2 -1.8 2 -2.3 2 -2.1 2 -0.8 2 2.1 2 3 2 1.8 2 0.8 2 -1 2 -2 2 -3.3 2 -2.4 2 0.1 2 2.1 2 2 2 2.6 2 3 2 1.3 2 -2.9 2 -2.8 2 -1.8 2 -2.5 2 -1.8 2 2.7 2 2.1 2 1.1 2 2.5 2 2.4 2 -2.4 2 -2.9 2 -0.9 2 0.7 2 1 2 -0.1 2 -1 2 -2.9 2 -4 2 2.7 2 5.8 2 5.2 2 4.2 2 -2.7 2 -7.6 2 -7.4 2 -4.9 2 0.9 2 7.4 2 8 2 7.5 2 1.4 2 -7.3 2 -7.9 2 -7.1 2 -3.6 2 6.1 2 7.6 2 7.2 2 4.4 2 -5.8 2 -7.1 2 -7.4 2 -5.8 2 5.2 2 6.9 2 6.8 2 5.6 2 -2.8 2 -5.4 2 -4.6 2 -3 2 2 2 2.6 2 1 2 -0.7 2 -2 2 -1.9 2 0.6 2 1.6 2 1.7 2 1.1 2 0.6 2 0.1 2 -0.6 2 -0.7 2 -0.4 2 -0.2 2 -0.3 2 0.3 2 0.5 2 -0.2 2 -0.3 2 -0.3 2 -0.6 2 -0.2 2 0.7 2 0.2 2 0.5 2 1.1 2 -0.1 2 -1 2 -0.7 2 -0.6 2 -1 2 0.4 2 1 2 1.5 2 1.6 2 4 2 -3.5 2 -5.5 2 -4.9 2 3.9 2 5.3 2 3.2 2 -3.7 2 0.7 2 0.5 2 -0.6 2 -1.3 2 -2.5 2 -1.5 2 1 2 1.6 2 1.3 2 1.4 2 0.8 2 -1.4 2 -1.3 2 -0.6 2 0 2 0 2 0.1 2 0.2 2 0.1 2 -0.1 2 -0.8 2 -0.1 2 0.5 2 1.1 2 1.7 2 0.9 2 -1.8 2 -1.1 2 -0.5 2 -1 2 -0.3 2 1.2 2 1.1 2 0.8 2 -0.2 2 -1.7 2 -1.8 2 -0.1 2 1.2 2 0.1 2 1.9 2 3 2 0.2 2 -2.4 2 -2.1 2 -1.3 2 -0.8 2 0.2 2 0.9 2 2.3 2 1.4 2 -0.8 2 -1.2 2 -0.6 2 -1 2 0.3 2 1 2 1 2 1.4 2 -0.1 2 -1.6 2 -2.3 2 -1.7 2 0.2 2 1.7 2 2.6 2 2.6 2 1.4 2 -2.1 2 -2.8 2 -3.2 2 -3.5 2 0.4 2 4.1 2 4.2 2 3.1 2 2.3 2 -2.4 2 -4 2 -5.2 2 -3.6 2 1.6 2 3.6 2 3.7 2 4.1 2 2.8 2 -3.4 2 -4 2 -3.8 2 -3.5 2 -1 2 3.3 2 3.7 2 3 2 2.8 2 1 2 -2.9 2 -2.8 2 -2.2 2 -1.3 2 0.2 2 1.7 2 1.1 2 0.7 2 -0.1 2 -0.9 2 -0.8 2 -1.1 2 0 2 1.2 2 2.1 2 1.5 2 1.1 2 -1 2 -2 2 -1.9 2 -0.8 2 -0.6 2 0.7 2 1.1 2 0.7 2 0.9 2 1.3 2 -0.8 2 -2.1 2 -1.6 2 -0.3 2 1 2 1.3 2 1.8 2 1.9 2 1 2 -1.1 2 -2.6 2 -2.8 2 -1.9 2 -1.1 2 1.4 2 1.7 2 2.6 2 2.6 2 2.2 2 -0.6 2 -2.4 2 -2 2 -2.2 2 -2.3 2 -1.7 2 1.3 2 2.1 2 3 2 3.1 2 2.4 2 -0.1 2 -2.5 2 -3.3 2 -2.9 2 -2.2 2 -1.1 2 2.1 2 3.3 2 2.7 2 1.3 2 0.7 2 -1.4 2 -2.2 2 -2.2 2 -0.6 2 1 2 0.4 2 0.4 2 1 2 1 2 0.2 2 -1.2 2 -0.9 2 0.4 2 -0.4 2 -1.8 2 -0.7 2 1.5 2 2.1 2 1.4 2 0.5 2 -0.1 2 -0.3"/>
<path d="M280 989.7 l2 0.4 2 1.3 2 2 2 1.5 2 0.6 2 -0.7 2 -0.8 2 -2.4 2 -2.5 2 -0.4 2 1.8 2 1.2 2 1.1 2 1.7 2 0.4 2 -1.4 2 -0.4 2 -1 2 -1.2 2 0.3 2 0.9 2 -0.3 2 0.1 2 1.1 2 0.8 2 -0.8 2 -1.4 2 -0.5 2 -0.5 2 0.1 2 1.3 2 1.9 2 0.4 2 0.1 2 -0.2 2 -1.2 2 -1.7 2 -1 2 -1.5 2 0.2 2 1.9 2 2.3 2 1.6 2 1.4 2 0.7 2 -1.2 2 -2.3 2 -3.2 2 -3 2 -2 2 2.2 2 2.4 2 2.5 2 4 2 4.5 2 -0.5 2 -4.1 2 -3.7 2 -4.6 2 -5 2 0.8 2 4.8 2 4.2 2 4.2 2 3.9 2 0.1 2 -3.5 2 -4.2 2 -4.6 2 -3.7 2 -1.3 2 3 2 3.6 2 4.1 2 2.4 2 0.5 2 -0.5 2 -1.1 2 -2.2 2 -2.3 2 -1 2 0.2 2 0.1 2 0.2 2 0.4 2 0.3 2 0.7 2 0.9 2 1.1 2 1.5 2 0.1 2 -1.7 2 -2.5 2 -1.8 2 -0.8 2 0.7 2 1.2 2 2.2 2 2.1 2 0.8 2 -1.5 2 -1.5 2 -1 2 -0.9 2 -1.3 2 0.6 2 1.8 2 2.3 2 1 2 -1.5 2 -1.3 2 -1 2 -1.6 2 -0.9 2 1.6 2 2.4 2 0.8 2 0.5 2 1 2 -0.6 2 -1.7 2 -1.1 2 -0.1 2 -0.9 2 -1.5 2 -0.5 2 1.3 2 1 2 0.8 2 2 2 2.6 2 0.8 2 -2.1 2 -2.5 2 -2.2 2 -1.9 2 -1.3 2 1.6 2 2.6 2 3.3 2 2.2 2 -1.2 2 -2.4 2 -1.9 2 -1.8 2 -1.2 2 1.5 2 1.4 2 1.7 2 1.6 2 -0.4 2 -1.6 2 -0.7 2 -1 2 -0.7 2 1 2 1.4 2 1.2 2 0.8 2 -1.2 2 -1.2 2 -0.7 2 -0.3 2 -0.3 2 -0.5 2 0.1 2 0.7 2 0.9 2 0.7 2 0.7 2 0.6 2 -0.7 2 -1 2 -0.5 2 -0.3 2 -0.7 2 0.2 2 0.5 2 -0.4 2 -1.5 2 0.3 2 2.5 2 5.1 2 7 2 -2 2 -8.4 2 -10.9 2 -10.9 2 2.2 2 11.6 2 14.4 2 12.8 2 -1.3 2 -12.7 2 -14 2 -12.5 2 -1.5 2 12.2 2 14.2 2 12.9 2 3.2 2 -12.5 2 -14.1 2 -13.3 2 -6.2 2 12.7 2 15.2 2 13.6 2 8.8 2 -11.8 2 -14.7 2 -15 2 -11.2 2 10.9 2 14.2 2 13.9 2 10.7 2 -7.6 2 -12.3 2 -10.1 2 -7 2 3.1 2 7 2 5.9 2 2.2 2 -1.8 2 -1.8 2 -0.3 2 -0.1 2 -0.8 2 0.1 2 0.5 2 0.9 2 1 2 0.2 2 -0.6 2 -1.2 2 -1.4 2 -1.3 2 -1.3 2 -0.1 2 1 2 2.3 2 2.7 2 1.9 2 1.7 2 -0.6 2 -2.3 2 -3.1 2 -2.5 2 -2.7 2 -2.1 2 2.2 2 3.5 2 3.7 2 3.2 2 2.2 2 -1.7 2 -2.9 2 -3.8 2 -3.3 2 -2.2 2 1.6 2 3 2 3.8 2 2.5 2 0.8 2 -1.8 2 -2.9 2 -2.8 2 -0.9 2 0.7 2 1 2 1.7 2 1.8 2 0.5 2 -1.6 2 -0.9 2 -0.2 2 0.2 2 0.8 2 -0.3 2 -0.7 2 -0.3 2 -0.7 2 -0.3 2 0.9 2 1.1 2 1 2 -0.1 2 -1.4 2 -0.8 2 0.2 2 0.6 2 0.5 2 1.1 2 1.3 2 -0.4 2 -1.3 2 -1.5 2 -1.3 2 -1.7 2 -1.5 2 1.3 2 1.2 2 2.1 2 2.9 2 2.2 2 1.2 2 -1.7 2 -1.8 2 -2.7 2 -2.5 2 -1.4 2 0 2 1.8 2 1.3 2 0.8 2 1.2 2 0.7 2 -1 2 -0.7 2 0.7 2 0.7 2 0.1 2 -0.3 2 -0.2 2 0.1 2 -0.3 2 -1.3 2 -1.5 2 -1.2 2 -1.6 2 0.5 2 1.6 2 2.6 2 3.1 2 3 2 1.7 2 -2.4 2 -2.8 2 -2.6 2 -2.8 2 -3 2 -1.6 2 2.8 2 3.1 2 2.4 2 2.3 2 2 2 -1.4 2 -2.7 2 -2.1 2 -0.8 2 0.5 2 0.9 2 1.5 2 1.4 2 -0.8 2 -1.3 2 -1.1 2 -0.9 2 -0.7 2 0.9 2 1.2 2 1.1 2 0.9 2 -0.5 2 -1.5 2 -0.9 2 0.3 2 0.5 2 -0.6 2 0.9 2 2.2 2 1.2 2 -0.7 2 -0.8 2 -1.7 2 -2.6 2 -1.3 2 0.9 2 1.2 2 0.8 2 1.5 2 1.1 2 -0.5 2 -0.8 2 0 2 0.3 2 0.2 2 0.8 2 0.1 2 -1 2 -1 2 -1 2 -1.2 2 -0.4 2 1.2 2 1.1 2 0.9 2 0.6 2 0.3 2 0.4 2 -0.1 2 -0.4 2 -0.8 2 -0.9 2 -1.3 2 -1.4 2 1.4 2 1.7 2 0.5 2 1.2 2 2.2 2 -0.6 2 -1.8 2 -2.2 2 -1.9 2 -1 2 1 2 1.5 2 1 2 0.8 2 1.4 2 1.8 2 -0.4 2 -1.9 2 -1.9 2 -1.2 2 -1.1 2 -0.6 2 0.7 2 1.3 2 2 2 1.5 2 1.1 2 0.1 2 -1.7 2 -1.3 2 -1 2 -1.8 2 -1.6 2 1.3 2 1.5 2 0.8 2 0.9 2 1.5 2 1.4 2 -0.5 2 -1.6 2 -0.7"/>
<path d="M280 1003.6 l2 -0.3 2 0.8 2 0.9 2 1.6 2 1.5 2 -0.2 2 -1.7 2 -0.3 2 0.4 2 -0.8 2 -0.2 2 1 2 1 2 0.8 2 -0.2 2 -1 2 -1.2 2 -1.2 2 -1.4 2 0.6 2 1.8 2 1.2 2 1.1 2 0.7 2 -1.2 2 -1.6 2 -1.6 2 -0.8 2 1.2 2 1.9 2 2.1 2 2.1 2 -0.4 2 -2.5 2 -2.7 2 -2.2 2 -2 2 1.2 2 2.3 2 2.7 2 2.5 2 1.5 2 -2 2 -2.4 2 -2 2 -1.9 2 0.1 2 2.2 2 2.5 2 2.2 2 0 2 -2.2 2 -2.2 2 -2.3 2 -1.5 2 1.8 2 2.3 2 2.9 2 2.8 2 -0.7 2 -2.9 2 -2.2 2 -2.4 2 -2.8 2 1.5 2 3.1 2 2.7 2 2.2 2 1.2 2 -2.2 2 -2.5 2 -1.7 2 -1.4 2 0.2 2 1.9 2 1.1 2 0.2 2 0 2 -1 2 -0.6 2 1.7 2 1.7 2 0.3 2 -0.1 2 -0.6 2 -1.1 2 -2.2 2 -2.7 2 -1.5 2 2.4 2 2 2 1.1 2 1.9 2 2.1 2 0.6 2 -2 2 -1 2 -0.4 2 -0.7 2 -1.4 2 -1.3 2 -1.1 2 -1 2 0.8 2 1.8 2 2.8 2 2.7 2 1.8 2 -0.1 2 -1.8 2 -3.2 2 -3.6 2 -2.8 2 0.4 2 3.2 2 2.7 2 2.6 2 2.8 2 -1.1 2 -3.3 2 -2.5 2 -2.3 2 -2.4 2 1.9 2 2.9 2 3 2 3.3 2 1.1 2 -3.2 2 -2.9 2 -2.3 2 -2.9 2 -0.3 2 3.2 2 2.4 2 1.9 2 2.2 2 -0.8 2 -2.6 2 -2 2 -1.5 2 -0.9 2 1.3 2 1.7 2 2.4 2 1.6 2 -0.8 2 -1.6 2 -1.1 2 -1.6 2 -2.3 2 -0.2 2 1.8 2 2.4 2 2.2 2 1.7 2 -0.2 2 -1.7 2 -2.3 2 -2.4 2 -1.6 2 1.3 2 2.1 2 1.3 2 0.7 2 1.1 2 -0.3 2 -1.6 2 -1.2 2 -0.2 2 -0.5 2 0.2 2 0.7 2 1.4 2 0.5 2 -0.9 2 -0.3 2 -0.5 2 -1 2 -1 2 0.4 2 2.1 2 4.3 2 4.8 2 -1.8 2 -6.2 2 -8.2 2 -8.3 2 2.4 2 9 2 10.5 2 9.6 2 -0.5 2 -9.6 2 -11.2 2 -10.4 2 -1.2 2 9.3 2 10.9 2 10.2 2 3.2 2 -9.1 2 -10.5 2 -9.8 2 -5.3 2 8.1 2 11 2 10.8 2 7 2 -8.6 2 -10.4 2 -10.5 2 -8.8 2 6.8 2 10.4 2 10.2 2 7.8 2 -4.5 2 -8.1 2 -8.2 2 -5.3 2 2.5 2 4.4 2 3.5 2 1.4 2 -0.4 2 0.3 2 0.6 2 0.4 2 -0.8 2 -1.5 2 -1.3 2 -1.2 2 -1.4 2 -0.1 2 0.9 2 2.2 2 3 2 2.5 2 1.5 2 -2 2 -3.3 2 -3.3 2 -4 2 -4 2 3 2 4.9 2 5.1 2 3.6 2 2.9 2 -1.7 2 -4.1 2 -5 2 -3.4 2 -2.6 2 1.4 2 3.7 2 3.3 2 2 2 1.2 2 -1.3 2 -2 2 -2.5 2 -1.1 2 1.8 2 1.3 2 0.6 2 0.6 2 -1 2 -1.6 2 -1 2 -0.1 2 0.7 2 1.2 2 1.8 2 2.1 2 0 2 -1.9 2 -1.5 2 -1.1 2 -1.1 2 -1.2 2 -0.4 2 1 2 1.7 2 2.2 2 1.1 2 0.4 2 -0.4 2 -0.9 2 -1.7 2 -1.5 2 -1.2 2 0.5 2 1.8 2 1.6 2 0.9 2 0.2 2 -0.9 2 -1.4 2 -1.6 2 -1.3 2 1 2 1.6 2 2.1 2 2 2 -1.2 2 -2.4 2 -1.9 2 -1.8 2 0.4 2 2.2 2 2.8 2 2.5 2 0 2 -2.3 2 -2.2 2 -2.9 2 -2.5 2 2.7 2 3.1 2 1.6 2 1.3 2 -0.2 2 -1.8 2 -3 2 -2.2 2 1.2 2 2 2 2.8 2 2.7 2 0.8 2 -2 2 -2.3 2 -3.4 2 -3 2 -1.5 2 1.9 2 2.1 2 3.8 2 3.5 2 1.7 2 0.1 2 -1.8 2 -2.2 2 -3.5 2 -4.5 2 -3.4 2 2.7 2 4 2 3.6 2 3.6 2 2.9 2 -1.6 2 -3 2 -3.5 2 -4.1 2 -2.9 2 2.3 2 3.7 2 2.7 2 1.6 2 1.3 2 -0.9 2 -1.9 2 -2.7 2 -1.7 2 1.2 2 2 2 1.9 2 1.3 2 -1.5 2 -2.3 2 -2.8 2 -2.8 2 0.3 2 2.5 2 4.8 2 4.1 2 2.3 2 -1.3 2 -3.4 2 -4.4 2 -3.4 2 -2.6 2 1.4 2 3.7 2 3.6 2 2.6 2 1.5 2 -2.3 2 -3.6 2 -3.3 2 -2.2 2 1.5 2 2.9 2 3.3 2 3 2 0.4 2 -3.1 2 -2.8 2 -2.7 2 -2.9 2 2 2 3.9 2 3.5 2 2.1 2 -0.3 2 -2.2 2 -3.7 2 -3.8 2 -2.4 2 2.5 2 3 2 2.7 2 3.2 2 2 2 -2.8 2 -2.9 2 -2.5 2 -2.4 2 -0.7 2 2.7 2 2.2 2 1.5 2 2.3 2 1.1 2 -2.4 2 -2.9 2 -1.6 2 -1 2 -1.2 2 1 2 2.8 2 2.6 2 0.7 2 0.4 2 -0.9 2 -1.5 2 -1.3 2 -0.7 2 -1.3 2 0.7 2 1.6 2 0.4 2 -0.1 2 -0.4 2 -1.5 2 0.4 2 1.8 2 1.1 2 0.6"/>
</g>
<rect x="279.2" y="550.3" width="905.6" height="470.2" fill="none" stroke="#111" stroke-width="1.6"/>
<path d="M279 564.2 L283.5 564.2 M1180.5 564.2 L1185 564.2 M279 578 L283.5 578 M1180.5 578 L1185 578 M279 591.8 L283.5 591.8 M1180.5 591.8 L1185 591.8 M279 605.6 L283.5 605.6 M1180.5 605.6 L1185 605.6 M279 619.4 L283.5 619.4 M1180.5 619.4 L1185 619.4 M279 633.2 L283.5 633.2 M1180.5 633.2 L1185 633.2 M279 647.1 L283.5 647.1 M1180.5 647.1 L1185 647.1 M279 660.9 L283.5 660.9 M1180.5 660.9 L1185 660.9 M279 674.7 L283.5 674.7 M1180.5 674.7 L1185 674.7 M279 688.5 L283.5 688.5 M1180.5 688.5 L1185 688.5 M279 702.3 L283.5 702.3 M1180.5 702.3 L1185 702.3 M279 716.1 L283.5 716.1 M1180.5 716.1 L1185 716.1 M279 729.9 L283.5 729.9 M1180.5 729.9 L1185 729.9 M279 743.7 L283.5 743.7 M1180.5 743.7 L1185 743.7 M279 757.5 L283.5 757.5 M1180.5 757.5 L1185 757.5 M279 771.4 L283.5 771.4 M1180.5 771.4 L1185 771.4 M279 785.2 L283.5 785.2 M1180.5 785.2 L1185 785.2 M279 799 L283.5 799 M1180.5 799 L1185 799 M279 812.8 L283.5 812.8 M1180.5 812.8 L1185 812.8 M279 826.6 L283.5 826.6 M1180.5 826.6 L1185 826.6 M279 840.4 L283.5 840.4 M1180.5 840.4 L1185 840.4 M279 854.2 L283.5 854.2 M1180.5 854.2 L1185 854.2 M279 868 L283.5 868 M1180.5 868 L1185 868 M279 881.8 L283.5 881.8 M1180.5 881.8 L1185 881.8 M279 895.6 L283.5 895.6 M1180.5 895.6 L1185 895.6 M279 909.5 L283.5 909.5 M1180.5 909.5 L1185 909.5 M279 923.3 L283.5 923.3 M1180.5 923.3 L1185 923.3 M279 937.1 L283.5 937.1 M1180.5 937.1 L1185 937.1 M279 950.9 L283.5 950.9 M1180.5 950.9 L1185 950.9 M279 964.7 L283.5 964.7 M1180.5 964.7 L1185 964.7 M279 978.5 L283.5 978.5 M1180.5 978.5 L1185 978.5 M279 992.3 L283.5 992.3 M1180.5 992.3 L1185 992.3 M279 1006.1 L283.5 1006.1 M1180.5 1006.1 L1185 1006.1 M460.2 550.3 L460.2 556 M460.2 1020.5 L460.2 1014.8 M641.4 550.3 L641.4 556 M641.4 1020.5 L641.4 1014.8 M822.6 550.3 L822.6 556 M822.6 1020.5 L822.6 1014.8 M1003.8 550.3 L1003.8 556 M1003.8 1020.5 L1003.8 1014.8" stroke="#111" stroke-width="1.4" fill="none"/>
<g font-family='"Liberation Sans", sans-serif' font-size="29" fill="#000" text-anchor="middle">
<text x="279.6" y="1055.6">8</text>
<text x="460.8" y="1055.6">9</text>
<text x="642" y="1055.6">10</text>
<text x="823.2" y="1055.6">11</text>
<text x="1004.4" y="1055.6">12</text>
<text x="1185.6" y="1055.6">13</text>
</g>
<text x="736" y="1090.3" text-anchor="middle" font-family='"Liberation Sans", sans-serif' font-size="28" letter-spacing="0.35" fill="#000">Time (seconds)</text>
<g font-family='"Liberation Sans", sans-serif' font-size="33.5" fill="#000">
<text x="137.8" y="615">Frontal/</text><text x="138.8" y="655.6">Central</text>
<text x="108" y="758.2">Temporal/</text><text x="107" y="800">Central</text>
<text x="120.6" y="920.4">Parietal/</text><text x="121.6" y="961">Occipital</text>
</g>
</svg>
</body></html>
